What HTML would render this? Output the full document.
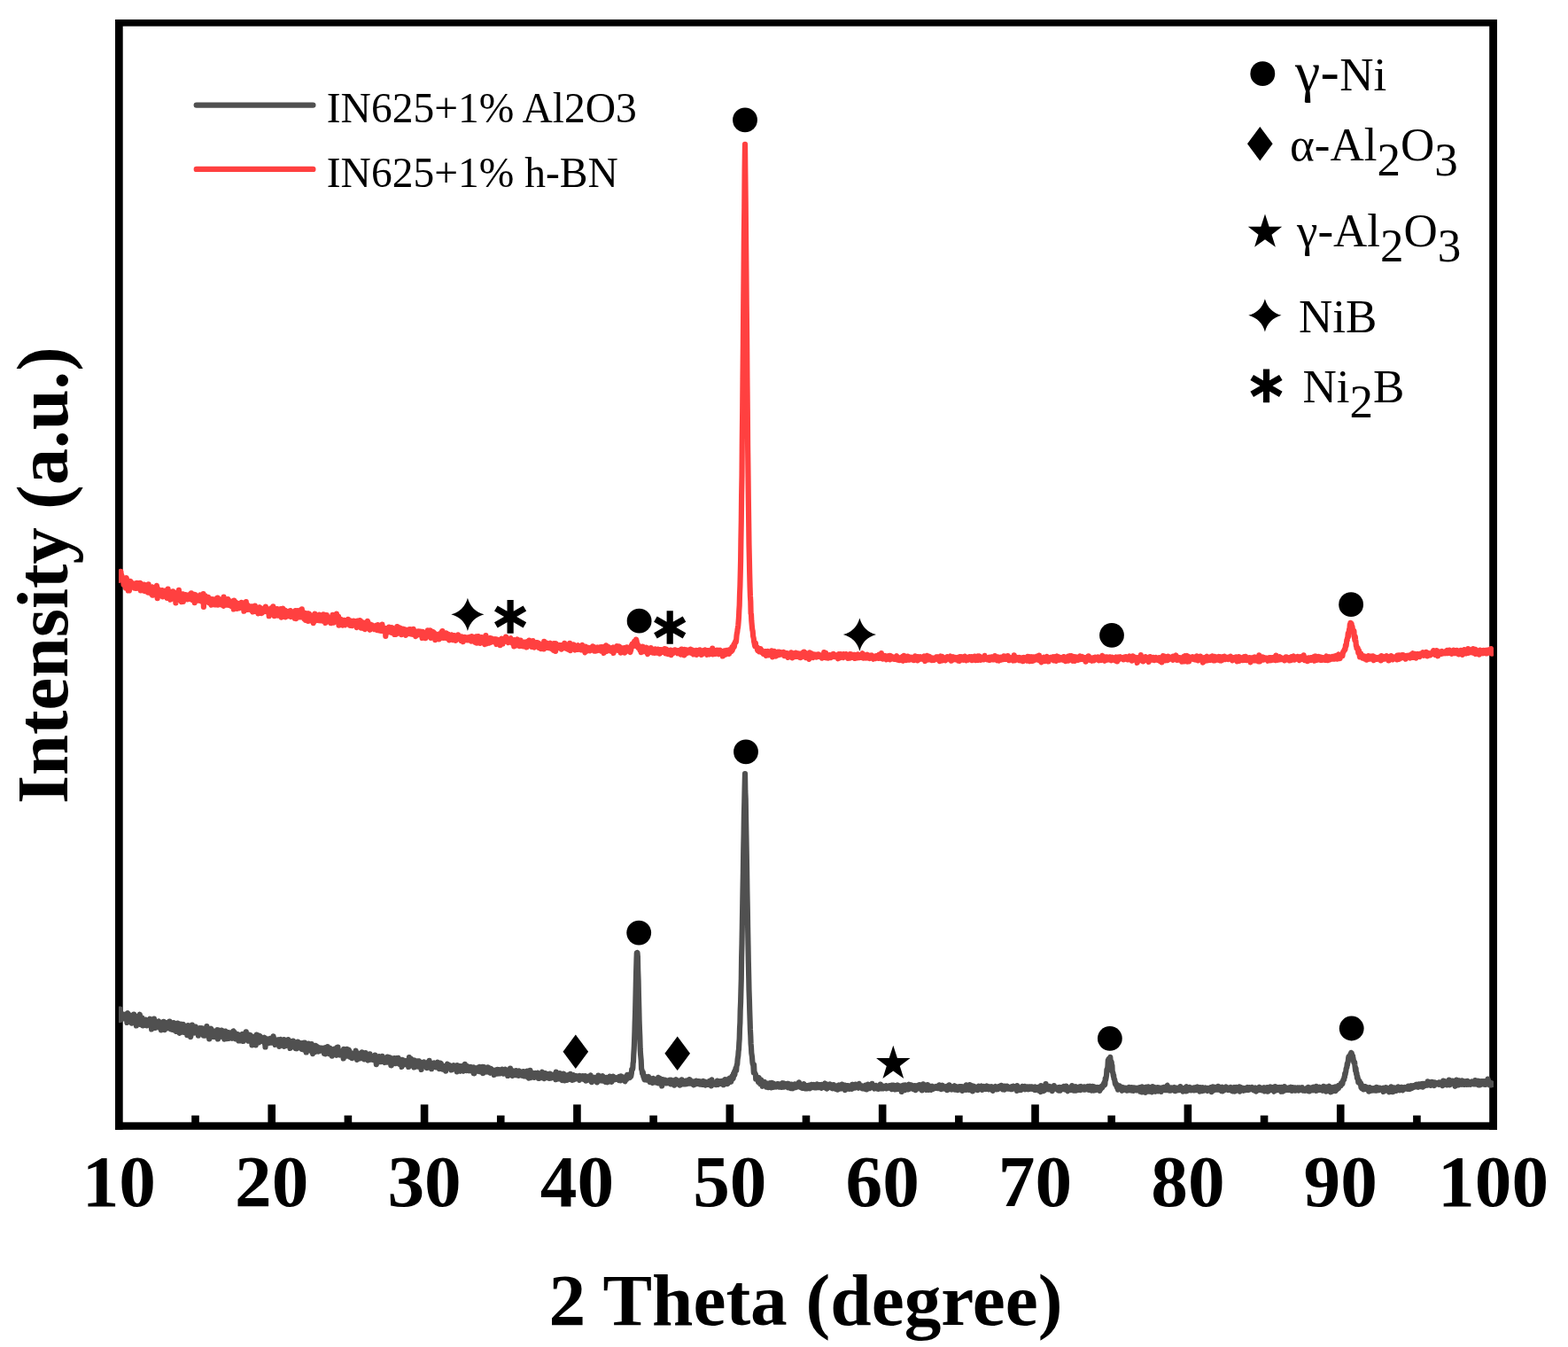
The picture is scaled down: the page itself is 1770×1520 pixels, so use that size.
<!DOCTYPE html>
<html lang="en"><head><meta charset="utf-8"><title>XRD patterns</title>
<style>html,body{margin:0;padding:0;background:#fff;}body{width:1770px;height:1520px;overflow:hidden;}svg{display:block;}</style>
</head><body>
<svg width="1770" height="1520" viewBox="0 0 1770 1520">
<rect width="1770" height="1520" fill="#fff"/>
<g fill="#000">
<rect x="130.0" y="22.0" width="8.70" height="1252.80"/>
<rect x="1681.2" y="22.0" width="8.80" height="1252.80"/>
<rect x="130.0" y="22.0" width="1560.00" height="7.65"/>
<rect x="130.0" y="1266.35" width="1560.00" height="8.45"/>
<rect x="216.23" y="1258.7" width="8.6" height="8.65"/>
<rect x="302.41" y="1246.4" width="8.6" height="20.95"/>
<rect x="388.59" y="1258.7" width="8.6" height="8.65"/>
<rect x="474.77" y="1246.4" width="8.6" height="20.95"/>
<rect x="560.95" y="1258.7" width="8.6" height="8.65"/>
<rect x="647.13" y="1246.4" width="8.6" height="20.95"/>
<rect x="733.31" y="1258.7" width="8.6" height="8.65"/>
<rect x="819.49" y="1246.4" width="8.6" height="20.95"/>
<rect x="905.68" y="1258.7" width="8.6" height="8.65"/>
<rect x="991.86" y="1246.4" width="8.6" height="20.95"/>
<rect x="1078.04" y="1258.7" width="8.6" height="8.65"/>
<rect x="1164.22" y="1246.4" width="8.6" height="20.95"/>
<rect x="1250.40" y="1258.7" width="8.6" height="8.65"/>
<rect x="1336.58" y="1246.4" width="8.6" height="20.95"/>
<rect x="1422.76" y="1258.7" width="8.6" height="8.65"/>
<rect x="1508.94" y="1246.4" width="8.6" height="20.95"/>
<rect x="1595.12" y="1258.7" width="8.6" height="8.65"/>
</g>
<defs><clipPath id="plotclip"><rect x="134.0" y="30" width="1552.0" height="1240"/></clipPath></defs>
<g clip-path="url(#plotclip)">
<path d="M134.3,1146.1 134.7,1144.2 135.0,1144.6 135.4,1138.7 135.7,1151.2 136.1,1149.4 136.4,1145.2 136.8,1148.5 137.1,1147.2 137.5,1144.8 137.8,1149.4 138.2,1145.7 138.5,1145.8 138.9,1144.5 139.2,1148.2 139.6,1146.7 139.9,1148.7 140.3,1145.4 140.6,1147.7 141.0,1144.8 141.3,1149.9 141.7,1148.1 142.0,1148.6 142.4,1148.9 142.7,1144.9 143.1,1150.2 143.4,1154.0 143.8,1143.4 144.1,1143.2 144.5,1144.0 144.8,1150.8 145.2,1148.9 145.5,1151.7 145.9,1150.8 146.2,1149.4 146.6,1149.7 146.9,1148.5 147.3,1151.5 147.6,1145.9 148.0,1148.0 148.3,1150.0 148.7,1154.6 149.0,1147.3 149.4,1146.5 149.7,1148.0 150.1,1152.5 150.4,1149.2 150.8,1153.7 151.1,1144.6 151.5,1153.3 151.8,1153.1 152.2,1146.2 152.5,1150.8 152.9,1153.9 153.2,1150.8 153.6,1153.5 153.9,1157.5 154.3,1151.6 154.6,1150.1 155.0,1148.7 155.3,1152.9 155.7,1150.5 156.0,1150.7 156.4,1151.0 156.7,1153.2 157.1,1148.4 157.4,1147.2 157.8,1144.7 158.1,1155.1 158.5,1152.0 158.8,1156.1 159.2,1151.9 159.5,1149.9 159.9,1153.4 160.2,1152.0 160.6,1148.7 160.9,1149.8 161.3,1157.4 161.6,1153.5 162.0,1153.7 162.3,1151.9 162.7,1150.8 163.0,1155.3 163.4,1152.6 163.7,1150.8 164.1,1152.6 164.4,1150.5 164.8,1153.7 165.1,1156.4 165.5,1151.0 165.8,1157.4 166.2,1151.6 166.5,1154.0 166.9,1151.3 167.2,1153.1 167.6,1153.9 167.9,1152.6 168.3,1151.9 168.6,1152.1 169.0,1151.8 169.3,1149.7 169.7,1153.5 170.0,1155.4 170.4,1156.9 170.7,1156.2 171.1,1161.4 171.4,1155.5 171.8,1153.4 172.1,1160.0 172.5,1151.9 172.8,1157.6 173.2,1152.3 173.5,1156.0 173.9,1149.6 174.2,1157.7 174.6,1154.8 174.9,1152.6 175.3,1160.0 175.6,1157.6 176.0,1155.6 176.3,1153.5 176.7,1155.5 177.0,1155.3 177.4,1157.8 177.7,1158.1 178.1,1154.1 178.4,1154.5 178.8,1154.6 179.1,1152.4 179.5,1154.6 179.8,1156.0 180.2,1158.3 180.5,1160.1 180.9,1154.3 181.2,1158.1 181.6,1155.4 181.9,1162.4 182.3,1156.6 182.6,1158.2 183.0,1154.3 183.3,1154.7 183.7,1157.6 184.0,1156.0 184.4,1158.1 184.7,1152.9 185.1,1159.1 185.4,1154.9 185.8,1162.2 186.1,1156.7 186.5,1160.6 186.8,1153.8 187.2,1158.9 187.5,1155.3 187.9,1156.5 188.2,1158.0 188.6,1157.1 188.9,1158.8 189.3,1160.2 189.6,1160.0 190.0,1158.0 190.3,1154.6 190.7,1156.2 191.0,1157.9 191.4,1152.7 191.7,1160.6 192.1,1158.0 192.4,1158.0 192.8,1161.3 193.1,1160.6 193.5,1159.5 193.8,1156.2 194.2,1159.8 194.5,1160.0 194.9,1156.7 195.2,1162.0 195.6,1160.6 195.9,1154.0 196.3,1159.7 196.6,1156.0 197.0,1162.6 197.3,1161.8 197.7,1156.6 198.0,1157.3 198.4,1160.0 198.7,1159.2 199.1,1164.0 199.4,1161.9 199.8,1159.2 200.1,1161.6 200.5,1154.6 200.8,1161.0 201.2,1162.6 201.5,1159.8 201.9,1158.4 202.2,1162.0 202.6,1165.8 202.9,1161.1 203.3,1157.6 203.6,1164.6 204.0,1155.6 204.3,1162.1 204.7,1159.3 205.0,1163.4 205.4,1158.7 205.7,1164.6 206.1,1161.9 206.4,1156.5 206.8,1155.9 207.1,1160.4 207.5,1164.8 207.8,1161.7 208.2,1161.6 208.5,1160.8 208.9,1163.5 209.2,1162.6 209.6,1162.4 209.9,1159.1 210.3,1164.9 210.6,1165.5 211.0,1158.4 211.3,1168.1 211.7,1163.9 212.0,1160.7 212.4,1157.0 212.7,1163.9 213.1,1163.7 213.4,1160.7 213.8,1157.5 214.1,1165.4 214.5,1160.8 214.8,1161.2 215.2,1170.1 215.5,1168.3 215.9,1165.2 216.2,1161.5 216.6,1164.5 216.9,1156.7 217.3,1163.1 217.6,1160.9 218.0,1159.5 218.3,1158.8 218.7,1164.5 219.0,1163.3 219.4,1163.6 219.7,1165.5 220.1,1161.0 220.4,1160.0 220.8,1158.6 221.1,1162.5 221.5,1165.5 221.8,1163.1 222.2,1165.3 222.5,1160.5 222.9,1162.4 223.2,1161.7 223.6,1160.4 223.9,1168.7 224.3,1166.1 224.6,1161.9 225.0,1161.9 225.3,1163.9 225.7,1160.2 226.0,1165.3 226.4,1160.7 226.7,1163.2 227.1,1161.5 227.4,1163.0 227.8,1160.8 228.1,1160.2 228.5,1161.9 228.8,1162.7 229.2,1163.7 229.5,1164.8 229.9,1168.7 230.2,1166.8 230.6,1164.0 230.9,1166.7 231.3,1163.0 231.6,1168.7 232.0,1166.3 232.3,1161.4 232.7,1167.0 233.0,1167.2 233.4,1158.0 233.7,1163.2 234.1,1163.9 234.4,1160.1 234.8,1162.5 235.1,1162.8 235.5,1166.7 235.8,1166.2 236.2,1172.3 236.5,1164.4 236.9,1168.6 237.2,1165.8 237.6,1166.3 237.9,1162.6 238.3,1160.7 238.6,1163.7 239.0,1167.8 239.3,1170.0 239.7,1167.5 240.0,1167.2 240.4,1163.8 240.7,1170.0 241.1,1169.6 241.4,1164.7 241.8,1166.0 242.1,1163.6 242.5,1170.1 242.8,1167.3 243.2,1166.1 243.5,1167.4 243.9,1167.6 244.2,1165.4 244.6,1163.3 244.9,1163.2 245.3,1162.1 245.6,1167.8 246.0,1172.5 246.3,1162.3 246.7,1167.1 247.0,1167.9 247.4,1164.3 247.7,1167.4 248.1,1164.1 248.4,1170.1 248.8,1165.5 249.1,1167.4 249.5,1168.9 249.8,1166.1 250.2,1162.6 250.5,1165.9 250.9,1169.3 251.2,1167.1 251.6,1168.0 251.9,1164.7 252.3,1167.9 252.6,1169.4 253.0,1167.7 253.3,1172.6 253.7,1167.2 254.0,1165.0 254.4,1163.6 254.7,1170.8 255.1,1167.7 255.4,1170.5 255.8,1169.2 256.1,1172.2 256.5,1171.3 256.8,1167.1 257.2,1168.9 257.5,1171.0 257.9,1165.1 258.2,1172.0 258.6,1171.5 258.9,1170.9 259.3,1167.9 259.6,1169.3 260.0,1165.7 260.3,1168.7 260.7,1167.1 261.0,1168.9 261.4,1167.5 261.7,1169.5 262.1,1171.8 262.4,1165.5 262.8,1171.3 263.1,1163.8 263.5,1163.5 263.8,1168.7 264.2,1169.1 264.5,1170.3 264.9,1165.0 265.2,1169.1 265.6,1169.6 265.9,1172.5 266.3,1169.1 266.6,1170.8 267.0,1167.0 267.3,1169.0 267.7,1168.4 268.0,1171.4 268.4,1167.1 268.7,1167.6 269.1,1171.2 269.4,1174.4 269.8,1170.8 270.1,1170.7 270.5,1169.1 270.8,1172.8 271.2,1171.4 271.5,1174.5 271.9,1171.0 272.2,1167.7 272.6,1168.8 272.9,1167.7 273.3,1167.1 273.6,1173.6 274.0,1172.5 274.3,1167.3 274.7,1175.0 275.0,1171.2 275.4,1168.2 275.7,1171.6 276.1,1170.5 276.4,1168.8 276.8,1165.8 277.1,1170.9 277.5,1171.6 277.8,1164.4 278.2,1172.4 278.5,1172.6 278.9,1169.9 279.2,1171.4 279.6,1170.4 279.9,1169.1 280.3,1170.3 280.6,1174.7 281.0,1167.7 281.3,1172.0 281.7,1171.9 282.0,1169.7 282.4,1170.4 282.7,1168.0 283.1,1169.5 283.4,1171.7 283.8,1172.5 284.1,1169.5 284.5,1179.5 284.8,1170.4 285.2,1172.2 285.5,1171.4 285.9,1171.0 286.2,1175.3 286.6,1170.9 286.9,1175.5 287.3,1175.1 287.6,1169.6 288.0,1174.9 288.3,1170.7 288.7,1179.3 289.0,1171.5 289.4,1170.1 289.7,1167.7 290.1,1169.3 290.4,1171.2 290.8,1170.2 291.1,1169.6 291.5,1171.0 291.8,1172.3 292.2,1176.5 292.5,1168.7 292.9,1171.6 293.2,1170.6 293.6,1169.3 293.9,1170.0 294.3,1170.9 294.6,1175.0 295.0,1172.8 295.3,1172.0 295.7,1174.9 296.0,1174.1 296.4,1172.9 296.7,1174.5 297.1,1171.5 297.4,1175.2 297.8,1174.8 298.1,1172.7 298.5,1170.7 298.8,1177.6 299.2,1174.1 299.5,1181.5 299.9,1172.4 300.2,1176.2 300.6,1173.0 300.9,1174.8 301.3,1176.3 301.6,1172.3 302.0,1174.0 302.3,1174.7 302.7,1174.7 303.0,1175.9 303.4,1177.0 303.7,1176.6 304.1,1175.3 304.4,1173.8 304.8,1171.9 305.1,1172.9 305.5,1173.5 305.8,1176.6 306.2,1174.0 306.5,1171.9 306.9,1176.6 307.2,1173.1 307.6,1173.2 307.9,1174.6 308.3,1176.4 308.6,1169.4 309.0,1172.6 309.3,1175.8 309.7,1174.6 310.0,1173.4 310.4,1174.2 310.7,1179.0 311.1,1174.6 311.4,1177.5 311.8,1177.7 312.1,1174.7 312.5,1177.0 312.8,1174.8 313.2,1174.5 313.5,1173.3 313.9,1178.3 314.2,1175.2 314.6,1174.9 314.9,1173.5 315.3,1180.8 315.6,1178.2 316.0,1176.1 316.3,1174.8 316.7,1172.8 317.0,1177.3 317.4,1177.4 317.7,1173.3 318.1,1179.6 318.4,1178.7 318.8,1174.5 319.1,1175.6 319.5,1176.0 319.8,1177.4 320.2,1176.8 320.5,1173.2 320.9,1180.8 321.2,1178.0 321.6,1180.4 321.9,1180.4 322.3,1176.9 322.6,1178.3 323.0,1179.3 323.3,1179.5 323.7,1177.3 324.0,1176.2 324.4,1177.9 324.7,1175.9 325.1,1176.6 325.4,1173.0 325.8,1178.2 326.1,1175.6 326.5,1176.8 326.8,1178.1 327.2,1179.0 327.5,1182.9 327.9,1178.8 328.2,1175.0 328.6,1178.8 328.9,1177.1 329.3,1179.5 329.6,1177.0 330.0,1177.0 330.3,1177.5 330.7,1177.3 331.0,1174.5 331.4,1177.3 331.7,1178.9 332.1,1181.9 332.4,1178.4 332.8,1178.3 333.1,1180.6 333.5,1180.6 333.8,1183.2 334.2,1180.8 334.5,1179.4 334.9,1182.7 335.2,1183.2 335.6,1178.5 335.9,1180.1 336.3,1175.7 336.6,1178.9 337.0,1177.7 337.3,1179.4 337.7,1178.8 338.0,1179.6 338.4,1179.8 338.7,1181.3 339.1,1180.7 339.4,1178.9 339.8,1177.2 340.1,1183.3 340.5,1183.8 340.8,1179.4 341.2,1181.9 341.5,1177.0 341.9,1176.9 342.2,1180.1 342.6,1184.3 342.9,1178.3 343.3,1178.9 343.6,1184.8 344.0,1176.5 344.3,1182.6 344.7,1182.3 345.0,1180.7 345.4,1181.7 345.7,1187.5 346.1,1178.7 346.4,1180.7 346.8,1180.9 347.1,1179.9 347.5,1178.4 347.8,1185.4 348.2,1182.2 348.5,1177.6 348.9,1180.2 349.2,1182.8 349.6,1182.9 349.9,1178.6 350.3,1181.8 350.6,1182.7 351.0,1183.1 351.3,1183.1 351.7,1178.0 352.0,1186.7 352.4,1182.9 352.7,1186.7 353.1,1189.2 353.4,1182.2 353.8,1179.7 354.1,1184.7 354.5,1182.3 354.8,1181.7 355.2,1180.4 355.5,1186.9 355.9,1181.9 356.2,1179.8 356.6,1182.1 356.9,1180.5 357.3,1183.6 357.6,1182.3 358.0,1180.9 358.3,1184.8 358.7,1182.0 359.0,1185.2 359.4,1186.5 359.7,1182.8 360.1,1182.2 360.4,1184.2 360.8,1185.9 361.1,1183.9 361.5,1184.3 361.8,1183.9 362.2,1184.8 362.5,1185.6 362.9,1182.5 363.2,1183.1 363.6,1184.4 363.9,1182.8 364.3,1184.7 364.6,1185.7 365.0,1184.5 365.3,1183.2 365.7,1182.9 366.0,1188.8 366.4,1186.8 366.7,1182.3 367.1,1183.0 367.4,1189.3 367.8,1188.5 368.1,1185.4 368.5,1187.8 368.8,1181.8 369.2,1185.3 369.5,1187.0 369.9,1181.1 370.2,1183.6 370.6,1187.3 370.9,1188.2 371.3,1184.3 371.6,1186.3 372.0,1189.4 372.3,1184.9 372.7,1182.8 373.0,1185.8 373.4,1185.1 373.7,1189.0 374.1,1186.5 374.4,1184.3 374.8,1191.7 375.1,1185.1 375.5,1187.4 375.8,1187.9 376.2,1188.3 376.5,1186.9 376.9,1187.9 377.2,1186.5 377.6,1183.5 377.9,1186.3 378.3,1186.4 378.6,1186.5 379.0,1187.3 379.3,1185.6 379.7,1190.1 380.0,1190.7 380.4,1182.2 380.7,1187.3 381.1,1185.7 381.4,1181.5 381.8,1188.4 382.1,1186.1 382.5,1186.7 382.8,1186.1 383.2,1190.1 383.5,1190.5 383.9,1188.4 384.2,1189.4 384.6,1187.7 384.9,1188.3 385.3,1186.4 385.6,1188.2 386.0,1186.5 386.3,1189.0 386.7,1190.1 387.0,1189.0 387.4,1191.0 387.7,1194.5 388.1,1183.8 388.4,1188.6 388.8,1187.4 389.1,1187.7 389.5,1185.7 389.8,1188.9 390.2,1188.3 390.5,1187.5 390.9,1188.4 391.2,1187.7 391.6,1183.9 391.9,1191.6 392.3,1188.5 392.6,1187.2 393.0,1190.0 393.3,1187.9 393.7,1184.6 394.0,1191.5 394.4,1185.8 394.7,1189.2 395.1,1190.0 395.4,1192.8 395.8,1192.5 396.1,1190.2 396.5,1188.2 396.8,1189.1 397.2,1192.5 397.5,1194.1 397.9,1191.4 398.2,1188.8 398.6,1192.6 398.9,1189.5 399.3,1189.5 399.6,1189.9 400.0,1191.9 400.3,1191.2 400.7,1192.9 401.0,1193.6 401.4,1191.9 401.7,1185.7 402.1,1187.2 402.4,1191.3 402.8,1190.9 403.1,1195.9 403.5,1191.1 403.8,1190.9 404.2,1193.4 404.5,1193.7 404.9,1190.9 405.2,1192.5 405.6,1189.1 405.9,1189.5 406.3,1194.4 406.6,1188.6 407.0,1193.8 407.3,1193.3 407.7,1193.6 408.0,1194.0 408.4,1193.3 408.7,1187.4 409.1,1190.0 409.4,1190.9 409.8,1194.3 410.1,1189.9 410.5,1190.9 410.8,1191.7 411.2,1195.4 411.5,1189.4 411.9,1189.7 412.2,1194.1 412.6,1188.2 412.9,1193.5 413.3,1191.9 413.6,1189.5 414.0,1192.1 414.3,1190.9 414.7,1193.5 415.0,1194.0 415.4,1196.5 415.7,1193.3 416.1,1193.6 416.4,1192.2 416.8,1193.4 417.1,1195.8 417.5,1189.4 417.8,1195.1 418.2,1192.5 418.5,1193.9 418.9,1194.5 419.2,1195.7 419.6,1194.4 419.9,1193.1 420.3,1194.7 420.6,1194.1 421.0,1193.7 421.3,1194.6 421.7,1196.1 422.0,1194.6 422.4,1194.7 422.7,1191.7 423.1,1194.2 423.4,1190.6 423.8,1196.1 424.1,1192.6 424.5,1197.5 424.8,1201.1 425.2,1194.0 425.5,1197.7 425.9,1195.8 426.2,1193.8 426.6,1193.2 426.9,1196.3 427.3,1198.1 427.6,1195.9 428.0,1192.0 428.3,1193.1 428.7,1194.8 429.0,1198.2 429.4,1196.0 429.7,1196.2 430.1,1198.1 430.4,1195.1 430.8,1195.4 431.1,1195.3 431.5,1191.9 431.8,1196.7 432.2,1196.7 432.5,1197.9 432.9,1193.4 433.2,1194.2 433.6,1198.0 433.9,1196.7 434.3,1199.0 434.6,1194.3 435.0,1196.6 435.3,1194.8 435.7,1196.9 436.0,1195.3 436.4,1197.5 436.7,1198.7 437.1,1197.8 437.4,1192.7 437.8,1198.5 438.1,1197.5 438.5,1194.4 438.8,1194.8 439.2,1196.7 439.5,1197.9 439.9,1195.8 440.2,1193.4 440.6,1197.5 440.9,1197.3 441.3,1202.1 441.6,1194.3 442.0,1202.3 442.3,1200.7 442.7,1197.7 443.0,1200.6 443.4,1197.4 443.7,1199.3 444.1,1195.7 444.4,1197.5 444.8,1195.2 445.1,1194.1 445.5,1196.9 445.8,1196.1 446.2,1198.7 446.5,1200.2 446.9,1197.3 447.2,1197.8 447.6,1198.1 447.9,1194.2 448.3,1198.3 448.6,1197.8 449.0,1197.7 449.3,1195.6 449.7,1193.8 450.0,1197.4 450.4,1198.7 450.7,1200.8 451.1,1200.4 451.4,1201.1 451.8,1198.9 452.1,1200.6 452.5,1197.8 452.8,1199.6 453.2,1200.2 453.5,1203.9 453.9,1198.9 454.2,1195.8 454.6,1201.3 454.9,1196.9 455.3,1198.4 455.6,1198.0 456.0,1196.7 456.3,1201.4 456.7,1199.9 457.0,1197.5 457.4,1198.9 457.7,1197.9 458.1,1200.1 458.4,1198.1 458.8,1197.3 459.1,1197.6 459.5,1198.1 459.8,1199.6 460.2,1197.2 460.5,1198.9 460.9,1200.1 461.2,1204.0 461.6,1201.0 461.9,1193.1 462.3,1198.3 462.6,1198.5 463.0,1200.0 463.3,1202.6 463.7,1201.0 464.0,1194.8 464.4,1200.2 464.7,1199.8 465.1,1200.4 465.4,1202.4 465.8,1197.5 466.1,1202.0 466.5,1196.4 466.8,1199.9 467.2,1200.6 467.5,1204.5 467.9,1198.5 468.2,1196.5 468.6,1201.4 468.9,1198.7 469.3,1203.2 469.6,1198.7 470.0,1198.4 470.3,1202.7 470.7,1200.4 471.0,1202.3 471.4,1197.4 471.7,1203.7 472.1,1199.2 472.4,1202.1 472.8,1198.4 473.1,1197.3 473.5,1200.0 473.8,1200.9 474.2,1203.8 474.5,1201.3 474.9,1202.1 475.2,1202.0 475.6,1207.0 475.9,1199.1 476.3,1203.4 476.6,1200.6 477.0,1201.4 477.3,1199.9 477.7,1203.3 478.0,1198.5 478.4,1198.4 478.7,1200.7 479.1,1198.8 479.4,1202.6 479.8,1203.1 480.1,1199.8 480.5,1202.9 480.8,1200.0 481.2,1201.3 481.5,1201.5 481.9,1205.2 482.2,1201.5 482.6,1199.7 482.9,1199.8 483.3,1204.1 483.6,1198.3 484.0,1200.8 484.3,1201.0 484.7,1196.9 485.0,1200.9 485.4,1203.9 485.7,1202.4 486.1,1200.2 486.4,1203.4 486.8,1203.1 487.1,1206.2 487.5,1200.7 487.8,1201.4 488.2,1202.3 488.5,1202.0 488.9,1202.5 489.2,1202.2 489.6,1201.0 489.9,1199.3 490.3,1201.4 490.6,1199.8 491.0,1200.5 491.3,1201.6 491.7,1203.7 492.0,1204.4 492.4,1200.7 492.7,1203.4 493.1,1204.4 493.4,1202.8 493.8,1199.7 494.1,1198.7 494.5,1204.6 494.8,1204.9 495.2,1203.7 495.5,1201.1 495.9,1206.1 496.2,1205.6 496.6,1203.2 496.9,1202.9 497.3,1199.5 497.6,1204.9 498.0,1200.3 498.3,1204.8 498.7,1205.0 499.0,1203.8 499.4,1206.7 499.7,1203.0 500.1,1204.9 500.4,1205.3 500.8,1204.3 501.1,1203.0 501.5,1206.3 501.8,1204.8 502.2,1203.6 502.5,1203.7 502.9,1204.3 503.2,1208.6 503.6,1204.4 503.9,1203.7 504.3,1202.2 504.6,1201.9 505.0,1200.6 505.3,1204.8 505.7,1204.5 506.0,1202.4 506.4,1201.6 506.7,1203.9 507.1,1203.5 507.4,1202.0 507.8,1205.2 508.1,1205.0 508.5,1204.6 508.8,1206.3 509.2,1203.5 509.5,1207.5 509.9,1202.9 510.2,1205.9 510.6,1206.2 510.9,1204.5 511.3,1205.7 511.6,1202.6 512.0,1202.2 512.3,1204.8 512.7,1203.8 513.0,1206.4 513.4,1205.3 513.7,1206.5 514.1,1206.0 514.4,1205.8 514.8,1205.6 515.1,1204.7 515.5,1204.6 515.8,1209.4 516.2,1202.2 516.5,1205.2 516.9,1207.6 517.2,1206.5 517.6,1208.4 517.9,1206.8 518.3,1203.3 518.6,1205.2 519.0,1203.1 519.3,1207.7 519.7,1208.7 520.0,1205.1 520.4,1207.0 520.7,1205.2 521.1,1203.3 521.4,1205.2 521.8,1203.0 522.1,1205.0 522.5,1206.5 522.8,1207.6 523.2,1208.7 523.5,1205.6 523.9,1206.7 524.2,1207.1 524.6,1207.4 524.9,1200.9 525.3,1204.9 525.6,1207.9 526.0,1204.3 526.3,1207.0 526.7,1208.1 527.0,1202.9 527.4,1206.2 527.7,1207.1 528.1,1206.7 528.4,1203.7 528.8,1207.3 529.1,1205.7 529.5,1208.3 529.8,1207.6 530.2,1205.8 530.5,1207.2 530.9,1205.5 531.2,1205.6 531.6,1203.9 531.9,1206.5 532.3,1208.5 532.6,1207.2 533.0,1207.0 533.3,1205.8 533.7,1206.1 534.0,1208.5 534.4,1204.3 534.7,1211.0 535.1,1207.0 535.4,1211.3 535.8,1209.4 536.1,1206.5 536.5,1208.7 536.8,1207.8 537.2,1208.2 537.5,1208.8 537.9,1206.3 538.2,1206.2 538.6,1206.6 538.9,1204.9 539.3,1207.0 539.6,1207.9 540.0,1208.0 540.3,1207.9 540.7,1206.8 541.0,1209.1 541.4,1203.8 541.7,1206.9 542.1,1207.1 542.4,1209.4 542.8,1209.0 543.1,1209.3 543.5,1207.8 543.8,1209.6 544.2,1205.9 544.5,1208.0 544.9,1203.9 545.2,1211.1 545.6,1210.9 545.9,1206.8 546.3,1206.4 546.6,1204.1 547.0,1205.2 547.3,1208.3 547.7,1207.8 548.0,1205.3 548.4,1207.2 548.7,1206.9 549.1,1209.1 549.4,1209.5 549.8,1207.8 550.1,1208.5 550.5,1208.3 550.8,1204.4 551.2,1208.7 551.5,1208.3 551.9,1209.8 552.2,1205.0 552.6,1209.9 552.9,1207.3 553.3,1209.0 553.6,1210.8 554.0,1205.8 554.3,1206.2 554.7,1210.5 555.0,1206.6 555.4,1206.9 555.7,1209.9 556.1,1208.4 556.4,1210.2 556.8,1209.4 557.1,1208.8 557.5,1210.7 557.8,1213.0 558.2,1208.7 558.5,1211.7 558.9,1211.1 559.2,1209.2 559.6,1209.9 559.9,1207.3 560.3,1208.0 560.6,1209.6 561.0,1209.1 561.3,1211.6 561.7,1206.8 562.0,1208.7 562.4,1208.1 562.7,1209.0 563.1,1211.5 563.4,1207.1 563.8,1211.0 564.1,1208.3 564.5,1208.9 564.8,1211.3 565.2,1209.0 565.5,1210.8 565.9,1209.8 566.2,1209.3 566.6,1209.0 566.9,1206.5 567.3,1208.3 567.6,1210.0 568.0,1210.1 568.3,1207.0 568.7,1211.7 569.0,1210.9 569.4,1207.5 569.7,1208.0 570.1,1210.9 570.4,1206.7 570.8,1208.6 571.1,1209.9 571.5,1209.8 571.8,1210.0 572.2,1210.8 572.5,1208.7 572.9,1209.3 573.2,1214.0 573.6,1207.7 573.9,1209.5 574.3,1210.5 574.6,1209.2 575.0,1212.6 575.3,1210.5 575.7,1211.8 576.0,1205.7 576.4,1212.7 576.7,1212.6 577.1,1209.2 577.4,1213.0 577.8,1211.1 578.1,1212.3 578.5,1214.0 578.8,1210.9 579.2,1208.9 579.5,1210.8 579.9,1208.5 580.2,1209.4 580.6,1209.5 580.9,1209.6 581.3,1213.1 581.6,1212.5 582.0,1209.4 582.3,1213.1 582.7,1208.0 583.0,1209.9 583.4,1210.9 583.7,1213.3 584.1,1212.5 584.4,1212.1 584.8,1213.6 585.1,1212.6 585.5,1213.8 585.8,1210.0 586.2,1208.4 586.5,1210.7 586.9,1213.0 587.2,1212.0 587.6,1213.1 587.9,1212.8 588.3,1212.5 588.6,1213.1 589.0,1210.4 589.3,1213.7 589.7,1209.9 590.0,1211.5 590.4,1209.2 590.7,1212.7 591.1,1209.1 591.4,1214.4 591.8,1209.5 592.1,1212.4 592.5,1211.7 592.8,1210.4 593.2,1214.3 593.5,1211.3 593.9,1214.7 594.2,1210.3 594.6,1210.7 594.9,1208.6 595.3,1213.2 595.6,1213.9 596.0,1212.7 596.3,1212.0 596.7,1210.7 597.0,1216.6 597.4,1213.7 597.7,1209.1 598.1,1211.9 598.4,1207.8 598.8,1215.3 599.1,1216.1 599.5,1215.2 599.8,1212.5 600.2,1211.6 600.5,1210.2 600.9,1213.6 601.2,1211.4 601.6,1212.1 601.9,1211.7 602.3,1212.3 602.6,1214.4 603.0,1215.9 603.3,1213.2 603.7,1213.0 604.0,1211.0 604.4,1210.8 604.7,1211.1 605.1,1214.6 605.4,1213.5 605.8,1214.8 606.1,1213.9 606.5,1212.5 606.8,1211.0 607.2,1212.6 607.5,1210.7 607.9,1216.8 608.2,1213.8 608.6,1212.7 608.9,1216.9 609.3,1212.7 609.6,1214.4 610.0,1213.2 610.3,1214.1 610.7,1212.9 611.0,1214.4 611.4,1216.1 611.7,1211.4 612.1,1209.7 612.4,1216.1 612.8,1214.0 613.1,1215.3 613.5,1213.3 613.8,1216.5 614.2,1217.0 614.5,1211.8 614.9,1215.1 615.2,1212.8 615.6,1211.1 615.9,1213.4 616.3,1215.0 616.6,1211.6 617.0,1211.8 617.3,1216.2 617.7,1214.1 618.0,1214.8 618.4,1212.1 618.7,1213.0 619.1,1214.4 619.4,1214.5 619.8,1214.5 620.1,1217.0 620.5,1214.5 620.8,1211.6 621.2,1212.7 621.5,1214.2 621.9,1216.6 622.2,1213.1 622.6,1213.7 622.9,1214.3 623.3,1213.2 623.6,1213.0 624.0,1214.0 624.3,1216.2 624.7,1215.3 625.0,1214.0 625.4,1215.2 625.7,1212.3 626.1,1216.3 626.4,1215.9 626.8,1215.2 627.1,1211.8 627.5,1218.2 627.8,1209.6 628.2,1213.0 628.5,1213.1 628.9,1216.0 629.2,1212.2 629.6,1215.2 629.9,1214.6 630.3,1214.4 630.6,1216.4 631.0,1217.4 631.3,1215.6 631.7,1214.5 632.0,1211.0 632.4,1217.6 632.7,1214.5 633.1,1211.8 633.4,1215.4 633.8,1217.6 634.1,1214.9 634.5,1213.1 634.8,1219.1 635.2,1216.3 635.5,1215.8 635.9,1217.0 636.2,1211.5 636.6,1215.2 636.9,1215.0 637.3,1219.3 637.6,1214.4 638.0,1214.4 638.3,1213.0 638.7,1214.0 639.0,1215.1 639.4,1215.9 639.7,1215.2 640.1,1219.0 640.4,1216.4 640.8,1216.7 641.1,1218.0 641.5,1216.7 641.8,1214.7 642.2,1213.0 642.5,1216.3 642.9,1214.3 643.2,1218.0 643.6,1214.4 643.9,1211.9 644.3,1215.9 644.6,1217.7 645.0,1215.5 645.3,1216.2 645.7,1216.1 646.0,1218.9 646.4,1216.4 646.7,1215.9 647.1,1214.9 647.4,1213.1 647.8,1218.4 648.1,1218.0 648.5,1214.4 648.8,1217.1 649.2,1216.6 649.5,1215.4 649.9,1215.6 650.2,1217.4 650.6,1214.1 650.9,1215.3 651.3,1216.0 651.6,1216.2 652.0,1215.9 652.3,1216.6 652.7,1217.2 653.0,1214.7 653.4,1216.4 653.7,1215.4 654.1,1218.9 654.4,1213.9 654.8,1216.0 655.1,1217.6 655.5,1215.9 655.8,1215.9 656.2,1215.5 656.5,1217.0 656.9,1214.5 657.2,1216.4 657.6,1216.4 657.9,1214.0 658.3,1217.0 658.6,1215.8 659.0,1217.1 659.3,1218.1 659.7,1217.2 660.0,1214.6 660.4,1217.2 660.7,1214.0 661.1,1215.4 661.4,1219.6 661.8,1216.8 662.1,1219.5 662.5,1216.5 662.8,1216.8 663.2,1214.9 663.5,1218.5 663.9,1216.5 664.2,1218.0 664.6,1217.7 664.9,1217.9 665.3,1217.5 665.6,1216.9 666.0,1217.0 666.3,1215.8 666.7,1213.4 667.0,1217.9 667.4,1220.6 667.7,1218.9 668.1,1221.1 668.4,1218.0 668.8,1215.5 669.1,1215.5 669.5,1218.5 669.8,1217.8 670.2,1217.0 670.5,1218.5 670.9,1215.8 671.2,1218.2 671.6,1216.8 671.9,1217.6 672.3,1219.4 672.6,1217.1 673.0,1219.7 673.3,1219.6 673.7,1216.1 674.0,1221.4 674.4,1215.3 674.7,1217.3 675.1,1218.7 675.4,1213.6 675.8,1219.2 676.1,1219.4 676.5,1217.3 676.8,1218.0 677.2,1217.9 677.5,1217.2 677.9,1219.4 678.2,1217.0 678.6,1217.5 678.9,1218.2 679.3,1219.1 679.6,1219.5 680.0,1215.1 680.3,1214.2 680.7,1217.4 681.0,1217.6 681.4,1215.9 681.7,1218.2 682.1,1218.8 682.4,1218.3 682.8,1220.5 683.1,1216.0 683.5,1217.8 683.8,1221.0 684.2,1218.9 684.5,1215.9 684.9,1218.1 685.2,1219.7 685.6,1221.3 685.9,1218.9 686.3,1219.7 686.6,1215.9 687.0,1217.4 687.3,1219.8 687.7,1216.2 688.0,1217.7 688.4,1214.6 688.7,1220.3 689.1,1217.6 689.4,1218.7 689.8,1215.3 690.1,1215.6 690.5,1220.8 690.8,1217.2 691.2,1216.9 691.5,1218.6 691.9,1218.7 692.2,1214.5 692.6,1216.1 692.9,1217.9 693.3,1217.8 693.6,1218.3 694.0,1217.0 694.3,1217.3 694.7,1218.1 695.0,1216.6 695.4,1216.3 695.7,1216.8 696.1,1217.7 696.4,1217.4 696.8,1216.9 697.1,1217.3 697.5,1217.6 697.8,1218.2 698.2,1218.2 698.5,1215.5 698.9,1219.2 699.2,1214.9 699.6,1218.5 699.9,1216.4 700.3,1218.5 700.6,1219.3 701.0,1214.3 701.3,1218.4 701.7,1217.9 702.0,1216.6 702.4,1218.0 702.7,1216.5 703.1,1217.5 703.4,1215.5 703.8,1218.5 704.1,1218.1 704.5,1218.3 704.8,1215.9 705.2,1220.0 705.5,1220.2 705.9,1216.6 706.2,1216.0 706.6,1215.9 706.9,1217.7 707.3,1218.1 707.6,1215.0 708.0,1212.8 708.3,1216.8 708.7,1215.8 709.0,1216.0 709.4,1216.3 709.7,1213.4 710.1,1215.1 710.4,1214.2 710.8,1215.0 711.1,1216.1 711.5,1213.6 711.8,1211.7 712.2,1214.7 712.5,1213.1 712.9,1210.7 713.2,1206.8 713.6,1207.0 713.9,1207.0 714.3,1205.3 714.6,1200.1 715.0,1197.7 715.3,1190.2 715.7,1183.7 716.0,1177.2 716.4,1165.4 716.7,1154.4 717.1,1142.7 717.4,1128.9 717.8,1110.8 718.1,1097.6 718.5,1083.5 718.8,1075.2 719.2,1075.0 719.5,1075.3 719.9,1079.7 720.2,1095.6 720.6,1106.4 720.9,1122.0 721.3,1137.9 721.6,1151.5 722.0,1162.9 722.3,1169.7 722.7,1183.8 723.0,1188.9 723.4,1193.3 723.7,1196.5 724.1,1206.3 724.4,1206.9 724.8,1208.9 725.1,1211.3 725.5,1211.3 725.8,1209.9 726.2,1214.3 726.5,1215.5 726.9,1215.2 727.2,1217.4 727.6,1218.4 727.9,1214.3 728.3,1215.2 728.6,1217.7 729.0,1216.8 729.3,1217.1 729.7,1218.5 730.0,1218.4 730.4,1216.6 730.7,1217.8 731.1,1216.5 731.4,1217.5 731.8,1216.2 732.1,1214.9 732.5,1217.4 732.8,1217.4 733.2,1219.9 733.5,1221.1 733.9,1218.7 734.2,1219.5 734.6,1217.8 734.9,1217.4 735.3,1218.6 735.6,1218.6 736.0,1219.6 736.3,1219.4 736.7,1222.0 737.0,1219.0 737.4,1216.8 737.7,1219.7 738.1,1218.5 738.4,1219.9 738.8,1221.4 739.1,1218.7 739.5,1219.6 739.8,1220.6 740.2,1218.3 740.5,1220.2 740.9,1220.8 741.2,1221.3 741.6,1221.7 741.9,1220.9 742.3,1220.7 742.6,1217.9 743.0,1215.9 743.3,1218.6 743.7,1222.5 744.0,1220.4 744.4,1216.7 744.7,1219.6 745.1,1220.9 745.4,1217.4 745.8,1221.3 746.1,1218.6 746.5,1222.1 746.8,1220.5 747.2,1225.4 747.5,1218.4 747.9,1221.0 748.2,1218.2 748.6,1222.4 748.9,1220.8 749.3,1222.1 749.6,1220.8 750.0,1218.8 750.3,1219.6 750.7,1218.7 751.0,1219.0 751.4,1221.0 751.7,1222.4 752.1,1222.1 752.4,1221.6 752.8,1219.9 753.1,1221.6 753.5,1219.5 753.8,1221.2 754.2,1222.2 754.5,1220.6 754.9,1220.1 755.2,1220.2 755.6,1221.9 755.9,1220.4 756.3,1218.7 756.6,1220.3 757.0,1219.3 757.3,1223.3 757.7,1221.0 758.0,1218.7 758.4,1221.4 758.7,1222.1 759.1,1221.6 759.4,1220.5 759.8,1221.3 760.1,1221.5 760.5,1222.6 760.8,1221.6 761.2,1224.7 761.5,1220.8 761.9,1223.5 762.2,1221.1 762.6,1218.4 762.9,1219.3 763.3,1218.3 763.6,1218.5 764.0,1223.1 764.3,1220.1 764.7,1222.1 765.0,1219.8 765.4,1221.2 765.7,1219.6 766.1,1222.6 766.4,1220.8 766.8,1220.5 767.1,1221.0 767.5,1224.7 767.8,1222.0 768.2,1222.6 768.5,1219.3 768.9,1220.3 769.2,1221.8 769.6,1218.4 769.9,1223.4 770.3,1221.7 770.6,1221.3 771.0,1221.0 771.3,1221.0 771.7,1220.6 772.0,1223.5 772.4,1222.4 772.7,1223.3 773.1,1220.9 773.4,1220.0 773.8,1223.5 774.1,1219.5 774.5,1220.5 774.8,1222.5 775.2,1223.1 775.5,1219.4 775.9,1221.0 776.2,1221.5 776.6,1221.3 776.9,1220.1 777.3,1222.6 777.6,1220.7 778.0,1221.1 778.3,1218.0 778.7,1221.4 779.0,1218.5 779.4,1222.7 779.7,1222.3 780.1,1220.8 780.4,1221.8 780.8,1221.8 781.1,1221.4 781.5,1222.2 781.8,1221.4 782.2,1220.9 782.5,1220.4 782.9,1224.3 783.2,1222.0 783.6,1221.6 783.9,1222.8 784.3,1221.1 784.6,1221.1 785.0,1222.8 785.3,1223.3 785.7,1222.8 786.0,1219.5 786.4,1221.9 786.7,1221.7 787.1,1222.5 787.4,1220.4 787.8,1220.2 788.1,1221.6 788.5,1220.5 788.8,1220.2 789.2,1221.8 789.5,1223.3 789.9,1222.1 790.2,1223.6 790.6,1220.4 790.9,1223.0 791.3,1221.9 791.6,1220.6 792.0,1221.3 792.3,1220.7 792.7,1221.7 793.0,1220.8 793.4,1224.0 793.7,1221.5 794.1,1219.9 794.4,1221.8 794.8,1222.7 795.1,1221.6 795.5,1223.4 795.8,1220.7 796.2,1220.8 796.5,1224.6 796.9,1222.2 797.2,1223.0 797.6,1222.9 797.9,1223.1 798.3,1222.3 798.6,1221.9 799.0,1223.9 799.3,1221.5 799.7,1222.4 800.0,1223.3 800.4,1221.7 800.7,1219.9 801.1,1223.0 801.4,1224.0 801.8,1222.7 802.1,1219.8 802.5,1223.3 802.8,1225.4 803.2,1220.0 803.5,1218.3 803.9,1222.0 804.2,1222.5 804.6,1223.6 804.9,1223.7 805.3,1222.6 805.6,1223.3 806.0,1223.0 806.3,1222.7 806.7,1222.4 807.0,1222.3 807.4,1223.6 807.7,1223.1 808.1,1221.9 808.4,1224.2 808.8,1221.4 809.1,1222.2 809.5,1222.8 809.8,1219.7 810.2,1222.0 810.5,1223.9 810.9,1223.8 811.2,1220.8 811.6,1221.3 811.9,1220.9 812.3,1222.2 812.6,1222.5 813.0,1220.2 813.3,1223.0 813.7,1222.6 814.0,1222.4 814.4,1221.5 814.7,1222.2 815.1,1219.8 815.4,1222.8 815.8,1222.7 816.1,1222.2 816.5,1220.6 816.8,1224.2 817.2,1224.0 817.5,1219.4 817.9,1222.8 818.2,1222.3 818.6,1218.2 818.9,1222.8 819.3,1222.9 819.6,1222.9 820.0,1222.0 820.3,1220.6 820.7,1220.7 821.0,1222.2 821.4,1223.0 821.7,1220.4 822.1,1220.5 822.4,1221.8 822.8,1217.3 823.1,1221.1 823.5,1219.8 823.8,1216.6 824.2,1220.8 824.5,1218.0 824.9,1220.2 825.2,1220.8 825.6,1216.4 825.9,1216.1 826.3,1217.4 826.6,1214.3 827.0,1217.6 827.3,1216.2 827.7,1216.8 828.0,1211.7 828.4,1214.2 828.7,1213.8 829.1,1209.3 829.4,1212.7 829.8,1208.0 830.1,1209.4 830.5,1205.7 830.8,1207.7 831.2,1207.7 831.5,1203.3 831.9,1201.3 832.2,1201.2 832.6,1195.6 832.9,1193.5 833.3,1191.4 833.6,1186.6 834.0,1183.9 834.3,1177.6 834.7,1172.3 835.0,1160.8 835.4,1153.8 835.7,1139.6 836.1,1130.7 836.4,1118.6 836.8,1104.4 837.1,1080.9 837.5,1064.7 837.8,1046.9 838.2,1023.5 838.5,1005.2 838.9,984.0 839.2,961.1 839.6,940.7 839.9,920.5 840.3,904.7 840.6,889.9 841.0,873.1 841.3,892.7 841.7,901.4 842.0,921.3 842.4,943.0 842.7,960.0 843.1,983.8 843.4,1005.9 843.8,1025.7 844.1,1045.4 844.5,1067.0 844.8,1084.3 845.2,1101.7 845.5,1116.7 845.9,1128.2 846.2,1139.5 846.6,1151.4 846.9,1161.7 847.3,1168.8 847.6,1177.7 848.0,1182.1 848.3,1188.2 848.7,1190.8 849.0,1192.8 849.4,1198.5 849.7,1200.5 850.1,1200.5 850.4,1203.2 850.8,1210.3 851.1,1201.7 851.5,1210.5 851.8,1210.0 852.2,1211.0 852.5,1211.7 852.9,1212.3 853.2,1217.7 853.6,1214.1 853.9,1215.1 854.3,1217.5 854.6,1217.5 855.0,1217.2 855.3,1217.6 855.7,1216.5 856.0,1220.7 856.4,1217.8 856.7,1216.1 857.1,1221.8 857.4,1221.7 857.8,1221.4 858.1,1220.4 858.5,1223.2 858.8,1220.0 859.2,1218.6 859.5,1222.3 859.9,1223.5 860.2,1223.4 860.6,1225.8 860.9,1224.0 861.3,1222.6 861.6,1222.8 862.0,1224.5 862.3,1223.2 862.7,1223.2 863.0,1220.9 863.4,1223.2 863.7,1221.8 864.1,1224.1 864.4,1224.1 864.8,1225.0 865.1,1226.7 865.5,1223.8 865.8,1226.3 866.2,1222.5 866.5,1224.5 866.9,1225.7 867.2,1227.2 867.6,1222.7 867.9,1224.0 868.3,1224.7 868.6,1224.3 869.0,1223.1 869.3,1222.1 869.7,1222.8 870.0,1224.5 870.4,1222.6 870.7,1227.3 871.1,1226.5 871.4,1221.9 871.8,1224.0 872.1,1226.7 872.5,1226.9 872.8,1226.4 873.2,1222.7 873.5,1224.3 873.9,1226.7 874.2,1225.0 874.6,1224.2 874.9,1225.6 875.3,1226.3 875.6,1225.1 876.0,1225.3 876.3,1226.5 876.7,1224.1 877.0,1223.6 877.4,1226.1 877.7,1223.2 878.1,1225.7 878.4,1223.9 878.8,1226.2 879.1,1223.3 879.5,1226.7 879.8,1225.5 880.2,1224.6 880.5,1223.8 880.9,1224.8 881.2,1223.7 881.6,1223.3 881.9,1226.7 882.3,1226.0 882.6,1226.9 883.0,1223.1 883.3,1222.3 883.7,1222.8 884.0,1226.1 884.4,1226.3 884.7,1222.4 885.1,1226.7 885.4,1224.5 885.8,1223.4 886.1,1225.1 886.5,1226.0 886.8,1224.9 887.2,1224.9 887.5,1224.0 887.9,1223.1 888.2,1224.7 888.6,1222.8 888.9,1226.1 889.3,1224.0 889.6,1227.2 890.0,1222.9 890.3,1227.3 890.7,1224.0 891.0,1224.0 891.4,1225.7 891.7,1226.6 892.1,1225.2 892.4,1224.8 892.8,1228.2 893.1,1226.1 893.5,1223.6 893.8,1224.9 894.2,1227.8 894.5,1225.8 894.9,1226.6 895.2,1228.3 895.6,1224.5 895.9,1225.9 896.3,1224.4 896.6,1225.4 897.0,1226.2 897.3,1223.4 897.7,1225.6 898.0,1225.6 898.4,1227.0 898.7,1224.6 899.1,1223.6 899.4,1226.0 899.8,1223.8 900.1,1225.7 900.5,1226.3 900.8,1224.2 901.2,1225.3 901.5,1224.0 901.9,1221.3 902.2,1223.4 902.6,1222.4 902.9,1225.5 903.3,1223.9 903.6,1225.3 904.0,1225.4 904.3,1227.1 904.7,1225.0 905.0,1224.9 905.4,1226.3 905.7,1227.9 906.1,1225.4 906.4,1226.1 906.8,1225.3 907.1,1224.5 907.5,1223.3 907.8,1225.5 908.2,1225.2 908.5,1225.2 908.9,1228.5 909.2,1225.1 909.6,1226.1 909.9,1225.1 910.3,1227.4 910.6,1225.2 911.0,1228.4 911.3,1225.3 911.7,1226.8 912.0,1227.1 912.4,1225.3 912.7,1226.9 913.1,1225.8 913.4,1224.6 913.8,1224.7 914.1,1226.2 914.5,1228.3 914.8,1225.0 915.2,1226.5 915.5,1224.5 915.9,1226.1 916.2,1223.8 916.6,1224.6 916.9,1225.7 917.3,1224.7 917.6,1225.4 918.0,1227.2 918.3,1225.6 918.7,1224.7 919.0,1224.0 919.4,1225.0 919.7,1227.5 920.1,1225.7 920.4,1225.6 920.8,1226.9 921.1,1227.0 921.5,1227.3 921.8,1225.3 922.2,1224.5 922.5,1223.4 922.9,1224.8 923.2,1225.3 923.6,1226.9 923.9,1226.3 924.3,1225.0 924.6,1227.1 925.0,1224.0 925.3,1224.3 925.7,1224.2 926.0,1224.3 926.4,1225.5 926.7,1224.7 927.1,1224.8 927.4,1227.8 927.8,1223.8 928.1,1224.4 928.5,1225.6 928.8,1226.6 929.2,1226.6 929.5,1225.5 929.9,1225.4 930.2,1225.6 930.6,1227.0 930.9,1224.6 931.3,1222.5 931.6,1226.2 932.0,1224.3 932.3,1225.9 932.7,1228.0 933.0,1226.1 933.4,1228.6 933.7,1223.7 934.1,1226.3 934.4,1226.6 934.8,1227.2 935.1,1224.9 935.5,1226.2 935.8,1226.2 936.2,1226.1 936.5,1224.0 936.9,1223.5 937.2,1226.8 937.6,1226.5 937.9,1226.1 938.3,1227.0 938.6,1227.6 939.0,1224.4 939.3,1227.2 939.7,1228.2 940.0,1227.6 940.4,1226.9 940.7,1227.1 941.1,1224.0 941.4,1225.4 941.8,1227.6 942.1,1228.3 942.5,1226.8 942.8,1225.5 943.2,1226.0 943.5,1227.4 943.9,1229.1 944.2,1227.3 944.6,1225.4 944.9,1227.1 945.3,1226.8 945.6,1229.7 946.0,1227.1 946.3,1226.3 946.7,1226.1 947.0,1224.5 947.4,1224.7 947.7,1225.6 948.1,1225.1 948.4,1226.5 948.8,1226.4 949.1,1227.6 949.5,1228.4 949.8,1226.5 950.2,1226.0 950.5,1223.6 950.9,1226.8 951.2,1227.2 951.6,1225.2 951.9,1225.7 952.3,1225.3 952.6,1227.8 953.0,1227.2 953.3,1228.1 953.7,1224.6 954.0,1230.1 954.4,1225.1 954.7,1224.9 955.1,1226.6 955.4,1225.5 955.8,1228.9 956.1,1225.7 956.5,1225.4 956.8,1227.7 957.2,1228.1 957.5,1225.1 957.9,1225.7 958.2,1225.8 958.6,1226.1 958.9,1228.8 959.3,1228.2 959.6,1227.9 960.0,1228.2 960.3,1226.4 960.7,1227.6 961.0,1226.3 961.4,1225.3 961.7,1228.8 962.1,1223.9 962.4,1226.4 962.8,1225.6 963.1,1224.0 963.5,1225.8 963.8,1226.5 964.2,1227.0 964.5,1225.2 964.9,1227.5 965.2,1226.8 965.6,1227.6 965.9,1223.6 966.3,1225.7 966.6,1225.5 967.0,1227.2 967.3,1225.3 967.7,1225.7 968.0,1224.8 968.4,1224.7 968.7,1225.1 969.1,1227.8 969.4,1224.9 969.8,1222.9 970.1,1226.8 970.5,1225.8 970.8,1227.2 971.2,1227.2 971.5,1226.0 971.9,1225.8 972.2,1225.6 972.6,1226.4 972.9,1225.3 973.3,1226.7 973.6,1228.4 974.0,1225.5 974.3,1225.6 974.7,1225.5 975.0,1227.3 975.4,1227.4 975.7,1228.5 976.1,1227.5 976.4,1226.7 976.8,1227.1 977.1,1224.6 977.5,1227.3 977.8,1226.7 978.2,1229.5 978.5,1228.5 978.9,1225.3 979.2,1225.7 979.6,1227.8 979.9,1223.6 980.3,1225.2 980.6,1227.1 981.0,1227.4 981.3,1226.8 981.7,1228.2 982.0,1226.2 982.4,1226.7 982.7,1226.3 983.1,1225.0 983.4,1226.6 983.8,1225.8 984.1,1226.7 984.5,1222.9 984.8,1226.7 985.2,1225.8 985.5,1225.7 985.9,1226.6 986.2,1225.9 986.6,1227.9 986.9,1228.4 987.3,1227.9 987.6,1228.0 988.0,1227.1 988.3,1226.7 988.7,1224.8 989.0,1226.1 989.4,1228.3 989.7,1227.7 990.1,1225.9 990.4,1226.8 990.8,1228.1 991.1,1226.4 991.5,1228.9 991.8,1225.6 992.2,1227.8 992.5,1227.6 992.9,1226.9 993.2,1227.1 993.6,1227.4 993.9,1223.5 994.3,1227.3 994.6,1228.3 995.0,1227.2 995.3,1228.3 995.7,1225.0 996.0,1226.6 996.4,1227.2 996.7,1226.3 997.1,1228.4 997.4,1227.4 997.8,1226.0 998.1,1227.9 998.5,1227.9 998.8,1226.1 999.2,1227.6 999.5,1227.3 999.9,1227.2 1000.2,1225.0 1000.6,1228.5 1000.9,1227.7 1001.3,1226.7 1001.6,1227.2 1002.0,1227.2 1002.3,1226.3 1002.7,1225.9 1003.0,1226.9 1003.4,1225.9 1003.7,1226.1 1004.1,1225.1 1004.4,1226.4 1004.8,1228.2 1005.1,1227.1 1005.5,1226.8 1005.8,1226.3 1006.2,1226.2 1006.5,1224.7 1006.9,1229.1 1007.2,1225.8 1007.6,1224.7 1007.9,1227.4 1008.3,1227.2 1008.6,1226.1 1009.0,1224.7 1009.3,1224.9 1009.7,1229.0 1010.0,1226.6 1010.4,1225.9 1010.7,1229.4 1011.1,1226.1 1011.4,1225.5 1011.8,1227.6 1012.1,1227.3 1012.5,1229.0 1012.8,1224.6 1013.2,1227.2 1013.5,1224.5 1013.9,1227.5 1014.2,1225.9 1014.6,1226.2 1014.9,1225.8 1015.3,1228.0 1015.6,1229.2 1016.0,1226.7 1016.3,1226.5 1016.7,1226.2 1017.0,1227.6 1017.4,1225.4 1017.7,1231.9 1018.1,1226.6 1018.4,1229.3 1018.8,1227.1 1019.1,1225.0 1019.5,1224.7 1019.8,1226.3 1020.2,1225.9 1020.5,1226.6 1020.9,1225.3 1021.2,1230.2 1021.6,1229.9 1021.9,1224.4 1022.3,1227.6 1022.6,1228.6 1023.0,1226.4 1023.3,1226.6 1023.7,1228.5 1024.0,1227.7 1024.4,1225.2 1024.7,1228.6 1025.1,1226.2 1025.4,1229.5 1025.8,1225.6 1026.1,1223.7 1026.5,1227.1 1026.8,1228.6 1027.2,1227.7 1027.5,1227.2 1027.9,1225.6 1028.2,1228.2 1028.6,1224.3 1028.9,1228.1 1029.3,1225.2 1029.6,1226.1 1030.0,1225.1 1030.3,1225.6 1030.7,1229.0 1031.0,1225.3 1031.4,1227.2 1031.7,1225.8 1032.1,1228.4 1032.4,1225.0 1032.8,1226.9 1033.1,1228.2 1033.5,1230.1 1033.8,1225.3 1034.2,1225.7 1034.5,1226.9 1034.9,1229.0 1035.2,1225.5 1035.6,1228.1 1035.9,1226.1 1036.3,1225.5 1036.6,1224.7 1037.0,1227.1 1037.3,1228.4 1037.7,1226.8 1038.0,1224.0 1038.4,1226.2 1038.7,1228.3 1039.1,1228.2 1039.4,1227.4 1039.8,1229.1 1040.1,1225.2 1040.5,1225.2 1040.8,1230.4 1041.2,1227.9 1041.5,1226.7 1041.9,1226.3 1042.2,1223.3 1042.6,1228.2 1042.9,1224.1 1043.3,1224.2 1043.6,1226.9 1044.0,1229.1 1044.3,1226.4 1044.7,1227.5 1045.0,1226.4 1045.4,1227.6 1045.7,1224.7 1046.1,1230.0 1046.4,1225.7 1046.8,1227.8 1047.1,1224.1 1047.5,1229.6 1047.8,1227.7 1048.2,1229.9 1048.5,1226.1 1048.9,1228.5 1049.2,1226.8 1049.6,1227.0 1049.9,1228.9 1050.3,1225.8 1050.6,1228.1 1051.0,1229.9 1051.3,1229.6 1051.7,1228.6 1052.0,1227.6 1052.4,1225.7 1052.7,1229.2 1053.1,1226.2 1053.4,1228.8 1053.8,1226.7 1054.1,1227.2 1054.5,1227.1 1054.8,1228.0 1055.2,1226.5 1055.5,1227.4 1055.9,1226.4 1056.2,1227.9 1056.6,1227.6 1056.9,1227.8 1057.3,1226.0 1057.6,1227.6 1058.0,1227.2 1058.3,1228.0 1058.7,1227.3 1059.0,1225.8 1059.4,1228.2 1059.7,1226.2 1060.1,1227.6 1060.4,1224.3 1060.8,1227.9 1061.1,1228.1 1061.5,1225.9 1061.8,1228.0 1062.2,1226.7 1062.5,1229.2 1062.9,1228.2 1063.2,1225.5 1063.6,1226.9 1063.9,1224.7 1064.3,1226.8 1064.6,1228.0 1065.0,1228.4 1065.3,1227.1 1065.7,1226.9 1066.0,1227.5 1066.4,1226.4 1066.7,1227.7 1067.1,1228.8 1067.4,1227.5 1067.8,1228.5 1068.1,1226.2 1068.5,1226.6 1068.8,1227.8 1069.2,1230.1 1069.5,1228.7 1069.9,1229.7 1070.2,1227.4 1070.6,1229.1 1070.9,1224.9 1071.3,1228.1 1071.6,1224.4 1072.0,1229.1 1072.3,1228.0 1072.7,1229.0 1073.0,1227.9 1073.4,1226.7 1073.7,1226.3 1074.1,1227.6 1074.4,1229.5 1074.8,1228.3 1075.1,1226.6 1075.5,1226.6 1075.8,1226.4 1076.2,1227.1 1076.5,1227.3 1076.9,1226.7 1077.2,1227.4 1077.6,1225.2 1077.9,1229.6 1078.3,1227.8 1078.6,1229.6 1079.0,1227.8 1079.3,1227.2 1079.7,1227.6 1080.0,1227.8 1080.4,1226.5 1080.7,1226.9 1081.1,1230.1 1081.4,1228.8 1081.8,1226.7 1082.1,1228.2 1082.5,1226.3 1082.8,1229.4 1083.2,1226.1 1083.5,1228.7 1083.9,1227.5 1084.2,1227.5 1084.6,1226.4 1084.9,1227.1 1085.3,1226.4 1085.6,1226.3 1086.0,1228.2 1086.3,1231.0 1086.7,1227.0 1087.0,1228.9 1087.4,1227.5 1087.7,1226.5 1088.1,1229.4 1088.4,1228.4 1088.8,1229.1 1089.1,1227.7 1089.5,1227.7 1089.8,1226.4 1090.2,1227.2 1090.5,1229.9 1090.9,1224.4 1091.2,1228.1 1091.6,1229.6 1091.9,1228.7 1092.3,1228.8 1092.6,1227.2 1093.0,1229.2 1093.3,1229.2 1093.7,1227.5 1094.0,1229.9 1094.4,1226.9 1094.7,1224.2 1095.1,1227.6 1095.4,1227.4 1095.8,1226.4 1096.1,1227.0 1096.5,1226.9 1096.8,1225.1 1097.2,1229.3 1097.5,1227.6 1097.9,1231.4 1098.2,1227.6 1098.6,1228.2 1098.9,1225.5 1099.3,1229.0 1099.6,1226.1 1100.0,1228.4 1100.3,1228.9 1100.7,1228.7 1101.0,1226.5 1101.4,1226.5 1101.7,1228.7 1102.1,1229.3 1102.4,1229.7 1102.8,1227.6 1103.1,1227.5 1103.5,1230.1 1103.8,1226.8 1104.2,1228.7 1104.5,1227.2 1104.9,1225.7 1105.2,1226.1 1105.6,1228.3 1105.9,1228.0 1106.3,1228.4 1106.6,1227.2 1107.0,1227.0 1107.3,1228.1 1107.7,1227.4 1108.0,1225.5 1108.4,1227.1 1108.7,1230.0 1109.1,1226.6 1109.4,1228.5 1109.8,1227.6 1110.1,1228.7 1110.5,1226.5 1110.8,1225.9 1111.2,1228.3 1111.5,1226.7 1111.9,1227.7 1112.2,1227.3 1112.6,1229.0 1112.9,1228.1 1113.3,1227.9 1113.6,1226.4 1114.0,1225.6 1114.3,1226.6 1114.7,1228.9 1115.0,1228.7 1115.4,1228.5 1115.7,1227.2 1116.1,1226.3 1116.4,1229.3 1116.8,1228.0 1117.1,1228.5 1117.5,1226.4 1117.8,1226.8 1118.2,1228.6 1118.5,1228.8 1118.9,1226.4 1119.2,1228.2 1119.6,1226.2 1119.9,1229.4 1120.3,1228.7 1120.6,1230.9 1121.0,1229.8 1121.3,1226.9 1121.7,1228.0 1122.0,1227.1 1122.4,1228.0 1122.7,1228.9 1123.1,1227.8 1123.4,1227.9 1123.8,1226.0 1124.1,1228.6 1124.5,1227.8 1124.8,1228.6 1125.2,1229.2 1125.5,1227.8 1125.9,1228.8 1126.2,1227.0 1126.6,1229.1 1126.9,1227.8 1127.3,1227.0 1127.6,1227.5 1128.0,1225.9 1128.3,1226.9 1128.7,1227.2 1129.0,1227.9 1129.4,1227.7 1129.7,1227.0 1130.1,1227.6 1130.4,1224.9 1130.8,1228.0 1131.1,1228.6 1131.5,1228.9 1131.8,1229.3 1132.2,1227.6 1132.5,1227.7 1132.9,1227.2 1133.2,1227.2 1133.6,1228.0 1133.9,1229.7 1134.3,1225.6 1134.6,1227.2 1135.0,1228.2 1135.3,1226.5 1135.7,1228.4 1136.0,1226.0 1136.4,1227.4 1136.7,1225.6 1137.1,1228.2 1137.4,1226.8 1137.8,1228.7 1138.1,1227.5 1138.5,1226.6 1138.8,1227.3 1139.2,1228.0 1139.5,1227.9 1139.9,1227.5 1140.2,1227.4 1140.6,1227.9 1140.9,1229.0 1141.3,1227.1 1141.6,1228.5 1142.0,1226.1 1142.3,1229.1 1142.7,1228.4 1143.0,1227.4 1143.4,1227.4 1143.7,1225.6 1144.1,1228.0 1144.4,1227.6 1144.8,1226.0 1145.1,1227.3 1145.5,1228.7 1145.8,1228.1 1146.2,1228.3 1146.5,1227.2 1146.9,1229.1 1147.2,1227.9 1147.6,1229.1 1147.9,1230.9 1148.3,1225.2 1148.6,1227.3 1149.0,1228.0 1149.3,1227.0 1149.7,1229.3 1150.0,1227.5 1150.4,1230.2 1150.7,1229.0 1151.1,1228.5 1151.4,1227.9 1151.8,1229.1 1152.1,1228.6 1152.5,1230.0 1152.8,1228.6 1153.2,1229.4 1153.5,1228.6 1153.9,1228.5 1154.2,1225.9 1154.6,1228.0 1154.9,1228.5 1155.3,1226.5 1155.6,1226.2 1156.0,1227.6 1156.3,1228.4 1156.7,1225.8 1157.0,1228.5 1157.4,1229.3 1157.7,1227.7 1158.1,1228.4 1158.4,1228.7 1158.8,1227.2 1159.1,1228.9 1159.5,1228.7 1159.8,1226.4 1160.2,1228.8 1160.5,1229.2 1160.9,1226.6 1161.2,1229.2 1161.6,1227.7 1161.9,1226.3 1162.3,1226.7 1162.6,1226.9 1163.0,1228.8 1163.3,1227.4 1163.7,1227.6 1164.0,1226.4 1164.4,1228.1 1164.7,1226.4 1165.1,1227.2 1165.4,1228.9 1165.8,1229.0 1166.1,1227.4 1166.5,1228.0 1166.8,1228.8 1167.2,1228.1 1167.5,1229.7 1167.9,1229.9 1168.2,1228.0 1168.6,1226.5 1168.9,1227.9 1169.3,1229.9 1169.6,1229.6 1170.0,1229.7 1170.3,1229.6 1170.7,1227.4 1171.0,1228.5 1171.4,1229.6 1171.7,1228.5 1172.1,1229.3 1172.4,1226.8 1172.8,1226.5 1173.1,1230.9 1173.5,1229.2 1173.8,1229.0 1174.2,1230.1 1174.5,1231.2 1174.9,1232.0 1175.2,1225.0 1175.6,1228.7 1175.9,1229.6 1176.3,1225.6 1176.6,1225.8 1177.0,1228.0 1177.3,1230.7 1177.7,1229.5 1178.0,1231.1 1178.4,1228.6 1178.7,1229.7 1179.1,1230.3 1179.4,1228.8 1179.8,1228.2 1180.1,1228.4 1180.5,1223.2 1180.8,1228.7 1181.2,1225.7 1181.5,1227.1 1181.9,1229.2 1182.2,1228.8 1182.6,1225.5 1182.9,1228.9 1183.3,1229.2 1183.6,1228.5 1184.0,1229.2 1184.3,1229.0 1184.7,1225.9 1185.0,1227.9 1185.4,1227.8 1185.7,1226.6 1186.1,1228.2 1186.4,1227.1 1186.8,1228.1 1187.1,1227.1 1187.5,1229.6 1187.8,1231.2 1188.2,1227.5 1188.5,1228.3 1188.9,1228.3 1189.2,1228.8 1189.6,1228.0 1189.9,1225.2 1190.3,1228.7 1190.6,1228.1 1191.0,1226.8 1191.3,1228.0 1191.7,1227.6 1192.0,1228.6 1192.4,1227.8 1192.7,1227.9 1193.1,1228.4 1193.4,1228.6 1193.8,1228.3 1194.1,1229.8 1194.5,1228.6 1194.8,1227.2 1195.2,1230.6 1195.5,1228.4 1195.9,1230.4 1196.2,1226.8 1196.6,1229.0 1196.9,1230.6 1197.3,1230.0 1197.6,1228.4 1198.0,1227.5 1198.3,1227.5 1198.7,1228.0 1199.0,1227.0 1199.4,1227.3 1199.7,1226.9 1200.1,1226.9 1200.4,1228.6 1200.8,1225.9 1201.1,1228.5 1201.5,1229.2 1201.8,1227.0 1202.2,1227.1 1202.5,1228.3 1202.9,1228.2 1203.2,1229.6 1203.6,1225.6 1203.9,1228.2 1204.3,1230.2 1204.6,1228.4 1205.0,1230.7 1205.3,1231.2 1205.7,1227.6 1206.0,1230.3 1206.4,1229.0 1206.7,1228.3 1207.1,1227.9 1207.4,1228.0 1207.8,1227.1 1208.1,1228.1 1208.5,1229.6 1208.8,1230.0 1209.2,1227.8 1209.5,1229.0 1209.9,1229.0 1210.2,1225.2 1210.6,1229.3 1210.9,1226.7 1211.3,1226.8 1211.6,1229.5 1212.0,1230.6 1212.3,1226.9 1212.7,1227.2 1213.0,1227.1 1213.4,1227.6 1213.7,1227.8 1214.1,1227.2 1214.4,1226.2 1214.8,1230.7 1215.1,1227.7 1215.5,1227.3 1215.8,1229.5 1216.2,1227.8 1216.5,1229.8 1216.9,1229.4 1217.2,1229.7 1217.6,1227.8 1217.9,1229.2 1218.3,1226.3 1218.6,1226.5 1219.0,1228.4 1219.3,1227.9 1219.7,1230.1 1220.0,1228.0 1220.4,1226.0 1220.7,1228.4 1221.1,1228.0 1221.4,1228.6 1221.8,1226.8 1222.1,1227.3 1222.5,1228.4 1222.8,1229.3 1223.2,1228.9 1223.5,1229.4 1223.9,1226.4 1224.2,1228.1 1224.6,1228.6 1224.9,1229.6 1225.3,1228.7 1225.6,1228.0 1226.0,1228.2 1226.3,1228.2 1226.7,1226.4 1227.0,1228.4 1227.4,1229.4 1227.7,1229.3 1228.1,1225.8 1228.4,1228.3 1228.8,1226.3 1229.1,1229.8 1229.5,1229.0 1229.8,1229.3 1230.2,1227.4 1230.5,1225.7 1230.9,1226.9 1231.2,1227.8 1231.6,1226.3 1231.9,1226.9 1232.3,1230.6 1232.6,1226.5 1233.0,1229.0 1233.3,1225.8 1233.7,1228.6 1234.0,1229.3 1234.4,1228.8 1234.7,1229.8 1235.1,1230.6 1235.4,1226.3 1235.8,1228.5 1236.1,1228.8 1236.5,1228.7 1236.8,1230.2 1237.2,1228.5 1237.5,1229.7 1237.9,1229.6 1238.2,1228.2 1238.6,1228.8 1238.9,1227.0 1239.3,1228.4 1239.6,1228.2 1240.0,1227.7 1240.3,1227.3 1240.7,1229.1 1241.0,1227.6 1241.4,1230.8 1241.7,1229.4 1242.1,1228.6 1242.4,1226.7 1242.8,1228.6 1243.1,1227.5 1243.5,1227.2 1243.8,1225.5 1244.2,1227.5 1244.5,1226.7 1244.9,1225.4 1245.2,1224.7 1245.6,1224.7 1245.9,1222.6 1246.3,1222.9 1246.6,1224.7 1247.0,1220.8 1247.3,1223.7 1247.7,1217.2 1248.0,1219.0 1248.4,1217.3 1248.7,1215.5 1249.1,1212.5 1249.4,1207.1 1249.8,1208.9 1250.1,1206.5 1250.5,1202.6 1250.8,1196.6 1251.2,1200.0 1251.5,1195.0 1251.9,1194.6 1252.2,1196.0 1252.6,1195.6 1252.9,1194.0 1253.3,1193.0 1253.6,1197.6 1254.0,1198.1 1254.3,1197.8 1254.7,1198.5 1255.0,1202.7 1255.4,1202.4 1255.7,1209.6 1256.1,1209.9 1256.4,1210.9 1256.8,1214.1 1257.1,1213.1 1257.5,1217.2 1257.8,1218.0 1258.2,1218.1 1258.5,1220.7 1258.9,1223.2 1259.2,1221.7 1259.6,1224.2 1259.9,1223.1 1260.3,1225.9 1260.6,1223.7 1261.0,1227.4 1261.3,1227.6 1261.7,1228.1 1262.0,1229.6 1262.4,1227.6 1262.7,1227.7 1263.1,1228.4 1263.4,1227.1 1263.8,1225.3 1264.1,1226.2 1264.5,1226.3 1264.8,1228.2 1265.2,1227.2 1265.5,1227.5 1265.9,1228.9 1266.2,1228.4 1266.6,1230.8 1266.9,1228.2 1267.3,1227.0 1267.6,1230.0 1268.0,1227.8 1268.3,1228.2 1268.7,1229.7 1269.0,1228.6 1269.4,1229.3 1269.7,1227.6 1270.1,1228.1 1270.4,1229.3 1270.8,1227.8 1271.1,1228.0 1271.5,1228.5 1271.8,1230.7 1272.2,1230.5 1272.5,1228.9 1272.9,1228.7 1273.2,1227.7 1273.6,1230.4 1273.9,1229.2 1274.3,1229.9 1274.6,1226.9 1275.0,1229.8 1275.3,1228.9 1275.7,1229.7 1276.0,1230.1 1276.4,1228.8 1276.7,1228.3 1277.1,1229.7 1277.4,1227.2 1277.8,1230.7 1278.1,1229.3 1278.5,1227.4 1278.8,1230.6 1279.2,1230.1 1279.5,1230.9 1279.9,1230.2 1280.2,1229.5 1280.6,1228.9 1280.9,1227.5 1281.3,1229.9 1281.6,1229.7 1282.0,1228.4 1282.3,1229.7 1282.7,1227.8 1283.0,1230.4 1283.4,1229.2 1283.7,1229.3 1284.1,1228.0 1284.4,1230.2 1284.8,1229.2 1285.1,1228.2 1285.5,1229.5 1285.8,1228.7 1286.2,1230.4 1286.5,1227.0 1286.9,1227.5 1287.2,1231.7 1287.6,1228.3 1287.9,1229.6 1288.3,1228.5 1288.6,1229.3 1289.0,1232.4 1289.3,1226.4 1289.7,1229.7 1290.0,1229.1 1290.4,1229.1 1290.7,1228.0 1291.1,1227.8 1291.4,1230.8 1291.8,1229.7 1292.1,1227.4 1292.5,1229.0 1292.8,1227.3 1293.2,1232.8 1293.5,1229.5 1293.9,1226.7 1294.2,1230.2 1294.6,1229.8 1294.9,1229.4 1295.3,1229.3 1295.6,1228.3 1296.0,1228.8 1296.3,1226.4 1296.7,1230.7 1297.0,1231.7 1297.4,1229.7 1297.7,1229.8 1298.1,1227.2 1298.4,1228.5 1298.8,1227.2 1299.1,1227.3 1299.5,1229.7 1299.8,1230.9 1300.2,1228.9 1300.5,1232.3 1300.9,1230.1 1301.2,1226.1 1301.6,1228.5 1301.9,1230.7 1302.3,1229.2 1302.6,1230.4 1303.0,1226.8 1303.3,1230.7 1303.7,1227.5 1304.0,1229.5 1304.4,1231.8 1304.7,1229.1 1305.1,1228.7 1305.4,1230.0 1305.8,1227.9 1306.1,1227.8 1306.5,1230.3 1306.8,1227.1 1307.2,1227.4 1307.5,1231.3 1307.9,1227.4 1308.2,1229.6 1308.6,1230.5 1308.9,1228.9 1309.3,1227.6 1309.6,1230.1 1310.0,1227.8 1310.3,1231.8 1310.7,1231.9 1311.0,1227.7 1311.4,1229.8 1311.7,1228.1 1312.1,1229.5 1312.4,1228.7 1312.8,1227.7 1313.1,1229.7 1313.5,1226.8 1313.8,1229.4 1314.2,1228.8 1314.5,1228.0 1314.9,1230.2 1315.2,1229.0 1315.6,1228.5 1315.9,1228.8 1316.3,1228.7 1316.6,1230.2 1317.0,1228.6 1317.3,1225.2 1317.7,1224.9 1318.0,1227.6 1318.4,1227.3 1318.7,1228.6 1319.1,1227.2 1319.4,1227.9 1319.8,1230.7 1320.1,1227.2 1320.5,1230.1 1320.8,1228.8 1321.2,1230.7 1321.5,1230.1 1321.9,1229.0 1322.2,1230.4 1322.6,1229.3 1322.9,1227.5 1323.3,1229.6 1323.6,1229.6 1324.0,1228.8 1324.3,1229.3 1324.7,1228.4 1325.0,1229.4 1325.4,1228.6 1325.7,1227.0 1326.1,1228.6 1326.4,1231.1 1326.8,1230.1 1327.1,1231.0 1327.5,1229.0 1327.8,1228.5 1328.2,1227.6 1328.5,1229.2 1328.9,1230.3 1329.2,1230.1 1329.6,1230.0 1329.9,1228.3 1330.3,1229.1 1330.6,1228.0 1331.0,1230.1 1331.3,1229.8 1331.7,1228.1 1332.0,1229.1 1332.4,1226.0 1332.7,1229.9 1333.1,1227.9 1333.4,1228.5 1333.8,1229.8 1334.1,1229.8 1334.5,1228.1 1334.8,1231.0 1335.2,1231.6 1335.5,1230.9 1335.9,1230.7 1336.2,1229.0 1336.6,1230.8 1336.9,1227.8 1337.3,1227.5 1337.6,1229.2 1338.0,1229.3 1338.3,1227.8 1338.7,1231.3 1339.0,1227.0 1339.4,1226.2 1339.7,1228.4 1340.1,1231.1 1340.4,1229.9 1340.8,1229.4 1341.1,1229.1 1341.5,1229.7 1341.8,1229.3 1342.2,1229.1 1342.5,1228.8 1342.9,1226.8 1343.2,1230.2 1343.6,1228.3 1343.9,1229.4 1344.3,1229.5 1344.6,1230.3 1345.0,1227.9 1345.3,1230.0 1345.7,1230.0 1346.0,1228.8 1346.4,1228.8 1346.7,1229.1 1347.1,1227.6 1347.4,1228.3 1347.8,1227.4 1348.1,1230.4 1348.5,1227.9 1348.8,1227.5 1349.2,1229.1 1349.5,1229.6 1349.9,1228.4 1350.2,1227.6 1350.6,1229.4 1350.9,1230.0 1351.3,1226.7 1351.6,1230.0 1352.0,1226.5 1352.3,1229.7 1352.7,1228.3 1353.0,1228.5 1353.4,1229.8 1353.7,1230.7 1354.1,1231.6 1354.4,1230.6 1354.8,1229.7 1355.1,1227.1 1355.5,1228.3 1355.8,1229.0 1356.2,1228.1 1356.5,1229.6 1356.9,1228.5 1357.2,1231.2 1357.6,1228.6 1357.9,1227.2 1358.3,1228.2 1358.6,1227.9 1359.0,1229.7 1359.3,1230.6 1359.7,1230.1 1360.0,1230.1 1360.4,1227.9 1360.7,1227.4 1361.1,1227.8 1361.4,1228.9 1361.8,1228.4 1362.1,1229.2 1362.5,1230.1 1362.8,1228.9 1363.2,1231.0 1363.5,1227.8 1363.9,1229.6 1364.2,1228.7 1364.6,1230.1 1364.9,1228.8 1365.3,1228.1 1365.6,1228.6 1366.0,1227.7 1366.3,1227.4 1366.7,1229.8 1367.0,1228.0 1367.4,1230.4 1367.7,1232.1 1368.1,1228.3 1368.4,1229.9 1368.8,1228.7 1369.1,1226.3 1369.5,1228.7 1369.8,1230.7 1370.2,1227.2 1370.5,1228.6 1370.9,1228.5 1371.2,1226.9 1371.6,1229.2 1371.9,1228.6 1372.3,1229.5 1372.6,1228.8 1373.0,1226.9 1373.3,1228.9 1373.7,1229.6 1374.0,1228.4 1374.4,1229.5 1374.7,1229.4 1375.1,1225.9 1375.4,1229.5 1375.8,1226.1 1376.1,1227.0 1376.5,1228.5 1376.8,1227.4 1377.2,1227.6 1377.5,1230.1 1377.9,1227.3 1378.2,1230.2 1378.6,1231.1 1378.9,1230.5 1379.3,1227.2 1379.6,1226.7 1380.0,1228.7 1380.3,1231.4 1380.7,1228.4 1381.0,1227.9 1381.4,1228.5 1381.7,1229.6 1382.1,1230.2 1382.4,1228.6 1382.8,1228.5 1383.1,1229.3 1383.5,1228.7 1383.8,1228.1 1384.2,1226.4 1384.5,1228.8 1384.9,1227.9 1385.2,1228.3 1385.6,1228.3 1385.9,1227.5 1386.3,1229.4 1386.6,1230.0 1387.0,1229.3 1387.3,1227.8 1387.7,1228.9 1388.0,1229.5 1388.4,1228.5 1388.7,1229.5 1389.1,1226.8 1389.4,1228.4 1389.8,1230.5 1390.1,1229.9 1390.5,1228.5 1390.8,1228.8 1391.2,1231.4 1391.5,1230.1 1391.9,1227.7 1392.2,1229.0 1392.6,1228.1 1392.9,1227.9 1393.3,1227.1 1393.6,1229.6 1394.0,1231.5 1394.3,1229.8 1394.7,1227.0 1395.0,1229.3 1395.4,1226.8 1395.7,1229.0 1396.1,1230.0 1396.4,1230.6 1396.8,1228.8 1397.1,1229.1 1397.5,1228.7 1397.8,1228.4 1398.2,1230.7 1398.5,1227.4 1398.9,1226.6 1399.2,1230.9 1399.6,1231.6 1399.9,1226.6 1400.3,1229.9 1400.6,1229.7 1401.0,1228.1 1401.3,1227.4 1401.7,1228.9 1402.0,1228.2 1402.4,1229.7 1402.7,1227.9 1403.1,1230.2 1403.4,1227.9 1403.8,1230.8 1404.1,1229.8 1404.5,1230.1 1404.8,1228.2 1405.2,1228.4 1405.5,1228.6 1405.9,1230.2 1406.2,1227.8 1406.6,1227.7 1406.9,1228.4 1407.3,1229.1 1407.6,1228.6 1408.0,1228.6 1408.3,1227.0 1408.7,1227.9 1409.0,1227.3 1409.4,1230.0 1409.7,1228.6 1410.1,1229.6 1410.4,1227.0 1410.8,1228.6 1411.1,1229.2 1411.5,1227.3 1411.8,1227.8 1412.2,1228.0 1412.5,1228.9 1412.9,1229.0 1413.2,1226.9 1413.6,1229.1 1413.9,1229.0 1414.3,1229.1 1414.6,1227.6 1415.0,1228.6 1415.3,1230.3 1415.7,1230.2 1416.0,1227.9 1416.4,1230.8 1416.7,1228.1 1417.1,1227.5 1417.4,1230.1 1417.8,1229.1 1418.1,1231.6 1418.5,1228.4 1418.8,1228.9 1419.2,1229.6 1419.5,1229.0 1419.9,1228.2 1420.2,1228.7 1420.6,1228.7 1420.9,1228.7 1421.3,1228.7 1421.6,1226.7 1422.0,1229.9 1422.3,1227.9 1422.7,1228.4 1423.0,1227.7 1423.4,1228.4 1423.7,1230.0 1424.1,1230.3 1424.4,1229.1 1424.8,1228.9 1425.1,1228.1 1425.5,1228.4 1425.8,1229.0 1426.2,1228.5 1426.5,1227.5 1426.9,1228.8 1427.2,1227.4 1427.6,1231.4 1427.9,1229.1 1428.3,1228.0 1428.6,1229.3 1429.0,1227.8 1429.3,1228.4 1429.7,1230.7 1430.0,1230.4 1430.4,1227.2 1430.7,1227.3 1431.1,1228.1 1431.4,1231.7 1431.8,1228.8 1432.1,1229.1 1432.5,1228.1 1432.8,1230.5 1433.2,1230.0 1433.5,1226.5 1433.9,1227.7 1434.2,1226.4 1434.6,1227.3 1434.9,1227.7 1435.3,1227.1 1435.6,1228.0 1436.0,1229.7 1436.3,1230.2 1436.7,1228.9 1437.0,1229.7 1437.4,1227.0 1437.7,1230.7 1438.1,1231.7 1438.4,1228.6 1438.8,1229.5 1439.1,1229.3 1439.5,1226.0 1439.8,1230.1 1440.2,1229.4 1440.5,1226.7 1440.9,1228.3 1441.2,1230.3 1441.6,1229.5 1441.9,1227.0 1442.3,1228.1 1442.6,1227.9 1443.0,1229.0 1443.3,1227.9 1443.7,1228.9 1444.0,1228.6 1444.4,1226.9 1444.7,1229.3 1445.1,1229.2 1445.4,1228.0 1445.8,1229.8 1446.1,1231.8 1446.5,1226.8 1446.8,1229.1 1447.2,1229.9 1447.5,1228.9 1447.9,1228.1 1448.2,1231.7 1448.6,1228.2 1448.9,1228.7 1449.3,1228.0 1449.6,1230.4 1450.0,1226.1 1450.3,1227.7 1450.7,1228.3 1451.0,1229.3 1451.4,1229.3 1451.7,1230.1 1452.1,1228.7 1452.4,1227.9 1452.8,1228.8 1453.1,1227.8 1453.5,1228.2 1453.8,1228.3 1454.2,1229.3 1454.5,1229.9 1454.9,1227.5 1455.2,1228.1 1455.6,1228.9 1455.9,1228.9 1456.3,1228.6 1456.6,1229.6 1457.0,1228.6 1457.3,1226.7 1457.7,1230.6 1458.0,1227.3 1458.4,1231.0 1458.7,1229.2 1459.1,1229.3 1459.4,1227.0 1459.8,1229.3 1460.1,1228.7 1460.5,1227.8 1460.8,1229.6 1461.2,1229.9 1461.5,1230.4 1461.9,1227.4 1462.2,1227.9 1462.6,1230.7 1462.9,1229.6 1463.3,1230.0 1463.6,1228.3 1464.0,1229.4 1464.3,1230.0 1464.7,1227.4 1465.0,1228.1 1465.4,1229.3 1465.7,1230.7 1466.1,1228.4 1466.4,1229.8 1466.8,1227.9 1467.1,1227.5 1467.5,1229.8 1467.8,1227.7 1468.2,1229.0 1468.5,1228.3 1468.9,1229.6 1469.2,1227.4 1469.6,1227.2 1469.9,1227.2 1470.3,1228.7 1470.6,1230.6 1471.0,1230.0 1471.3,1229.2 1471.7,1228.8 1472.0,1230.5 1472.4,1228.9 1472.7,1230.3 1473.1,1230.7 1473.4,1229.8 1473.8,1229.5 1474.1,1229.5 1474.5,1228.9 1474.8,1229.3 1475.2,1227.9 1475.5,1227.9 1475.9,1230.9 1476.2,1228.8 1476.6,1226.9 1476.9,1230.7 1477.3,1230.7 1477.6,1229.5 1478.0,1227.4 1478.3,1231.4 1478.7,1230.3 1479.0,1230.5 1479.4,1228.7 1479.7,1229.5 1480.1,1228.6 1480.4,1228.7 1480.8,1227.5 1481.1,1228.0 1481.5,1228.3 1481.8,1229.0 1482.2,1230.2 1482.5,1229.7 1482.9,1226.7 1483.2,1230.2 1483.6,1227.1 1483.9,1229.6 1484.3,1228.7 1484.6,1229.0 1485.0,1228.3 1485.3,1227.6 1485.7,1231.0 1486.0,1225.9 1486.4,1227.8 1486.7,1230.6 1487.1,1228.9 1487.4,1228.9 1487.8,1227.8 1488.1,1227.5 1488.5,1229.6 1488.8,1228.7 1489.2,1229.3 1489.5,1229.8 1489.9,1226.7 1490.2,1227.6 1490.6,1228.0 1490.9,1229.2 1491.3,1229.7 1491.6,1227.6 1492.0,1228.6 1492.3,1228.7 1492.7,1228.7 1493.0,1230.8 1493.4,1227.9 1493.7,1229.0 1494.1,1225.9 1494.4,1228.7 1494.8,1228.9 1495.1,1229.7 1495.5,1228.1 1495.8,1228.1 1496.2,1227.2 1496.5,1228.1 1496.9,1231.7 1497.2,1226.6 1497.6,1226.6 1497.9,1228.8 1498.3,1227.5 1498.6,1230.3 1499.0,1226.8 1499.3,1230.7 1499.7,1228.1 1500.0,1226.6 1500.4,1225.8 1500.7,1227.5 1501.1,1227.8 1501.4,1229.0 1501.8,1226.9 1502.1,1232.4 1502.5,1229.6 1502.8,1228.3 1503.2,1227.8 1503.5,1231.9 1503.9,1227.5 1504.2,1229.4 1504.6,1230.2 1504.9,1227.2 1505.3,1229.1 1505.6,1227.7 1506.0,1230.0 1506.3,1230.1 1506.7,1228.9 1507.0,1228.3 1507.4,1226.5 1507.7,1231.1 1508.1,1229.9 1508.4,1228.8 1508.8,1229.7 1509.1,1227.8 1509.5,1226.2 1509.8,1228.7 1510.2,1226.2 1510.5,1226.6 1510.9,1228.1 1511.2,1224.9 1511.6,1226.8 1511.9,1226.1 1512.3,1224.8 1512.6,1224.4 1513.0,1225.3 1513.3,1224.9 1513.7,1225.0 1514.0,1222.4 1514.4,1223.9 1514.7,1221.6 1515.1,1221.5 1515.4,1223.1 1515.8,1220.1 1516.1,1219.5 1516.5,1218.1 1516.8,1218.2 1517.2,1218.2 1517.5,1215.4 1517.9,1215.6 1518.2,1211.5 1518.6,1212.6 1518.9,1210.3 1519.3,1209.0 1519.6,1206.0 1520.0,1204.9 1520.3,1204.6 1520.7,1200.7 1521.0,1202.0 1521.4,1198.6 1521.7,1198.4 1522.1,1194.5 1522.4,1192.3 1522.8,1194.5 1523.1,1193.5 1523.5,1191.3 1523.8,1191.6 1524.2,1190.0 1524.5,1190.6 1524.9,1189.6 1525.2,1187.9 1525.6,1191.5 1525.9,1188.7 1526.3,1194.5 1526.6,1191.6 1527.0,1191.4 1527.3,1193.8 1527.7,1195.5 1528.0,1197.1 1528.4,1199.3 1528.7,1199.1 1529.1,1198.5 1529.4,1202.0 1529.8,1205.5 1530.1,1208.1 1530.5,1205.2 1530.8,1209.8 1531.2,1212.7 1531.5,1210.6 1531.9,1216.4 1532.2,1214.2 1532.6,1216.3 1532.9,1217.0 1533.3,1221.2 1533.6,1220.9 1534.0,1220.8 1534.3,1221.0 1534.7,1220.0 1535.0,1222.6 1535.4,1222.8 1535.7,1224.0 1536.1,1222.2 1536.4,1226.8 1536.8,1226.7 1537.1,1228.0 1537.5,1225.5 1537.8,1226.5 1538.2,1225.2 1538.5,1228.1 1538.9,1226.9 1539.2,1229.5 1539.6,1228.4 1539.9,1228.6 1540.3,1228.4 1540.6,1226.0 1541.0,1228.9 1541.3,1226.0 1541.7,1228.5 1542.0,1228.9 1542.4,1226.8 1542.7,1227.5 1543.1,1228.1 1543.4,1228.7 1543.8,1228.8 1544.1,1228.5 1544.5,1227.4 1544.8,1228.9 1545.2,1231.7 1545.5,1227.9 1545.9,1230.6 1546.2,1227.1 1546.6,1227.9 1546.9,1230.4 1547.3,1229.8 1547.6,1230.8 1548.0,1229.5 1548.3,1228.0 1548.7,1228.9 1549.0,1228.3 1549.4,1230.2 1549.7,1229.6 1550.1,1230.4 1550.4,1228.0 1550.8,1228.6 1551.1,1228.4 1551.5,1228.5 1551.8,1228.8 1552.2,1230.6 1552.5,1229.2 1552.9,1230.5 1553.2,1229.3 1553.6,1226.8 1553.9,1227.3 1554.3,1228.8 1554.6,1230.5 1555.0,1229.1 1555.3,1227.2 1555.7,1229.2 1556.0,1228.8 1556.4,1229.8 1556.7,1230.1 1557.1,1229.5 1557.4,1228.3 1557.8,1227.8 1558.1,1228.7 1558.5,1229.1 1558.8,1229.6 1559.2,1228.6 1559.5,1228.4 1559.9,1229.8 1560.2,1230.2 1560.6,1229.5 1560.9,1227.9 1561.3,1228.8 1561.6,1231.9 1562.0,1227.9 1562.3,1228.8 1562.7,1230.4 1563.0,1228.0 1563.4,1228.8 1563.7,1230.8 1564.1,1230.5 1564.4,1227.0 1564.8,1230.0 1565.1,1228.9 1565.5,1227.5 1565.8,1230.6 1566.2,1228.6 1566.5,1229.2 1566.9,1228.2 1567.2,1230.3 1567.6,1230.4 1567.9,1230.3 1568.3,1232.3 1568.6,1230.1 1569.0,1228.9 1569.3,1230.0 1569.7,1229.8 1570.0,1230.3 1570.4,1226.4 1570.7,1230.5 1571.1,1231.9 1571.4,1230.5 1571.8,1228.6 1572.1,1232.1 1572.5,1230.4 1572.8,1232.0 1573.2,1230.6 1573.5,1229.0 1573.9,1227.4 1574.2,1229.5 1574.6,1230.1 1574.9,1228.9 1575.3,1227.7 1575.6,1230.4 1576.0,1228.4 1576.3,1231.0 1576.7,1228.5 1577.0,1229.7 1577.4,1228.8 1577.7,1229.6 1578.1,1229.8 1578.4,1226.4 1578.8,1228.2 1579.1,1228.3 1579.5,1228.2 1579.8,1228.8 1580.2,1230.3 1580.5,1227.5 1580.9,1229.5 1581.2,1228.2 1581.6,1227.8 1581.9,1226.8 1582.3,1227.6 1582.6,1227.2 1583.0,1229.1 1583.3,1230.4 1583.7,1229.1 1584.0,1229.3 1584.4,1227.3 1584.7,1229.1 1585.1,1227.1 1585.4,1227.0 1585.8,1228.4 1586.1,1227.2 1586.5,1228.7 1586.8,1228.1 1587.2,1227.5 1587.5,1227.0 1587.9,1227.9 1588.2,1227.9 1588.6,1227.6 1588.9,1228.9 1589.3,1226.6 1589.6,1225.5 1590.0,1225.5 1590.3,1225.9 1590.7,1225.9 1591.0,1226.8 1591.4,1229.0 1591.7,1225.5 1592.1,1225.7 1592.4,1226.0 1592.8,1225.3 1593.1,1225.5 1593.5,1227.4 1593.8,1228.0 1594.2,1225.4 1594.5,1226.1 1594.9,1227.3 1595.2,1226.5 1595.6,1225.7 1595.9,1226.4 1596.3,1225.7 1596.6,1224.9 1597.0,1226.4 1597.3,1224.8 1597.7,1224.9 1598.0,1225.9 1598.4,1223.9 1598.7,1226.3 1599.1,1224.4 1599.4,1224.0 1599.8,1225.9 1600.1,1226.0 1600.5,1226.3 1600.8,1226.7 1601.2,1223.7 1601.5,1224.6 1601.9,1223.4 1602.2,1223.8 1602.6,1225.8 1602.9,1225.1 1603.3,1224.9 1603.6,1225.1 1604.0,1223.9 1604.3,1226.1 1604.7,1223.0 1605.0,1225.2 1605.4,1223.5 1605.7,1223.0 1606.1,1226.7 1606.4,1223.6 1606.8,1224.9 1607.1,1222.9 1607.5,1222.9 1607.8,1225.4 1608.2,1224.3 1608.5,1223.8 1608.9,1224.3 1609.2,1224.4 1609.6,1224.7 1609.9,1224.1 1610.3,1224.3 1610.6,1223.8 1611.0,1223.5 1611.3,1224.7 1611.7,1220.3 1612.0,1224.3 1612.4,1223.2 1612.7,1223.3 1613.1,1222.7 1613.4,1222.1 1613.8,1223.7 1614.1,1221.3 1614.5,1221.5 1614.8,1221.5 1615.2,1224.9 1615.5,1222.7 1615.9,1222.6 1616.2,1220.8 1616.6,1222.7 1616.9,1223.7 1617.3,1221.1 1617.6,1222.6 1618.0,1222.8 1618.3,1223.3 1618.7,1223.7 1619.0,1225.0 1619.4,1222.4 1619.7,1222.4 1620.1,1221.5 1620.4,1223.6 1620.8,1222.3 1621.1,1223.0 1621.5,1223.2 1621.8,1222.1 1622.2,1222.1 1622.5,1222.5 1622.9,1222.5 1623.2,1222.4 1623.6,1222.1 1623.9,1222.2 1624.3,1223.9 1624.6,1221.4 1625.0,1222.4 1625.3,1222.2 1625.7,1223.6 1626.0,1221.5 1626.4,1221.9 1626.7,1221.5 1627.1,1223.3 1627.4,1223.0 1627.8,1222.8 1628.1,1222.4 1628.5,1225.1 1628.8,1222.6 1629.2,1219.6 1629.5,1220.2 1629.9,1220.3 1630.2,1221.6 1630.6,1220.1 1630.9,1222.1 1631.3,1220.2 1631.6,1222.0 1632.0,1221.2 1632.3,1222.7 1632.7,1222.2 1633.0,1220.8 1633.4,1224.4 1633.7,1220.5 1634.1,1221.3 1634.4,1220.2 1634.8,1223.3 1635.1,1223.3 1635.5,1221.9 1635.8,1218.7 1636.2,1223.0 1636.5,1224.3 1636.9,1220.8 1637.2,1222.6 1637.6,1223.2 1637.9,1222.0 1638.3,1220.4 1638.6,1221.7 1639.0,1221.1 1639.3,1222.7 1639.7,1219.6 1640.0,1222.6 1640.4,1222.0 1640.7,1219.8 1641.1,1220.6 1641.4,1222.6 1641.8,1223.6 1642.1,1223.0 1642.5,1225.8 1642.8,1222.1 1643.2,1220.3 1643.5,1221.9 1643.9,1220.9 1644.2,1218.6 1644.6,1223.3 1644.9,1220.5 1645.3,1220.6 1645.6,1224.3 1646.0,1221.0 1646.3,1220.7 1646.7,1223.0 1647.0,1224.3 1647.4,1219.3 1647.7,1220.3 1648.1,1221.0 1648.4,1222.9 1648.8,1222.1 1649.1,1223.3 1649.5,1219.8 1649.8,1221.6 1650.2,1223.8 1650.5,1219.3 1650.9,1223.2 1651.2,1220.7 1651.6,1222.2 1651.9,1220.4 1652.3,1222.6 1652.6,1222.8 1653.0,1221.6 1653.3,1224.0 1653.7,1220.4 1654.0,1223.1 1654.4,1220.2 1654.7,1223.1 1655.1,1222.9 1655.4,1220.8 1655.8,1223.9 1656.1,1221.7 1656.5,1219.9 1656.8,1221.3 1657.2,1223.0 1657.5,1221.8 1657.9,1223.0 1658.2,1223.7 1658.6,1222.9 1658.9,1222.5 1659.3,1222.1 1659.6,1222.4 1660.0,1223.7 1660.3,1221.0 1660.7,1221.5 1661.0,1222.9 1661.4,1220.5 1661.7,1223.1 1662.1,1221.8 1662.4,1222.5 1662.8,1221.0 1663.1,1221.5 1663.5,1223.4 1663.8,1220.3 1664.2,1223.2 1664.5,1223.3 1664.9,1221.9 1665.2,1219.2 1665.6,1220.3 1665.9,1222.4 1666.3,1223.3 1666.6,1220.0 1667.0,1222.3 1667.3,1222.2 1667.7,1219.8 1668.0,1222.1 1668.4,1220.8 1668.7,1219.8 1669.1,1224.3 1669.4,1220.9 1669.8,1220.0 1670.1,1220.0 1670.5,1224.5 1670.8,1223.2 1671.2,1222.7 1671.5,1220.8 1671.9,1222.5 1672.2,1222.1 1672.6,1223.0 1672.9,1220.0 1673.3,1223.0 1673.6,1223.3 1674.0,1220.8 1674.3,1220.8 1674.7,1221.9 1675.0,1220.2 1675.4,1221.7 1675.7,1221.7 1676.1,1223.9 1676.4,1220.7 1676.8,1221.7 1677.1,1223.9 1677.5,1219.8 1677.8,1223.5 1678.2,1221.5 1678.5,1222.9 1678.9,1222.2 1679.2,1223.0 1679.6,1217.7 1679.9,1221.3 1680.3,1219.3 1680.6,1221.8 1681.0,1221.4 1681.3,1222.4 1681.7,1224.5 1682.0,1223.0 1682.4,1222.9 1682.7,1223.2 1683.1,1222.0 1683.4,1224.4 1683.8,1223.3 1684.1,1222.5 1684.5,1224.1 1684.8,1222.0 1685.2,1221.8 1685.5,1221.3" fill="none" stroke="#505050" stroke-width="6.2" stroke-linejoin="round" stroke-linecap="butt"/>
<path d="M134.3,654.4 134.7,654.7 135.0,651.9 135.4,645.5 135.7,650.7 136.1,648.3 136.4,644.9 136.8,648.5 137.1,648.7 137.5,650.0 137.8,651.0 138.2,654.4 138.5,652.4 138.9,655.5 139.2,655.7 139.6,659.7 139.9,658.7 140.3,658.1 140.6,656.9 141.0,658.7 141.3,659.6 141.7,658.9 142.0,663.6 142.4,662.8 142.7,652.0 143.1,654.5 143.4,659.6 143.8,658.9 144.1,660.8 144.5,660.9 144.8,666.5 145.2,657.1 145.5,659.3 145.9,666.4 146.2,662.3 146.6,662.4 146.9,659.0 147.3,655.8 147.6,661.1 148.0,660.9 148.3,657.1 148.7,658.7 149.0,660.5 149.4,658.0 149.7,660.5 150.1,661.1 150.4,661.0 150.8,659.4 151.1,662.7 151.5,663.6 151.8,662.0 152.2,658.7 152.5,663.2 152.9,659.7 153.2,663.8 153.6,658.2 153.9,664.0 154.3,661.4 154.6,657.9 155.0,660.7 155.3,661.9 155.7,662.6 156.0,659.1 156.4,658.8 156.7,662.7 157.1,660.9 157.4,663.1 157.8,664.7 158.1,657.9 158.5,663.5 158.8,666.4 159.2,662.1 159.5,660.8 159.9,665.4 160.2,664.1 160.6,666.1 160.9,662.6 161.3,659.5 161.6,663.6 162.0,662.7 162.3,666.4 162.7,664.8 163.0,659.7 163.4,661.1 163.7,667.1 164.1,666.7 164.4,663.0 164.8,665.0 165.1,666.3 165.5,666.5 165.8,667.7 166.2,666.1 166.5,665.2 166.9,664.8 167.2,668.6 167.6,659.3 167.9,665.4 168.3,666.0 168.6,661.9 169.0,667.0 169.3,664.3 169.7,668.7 170.0,665.9 170.4,668.3 170.7,669.9 171.1,667.6 171.4,664.2 171.8,662.4 172.1,671.7 172.5,666.5 172.8,665.0 173.2,667.4 173.5,666.5 173.9,669.6 174.2,667.3 174.6,667.4 174.9,665.4 175.3,668.8 175.6,664.6 176.0,669.5 176.3,672.0 176.7,663.5 177.0,660.9 177.4,669.6 177.7,675.1 178.1,665.2 178.4,664.6 178.8,669.8 179.1,665.9 179.5,666.9 179.8,667.4 180.2,670.0 180.5,667.4 180.9,669.4 181.2,668.2 181.6,666.4 181.9,668.0 182.3,666.3 182.6,669.0 183.0,666.0 183.3,666.1 183.7,673.3 184.0,669.2 184.4,669.2 184.7,670.9 185.1,668.4 185.4,669.0 185.8,670.9 186.1,670.6 186.5,666.7 186.8,672.3 187.2,668.4 187.5,667.2 187.9,667.7 188.2,669.2 188.6,674.9 188.9,667.2 189.3,671.0 189.6,664.7 190.0,670.7 190.3,673.3 190.7,670.2 191.0,669.2 191.4,671.7 191.7,673.0 192.1,673.0 192.4,676.7 192.8,671.9 193.1,669.8 193.5,671.2 193.8,671.4 194.2,672.0 194.5,671.7 194.9,672.3 195.2,667.3 195.6,674.3 195.9,670.5 196.3,668.9 196.6,674.0 197.0,675.9 197.3,673.7 197.7,672.9 198.0,670.0 198.4,680.4 198.7,675.0 199.1,669.6 199.4,670.6 199.8,673.1 200.1,668.7 200.5,673.4 200.8,671.8 201.2,676.4 201.5,675.7 201.9,665.8 202.2,673.4 202.6,668.9 202.9,676.4 203.3,673.8 203.6,674.9 204.0,670.6 204.3,678.5 204.7,679.1 205.0,670.7 205.4,674.7 205.7,671.9 206.1,673.7 206.4,670.4 206.8,678.9 207.1,671.3 207.5,673.1 207.8,675.3 208.2,672.2 208.5,673.4 208.9,672.5 209.2,673.8 209.6,671.0 209.9,673.0 210.3,673.7 210.6,673.4 211.0,674.5 211.3,673.5 211.7,676.4 212.0,673.5 212.4,674.1 212.7,672.7 213.1,673.1 213.4,671.1 213.8,676.0 214.1,671.5 214.5,672.7 214.8,675.7 215.2,675.8 215.5,673.7 215.9,669.4 216.2,676.0 216.6,675.6 216.9,671.1 217.3,677.0 217.6,673.1 218.0,672.0 218.3,675.4 218.7,674.7 219.0,675.7 219.4,670.9 219.7,680.1 220.1,673.7 220.4,671.2 220.8,677.1 221.1,674.5 221.5,676.4 221.8,674.6 222.2,675.4 222.5,676.3 222.9,673.7 223.2,677.6 223.6,674.5 223.9,673.5 224.3,676.1 224.6,677.1 225.0,675.4 225.3,673.7 225.7,677.8 226.0,671.4 226.4,673.4 226.7,676.4 227.1,672.7 227.4,676.4 227.8,676.3 228.1,678.9 228.5,674.1 228.8,674.9 229.2,677.5 229.5,670.1 229.9,685.0 230.2,674.9 230.6,674.9 230.9,679.2 231.3,676.8 231.6,672.3 232.0,678.7 232.3,679.4 232.7,676.0 233.0,676.5 233.4,678.6 233.7,674.9 234.1,678.5 234.4,678.0 234.8,675.7 235.1,673.8 235.5,677.0 235.8,675.3 236.2,680.3 236.5,678.1 236.9,679.8 237.2,678.2 237.6,678.6 237.9,675.9 238.3,679.7 238.6,682.7 239.0,677.2 239.3,676.5 239.7,677.7 240.0,676.9 240.4,676.4 240.7,678.7 241.1,677.6 241.4,682.2 241.8,678.4 242.1,679.3 242.5,681.0 242.8,677.8 243.2,682.4 243.5,677.0 243.9,676.5 244.2,677.7 244.6,678.4 244.9,675.1 245.3,678.7 245.6,674.5 246.0,682.6 246.3,678.7 246.7,677.3 247.0,676.6 247.4,678.1 247.7,678.5 248.1,676.4 248.4,676.8 248.8,678.7 249.1,677.9 249.5,681.8 249.8,682.3 250.2,679.4 250.5,680.7 250.9,676.0 251.2,681.2 251.6,679.5 251.9,680.9 252.3,683.9 252.6,673.7 253.0,680.4 253.3,676.9 253.7,681.4 254.0,676.5 254.4,678.7 254.7,680.5 255.1,681.7 255.4,680.3 255.8,678.1 256.1,678.8 256.5,682.6 256.8,680.3 257.2,676.0 257.5,682.7 257.9,681.6 258.2,682.9 258.6,679.8 258.9,682.9 259.3,678.1 259.6,682.4 260.0,679.7 260.3,682.8 260.7,683.7 261.0,679.3 261.4,681.2 261.7,681.5 262.1,684.5 262.4,683.4 262.8,678.5 263.1,682.9 263.5,683.7 263.8,687.4 264.2,677.7 264.5,680.7 264.9,685.6 265.2,678.8 265.6,679.3 265.9,683.8 266.3,685.2 266.6,680.9 267.0,684.1 267.3,683.1 267.7,686.8 268.0,683.0 268.4,685.6 268.7,680.9 269.1,682.8 269.4,683.1 269.8,686.4 270.1,685.0 270.5,681.7 270.8,685.4 271.2,685.7 271.5,683.6 271.9,683.3 272.2,683.5 272.6,679.8 272.9,684.6 273.3,684.8 273.6,682.1 274.0,686.3 274.3,680.9 274.7,683.1 275.0,683.4 275.4,689.7 275.7,680.6 276.1,686.2 276.4,687.2 276.8,685.8 277.1,687.9 277.5,682.4 277.8,679.2 278.2,687.0 278.5,682.1 278.9,684.3 279.2,682.2 279.6,687.9 279.9,687.5 280.3,683.5 280.6,687.7 281.0,685.8 281.3,685.2 281.7,685.7 282.0,685.1 282.4,687.2 282.7,686.5 283.1,684.9 283.4,688.3 283.8,684.3 284.1,686.6 284.5,687.0 284.8,689.7 285.2,684.7 285.5,690.5 285.9,686.6 286.2,685.7 286.6,684.5 286.9,687.7 287.3,686.4 287.6,683.6 288.0,683.6 288.3,685.1 288.7,684.8 289.0,689.3 289.4,690.1 289.7,688.8 290.1,687.6 290.4,685.7 290.8,687.0 291.1,689.1 291.5,692.3 291.8,689.3 292.2,686.3 292.5,687.2 292.9,686.0 293.2,685.3 293.6,686.8 293.9,687.8 294.3,692.0 294.6,687.6 295.0,690.9 295.3,692.0 295.7,687.8 296.0,691.7 296.4,689.5 296.7,686.8 297.1,688.5 297.4,688.0 297.8,687.4 298.1,687.5 298.5,688.4 298.8,689.2 299.2,686.0 299.5,688.2 299.9,684.5 300.2,689.0 300.6,690.0 300.9,688.9 301.3,689.3 301.6,690.1 302.0,687.0 302.3,688.1 302.7,690.0 303.0,691.3 303.4,689.9 303.7,695.2 304.1,688.8 304.4,691.5 304.8,692.2 305.1,688.8 305.5,687.2 305.8,686.4 306.2,689.7 306.5,692.1 306.9,690.1 307.2,689.9 307.6,688.6 307.9,691.0 308.3,684.4 308.6,690.3 309.0,689.8 309.3,686.5 309.7,695.2 310.0,686.5 310.4,687.3 310.7,687.1 311.1,692.8 311.4,688.0 311.8,691.8 312.1,691.7 312.5,691.0 312.8,687.2 313.2,688.9 313.5,694.6 313.9,687.4 314.2,688.6 314.6,690.3 314.9,692.7 315.3,691.4 315.6,692.6 316.0,688.3 316.3,693.2 316.7,692.4 317.0,687.1 317.4,694.8 317.7,696.7 318.1,689.3 318.4,691.4 318.8,694.7 319.1,687.8 319.5,686.6 319.8,688.3 320.2,690.1 320.5,690.2 320.9,693.1 321.2,692.3 321.6,688.7 321.9,693.2 322.3,696.4 322.6,694.8 323.0,694.3 323.3,692.1 323.7,694.4 324.0,689.8 324.4,694.0 324.7,692.0 325.1,695.0 325.4,693.5 325.8,689.8 326.1,692.7 326.5,695.4 326.8,689.8 327.2,691.3 327.5,690.8 327.9,689.1 328.2,695.1 328.6,696.0 328.9,694.8 329.3,693.5 329.6,692.8 330.0,693.6 330.3,691.3 330.7,695.3 331.0,695.7 331.4,695.5 331.7,692.0 332.1,693.5 332.4,693.0 332.8,697.7 333.1,693.9 333.5,689.1 333.8,694.6 334.2,698.2 334.5,695.4 334.9,695.9 335.2,693.9 335.6,689.2 335.9,689.6 336.3,691.0 336.6,693.8 337.0,694.8 337.3,695.8 337.7,693.4 338.0,696.5 338.4,693.7 338.7,692.7 339.1,696.5 339.4,692.3 339.8,688.1 340.1,692.1 340.5,694.9 340.8,687.4 341.2,693.9 341.5,694.0 341.9,691.5 342.2,691.4 342.6,693.9 342.9,693.7 343.3,698.1 343.6,696.0 344.0,691.5 344.3,693.2 344.7,697.0 345.0,699.8 345.4,696.3 345.7,696.2 346.1,699.9 346.4,695.5 346.8,694.9 347.1,692.3 347.5,694.5 347.8,700.9 348.2,692.5 348.5,695.9 348.9,692.6 349.2,696.3 349.6,698.1 349.9,695.5 350.3,697.9 350.6,697.9 351.0,697.3 351.3,700.4 351.7,698.2 352.0,695.7 352.4,694.9 352.7,694.6 353.1,697.7 353.4,695.9 353.8,703.1 354.1,701.1 354.5,696.3 354.8,696.1 355.2,700.9 355.5,692.6 355.9,696.0 356.2,699.3 356.6,695.0 356.9,696.1 357.3,696.4 357.6,698.8 358.0,697.7 358.3,698.3 358.7,698.8 359.0,697.6 359.4,700.2 359.7,695.9 360.1,694.3 360.4,693.6 360.8,694.0 361.1,696.6 361.5,700.3 361.8,698.3 362.2,696.6 362.5,695.6 362.9,696.9 363.2,697.2 363.6,696.9 363.9,695.0 364.3,697.2 364.6,700.7 365.0,693.4 365.3,697.9 365.7,693.6 366.0,699.0 366.4,696.9 366.7,693.9 367.1,699.0 367.4,703.0 367.8,699.1 368.1,701.6 368.5,698.8 368.8,694.1 369.2,700.2 369.5,698.2 369.9,695.8 370.2,701.0 370.6,700.0 370.9,698.1 371.3,701.4 371.6,697.5 372.0,701.0 372.3,697.4 372.7,700.8 373.0,697.2 373.4,703.1 373.7,700.4 374.1,703.1 374.4,698.0 374.8,698.9 375.1,701.9 375.5,693.8 375.8,697.7 376.2,702.5 376.5,701.3 376.9,702.5 377.2,699.6 377.6,701.7 377.9,698.8 378.3,697.4 378.6,696.7 379.0,699.3 379.3,699.4 379.7,699.3 380.0,692.7 380.4,696.3 380.7,699.7 381.1,701.6 381.4,699.7 381.8,699.1 382.1,695.9 382.5,705.7 382.8,698.7 383.2,705.1 383.5,704.8 383.9,702.0 384.2,700.1 384.6,701.8 384.9,698.9 385.3,702.2 385.6,701.7 386.0,702.9 386.3,703.9 386.7,705.7 387.0,701.0 387.4,704.3 387.7,700.2 388.1,700.0 388.4,700.7 388.8,699.9 389.1,704.4 389.5,704.3 389.8,705.2 390.2,702.3 390.5,703.0 390.9,701.2 391.2,700.0 391.6,703.6 391.9,703.3 392.3,700.2 392.6,704.1 393.0,698.9 393.3,702.5 393.7,701.5 394.0,701.8 394.4,700.6 394.7,705.2 395.1,704.4 395.4,705.9 395.8,703.6 396.1,700.5 396.5,702.6 396.8,700.8 397.2,704.5 397.5,706.2 397.9,704.3 398.2,702.3 398.6,702.9 398.9,704.2 399.3,700.6 399.6,704.2 400.0,704.4 400.3,702.8 400.7,703.2 401.0,704.5 401.4,702.4 401.7,702.4 402.1,706.0 402.4,704.9 402.8,708.1 403.1,702.3 403.5,700.6 403.8,706.7 404.2,706.8 404.5,703.1 404.9,701.6 405.2,704.7 405.6,701.1 405.9,704.2 406.3,700.2 406.6,704.6 407.0,700.5 407.3,704.7 407.7,708.6 408.0,704.7 408.4,707.1 408.7,704.0 409.1,703.5 409.4,702.3 409.8,707.9 410.1,705.5 410.5,709.3 410.8,703.2 411.2,705.4 411.5,706.1 411.9,709.0 412.2,710.0 412.6,704.7 412.9,703.7 413.3,702.4 413.6,709.2 414.0,706.1 414.3,705.0 414.7,706.3 415.0,700.9 415.4,702.8 415.7,708.6 416.1,707.5 416.4,707.1 416.8,704.6 417.1,708.1 417.5,710.8 417.8,704.3 418.2,707.1 418.5,706.1 418.9,707.9 419.2,707.2 419.6,706.9 419.9,705.4 420.3,707.3 420.6,706.1 421.0,707.2 421.3,707.4 421.7,709.0 422.0,706.4 422.4,707.0 422.7,710.1 423.1,707.4 423.4,707.3 423.8,709.8 424.1,708.6 424.5,708.3 424.8,708.6 425.2,705.5 425.5,709.2 425.9,711.2 426.2,709.6 426.6,705.1 426.9,709.1 427.3,706.6 427.6,708.1 428.0,708.9 428.3,706.2 428.7,711.6 429.0,708.7 429.4,710.6 429.7,710.3 430.1,711.9 430.4,711.6 430.8,706.0 431.1,709.3 431.5,704.7 431.8,708.3 432.2,710.9 432.5,711.3 432.9,712.2 433.2,708.7 433.6,710.2 433.9,709.8 434.3,712.4 434.6,713.1 435.0,709.0 435.3,717.8 435.7,709.9 436.0,709.2 436.4,711.3 436.7,711.6 437.1,711.2 437.4,708.8 437.8,713.3 438.1,710.4 438.5,713.5 438.8,713.3 439.2,707.7 439.5,708.4 439.9,708.4 440.2,711.1 440.6,710.7 440.9,711.2 441.3,709.0 441.6,711.7 442.0,713.8 442.3,708.1 442.7,710.5 443.0,711.5 443.4,710.8 443.7,710.7 444.1,714.8 444.4,713.9 444.8,713.0 445.1,709.7 445.5,716.0 445.8,712.1 446.2,710.2 446.5,710.8 446.9,710.5 447.2,716.0 447.6,712.0 447.9,711.8 448.3,707.2 448.6,713.3 449.0,709.6 449.3,709.5 449.7,713.2 450.0,710.2 450.4,713.7 450.7,714.4 451.1,708.4 451.4,711.9 451.8,708.9 452.1,712.1 452.5,714.2 452.8,709.5 453.2,716.1 453.5,711.8 453.9,710.0 454.2,712.3 454.6,714.2 454.9,709.8 455.3,712.7 455.6,709.9 456.0,715.2 456.3,713.1 456.7,712.0 457.0,715.0 457.4,710.3 457.7,712.2 458.1,716.8 458.4,712.8 458.8,715.9 459.1,713.6 459.5,711.8 459.8,712.7 460.2,713.4 460.5,712.5 460.9,711.7 461.2,711.8 461.6,710.4 461.9,713.7 462.3,714.4 462.6,715.1 463.0,710.0 463.3,715.3 463.7,713.7 464.0,710.9 464.4,714.0 464.7,715.5 465.1,715.0 465.4,715.4 465.8,715.9 466.1,715.9 466.5,714.0 466.8,709.9 467.2,712.6 467.5,714.9 467.9,713.3 468.2,715.7 468.6,716.0 468.9,714.5 469.3,718.2 469.6,712.5 470.0,716.4 470.3,713.6 470.7,713.0 471.0,715.8 471.4,713.5 471.7,716.5 472.1,712.4 472.4,714.9 472.8,713.2 473.1,714.4 473.5,714.2 473.8,712.7 474.2,716.4 474.5,712.6 474.9,713.1 475.2,717.0 475.6,717.2 475.9,716.6 476.3,716.0 476.6,719.9 477.0,712.9 477.3,713.9 477.7,713.5 478.0,717.3 478.4,716.1 478.7,717.8 479.1,717.6 479.4,715.2 479.8,714.1 480.1,713.8 480.5,720.2 480.8,717.8 481.2,717.1 481.5,715.2 481.9,715.6 482.2,715.3 482.6,715.4 482.9,711.3 483.3,716.0 483.6,715.4 484.0,716.8 484.3,716.7 484.7,718.0 485.0,716.3 485.4,717.9 485.7,711.3 486.1,714.3 486.4,719.9 486.8,714.1 487.1,716.0 487.5,718.0 487.8,714.9 488.2,718.1 488.5,713.9 488.9,713.0 489.2,714.2 489.6,713.6 489.9,716.8 490.3,716.3 490.6,717.6 491.0,714.9 491.3,722.1 491.7,716.9 492.0,717.0 492.4,718.0 492.7,716.7 493.1,716.0 493.4,717.4 493.8,719.1 494.1,718.6 494.5,719.2 494.8,716.3 495.2,715.9 495.5,721.4 495.9,717.1 496.2,718.5 496.6,719.1 496.9,720.4 497.3,715.0 497.6,716.8 498.0,716.9 498.3,717.2 498.7,713.1 499.0,717.7 499.4,712.2 499.7,718.5 500.1,719.0 500.4,719.2 500.8,715.7 501.1,720.0 501.5,716.4 501.8,715.8 502.2,716.3 502.5,716.6 502.9,718.6 503.2,719.9 503.6,714.3 503.9,717.3 504.3,720.2 504.6,718.9 505.0,719.5 505.3,715.6 505.7,720.4 506.0,715.6 506.4,719.0 506.7,721.3 507.1,722.4 507.4,719.8 507.8,720.5 508.1,717.7 508.5,717.9 508.8,721.2 509.2,718.9 509.5,718.7 509.9,716.3 510.2,719.3 510.6,720.3 510.9,717.6 511.3,718.2 511.6,722.2 512.0,719.6 512.3,718.7 512.7,717.1 513.0,718.1 513.4,718.9 513.7,722.0 514.1,718.2 514.4,722.9 514.8,717.7 515.1,718.8 515.5,721.2 515.8,719.1 516.2,718.0 516.5,719.4 516.9,720.6 517.2,716.4 517.6,719.3 517.9,719.6 518.3,719.1 518.6,721.3 519.0,718.8 519.3,719.2 519.7,720.0 520.0,721.4 520.4,719.6 520.7,723.0 521.1,718.4 521.4,722.6 521.8,718.5 522.1,719.9 522.5,720.9 522.8,724.2 523.2,722.0 523.5,719.6 523.9,722.8 524.2,720.0 524.6,718.9 524.9,721.3 525.3,720.7 525.6,722.3 526.0,719.5 526.3,721.3 526.7,721.8 527.0,721.2 527.4,720.6 527.7,719.4 528.1,722.5 528.4,721.0 528.8,721.8 529.1,720.2 529.5,720.9 529.8,718.9 530.2,721.1 530.5,722.4 530.9,721.2 531.2,722.7 531.6,721.7 531.9,723.7 532.3,720.8 532.6,718.0 533.0,722.0 533.3,720.9 533.7,719.4 534.0,722.5 534.4,721.8 534.7,722.2 535.1,720.7 535.4,721.8 535.8,721.9 536.1,724.8 536.5,720.2 536.8,721.5 537.2,722.2 537.5,718.3 537.9,718.6 538.2,725.7 538.6,718.3 538.9,722.8 539.3,720.1 539.6,720.3 540.0,718.1 540.3,720.1 540.7,723.3 541.0,719.3 541.4,723.0 541.7,722.5 542.1,725.8 542.4,721.1 542.8,724.4 543.1,723.7 543.5,721.5 543.8,719.0 544.2,725.0 544.5,719.6 544.9,721.3 545.2,723.9 545.6,724.3 545.9,720.7 546.3,722.3 546.6,721.9 547.0,724.6 547.3,727.1 547.7,719.0 548.0,724.2 548.4,717.2 548.7,722.5 549.1,720.5 549.4,726.3 549.8,722.9 550.1,721.3 550.5,721.7 550.8,721.6 551.2,723.1 551.5,722.5 551.9,724.0 552.2,725.7 552.6,724.1 552.9,720.6 553.3,719.9 553.6,721.5 554.0,724.9 554.3,722.4 554.7,721.8 555.0,723.3 555.4,720.5 555.7,721.0 556.1,724.1 556.4,722.6 556.8,722.4 557.1,723.8 557.5,722.2 557.8,722.0 558.2,722.5 558.5,724.5 558.9,723.5 559.2,721.2 559.6,722.9 559.9,724.7 560.3,727.0 560.6,721.4 561.0,724.2 561.3,723.1 561.7,725.1 562.0,724.5 562.4,726.4 562.7,724.7 563.1,722.7 563.4,722.8 563.8,724.5 564.1,724.5 564.5,728.2 564.8,726.9 565.2,721.7 565.5,724.5 565.9,721.4 566.2,720.7 566.6,725.1 566.9,724.7 567.3,721.7 567.6,726.6 568.0,721.7 568.3,721.2 568.7,724.4 569.0,723.5 569.4,722.6 569.7,722.6 570.1,723.0 570.4,722.1 570.8,721.9 571.1,718.5 571.5,719.4 571.8,722.8 572.2,720.3 572.5,722.4 572.9,723.6 573.2,720.6 573.6,721.8 573.9,725.1 574.3,722.6 574.6,724.8 575.0,724.4 575.3,723.1 575.7,721.6 576.0,720.5 576.4,720.2 576.7,723.4 577.1,723.6 577.4,722.7 577.8,724.8 578.1,722.4 578.5,725.8 578.8,724.1 579.2,724.1 579.5,724.4 579.9,724.4 580.2,729.3 580.6,722.0 580.9,725.4 581.3,727.4 581.6,726.6 582.0,724.8 582.3,728.6 582.7,723.6 583.0,723.2 583.4,726.7 583.7,723.1 584.1,721.5 584.4,727.4 584.8,727.2 585.1,727.2 585.5,725.0 585.8,726.3 586.2,724.3 586.5,729.1 586.9,727.5 587.2,727.4 587.6,722.6 587.9,727.6 588.3,728.9 588.6,728.4 589.0,727.7 589.3,726.3 589.7,725.7 590.0,727.5 590.4,727.1 590.7,726.9 591.1,725.9 591.4,729.5 591.8,724.5 592.1,726.5 592.5,725.6 592.8,728.5 593.2,729.2 593.5,728.9 593.9,728.1 594.2,724.3 594.6,730.5 594.9,727.8 595.3,726.7 595.6,726.9 596.0,726.3 596.3,727.7 596.7,727.5 597.0,726.4 597.4,722.5 597.7,727.0 598.1,728.0 598.4,728.1 598.8,726.9 599.1,728.0 599.5,729.1 599.8,726.4 600.2,729.9 600.5,723.9 600.9,725.1 601.2,725.8 601.6,723.1 601.9,725.7 602.3,729.7 602.6,729.7 603.0,727.7 603.3,730.6 603.7,728.0 604.0,726.7 604.4,728.1 604.7,727.4 605.1,729.0 605.4,725.1 605.8,729.5 606.1,727.0 606.5,729.3 606.8,725.2 607.2,727.2 607.5,728.1 607.9,729.5 608.2,725.8 608.6,730.9 608.9,728.9 609.3,727.1 609.6,730.2 610.0,728.3 610.3,730.2 610.7,732.2 611.0,729.5 611.4,727.3 611.7,727.5 612.1,729.3 612.4,728.8 612.8,726.9 613.1,727.2 613.5,729.6 613.8,732.5 614.2,723.9 614.5,729.7 614.9,728.1 615.2,729.9 615.6,730.1 615.9,728.7 616.3,726.8 616.6,726.2 617.0,725.4 617.3,730.8 617.7,728.4 618.0,727.8 618.4,728.3 618.7,726.5 619.1,729.4 619.4,731.1 619.8,730.9 620.1,726.2 620.5,731.3 620.8,727.6 621.2,725.7 621.5,726.9 621.9,727.4 622.2,729.1 622.6,727.3 622.9,726.5 623.3,728.7 623.6,732.5 624.0,728.0 624.3,730.0 624.7,729.4 625.0,733.9 625.4,726.0 625.7,731.2 626.1,727.1 626.4,728.3 626.8,729.2 627.1,734.9 627.5,728.1 627.8,726.2 628.2,731.7 628.5,728.1 628.9,729.1 629.2,729.5 629.6,729.8 629.9,729.3 630.3,730.1 630.6,730.3 631.0,731.1 631.3,729.0 631.7,728.4 632.0,727.9 632.4,730.8 632.7,729.7 633.1,730.8 633.4,730.8 633.8,732.7 634.1,730.2 634.5,731.2 634.8,727.9 635.2,728.1 635.5,729.4 635.9,727.9 636.2,731.2 636.6,727.8 636.9,730.2 637.3,725.9 637.6,728.2 638.0,729.5 638.3,729.7 638.7,727.1 639.0,730.4 639.4,731.9 639.7,731.3 640.1,729.1 640.4,729.3 640.8,728.3 641.1,731.4 641.5,732.8 641.8,729.5 642.2,727.5 642.5,730.7 642.9,731.6 643.2,725.8 643.6,730.7 643.9,734.1 644.3,731.9 644.6,731.4 645.0,731.2 645.3,732.3 645.7,729.0 646.0,729.2 646.4,731.3 646.7,729.5 647.1,731.1 647.4,727.4 647.8,732.0 648.1,732.1 648.5,730.8 648.8,731.0 649.2,733.5 649.5,729.0 649.9,729.3 650.2,729.0 650.6,730.1 650.9,729.2 651.3,730.9 651.6,729.8 652.0,728.5 652.3,728.3 652.7,733.0 653.0,730.9 653.4,730.6 653.7,731.1 654.1,730.9 654.4,732.3 654.8,732.0 655.1,730.1 655.5,729.7 655.8,729.3 656.2,729.1 656.5,733.5 656.9,729.7 657.2,727.8 657.6,729.8 657.9,729.9 658.3,731.8 658.6,729.8 659.0,732.2 659.3,732.0 659.7,733.5 660.0,735.0 660.4,736.2 660.7,733.7 661.1,729.5 661.4,730.8 661.8,731.9 662.1,734.9 662.5,732.6 662.8,733.5 663.2,731.2 663.5,732.5 663.9,732.8 664.2,730.8 664.6,732.9 664.9,733.4 665.3,731.4 665.6,733.3 666.0,734.4 666.3,731.8 666.7,731.7 667.0,731.2 667.4,730.7 667.7,732.0 668.1,731.1 668.4,731.3 668.8,730.5 669.1,729.3 669.5,730.3 669.8,732.4 670.2,729.9 670.5,730.8 670.9,734.6 671.2,733.8 671.6,730.8 671.9,733.0 672.3,730.9 672.6,734.7 673.0,731.0 673.3,732.2 673.7,734.3 674.0,730.7 674.4,734.2 674.7,730.7 675.1,732.5 675.4,731.6 675.8,732.0 676.1,732.4 676.5,732.0 676.8,730.5 677.2,733.6 677.5,733.4 677.9,734.4 678.2,734.5 678.6,730.0 678.9,734.4 679.3,734.4 679.6,731.4 680.0,734.0 680.3,734.8 680.7,731.5 681.0,730.1 681.4,731.8 681.7,737.0 682.1,732.8 682.4,730.4 682.8,732.0 683.1,730.8 683.5,731.8 683.8,732.7 684.2,728.3 684.5,733.1 684.9,734.9 685.2,732.2 685.6,731.9 685.9,734.4 686.3,730.5 686.6,730.6 687.0,730.3 687.3,732.4 687.7,733.3 688.0,732.5 688.4,733.6 688.7,734.1 689.1,733.5 689.4,731.4 689.8,732.3 690.1,734.8 690.5,731.0 690.8,732.4 691.2,732.1 691.5,732.5 691.9,731.1 692.2,730.6 692.6,737.0 692.9,734.4 693.3,731.7 693.6,732.8 694.0,734.0 694.3,732.3 694.7,733.9 695.0,731.9 695.4,732.4 695.7,732.8 696.1,732.2 696.4,729.0 696.8,733.0 697.1,733.4 697.5,733.8 697.8,731.4 698.2,733.6 698.5,733.4 698.9,730.2 699.2,729.5 699.6,733.8 699.9,731.5 700.3,734.7 700.6,736.6 701.0,732.2 701.3,732.0 701.7,733.1 702.0,734.2 702.4,731.3 702.7,735.2 703.1,734.8 703.4,734.2 703.8,732.3 704.1,734.7 704.5,734.6 704.8,731.2 705.2,736.6 705.5,732.7 705.9,733.8 706.2,732.3 706.6,733.8 706.9,735.0 707.3,731.8 707.6,730.4 708.0,732.4 708.3,731.0 708.7,731.8 709.0,732.8 709.4,732.8 709.7,734.9 710.1,731.1 710.4,733.2 710.8,731.6 711.1,734.5 711.5,736.1 711.8,732.2 712.2,734.1 712.5,730.1 712.9,727.9 713.2,727.9 713.6,726.8 713.9,727.3 714.3,727.8 714.6,729.5 715.0,728.1 715.3,727.1 715.7,725.0 716.0,724.0 716.4,724.8 716.7,724.7 717.1,724.8 717.4,725.0 717.8,724.3 718.1,721.5 718.5,723.3 718.8,724.3 719.2,729.2 719.5,726.3 719.9,728.8 720.2,730.8 720.6,729.5 720.9,729.0 721.3,729.7 721.6,729.1 722.0,731.7 722.3,733.5 722.7,733.0 723.0,733.6 723.4,733.8 723.7,736.1 724.1,732.0 724.4,733.5 724.8,734.5 725.1,735.5 725.5,729.6 725.8,732.8 726.2,733.3 726.5,732.1 726.9,735.1 727.2,734.2 727.6,733.2 727.9,731.3 728.3,731.8 728.6,732.4 729.0,734.7 729.3,732.0 729.7,730.7 730.0,731.7 730.4,733.1 730.7,736.8 731.1,738.1 731.4,733.3 731.8,735.7 732.1,736.4 732.5,736.2 732.8,734.0 733.2,732.1 733.5,733.4 733.9,731.3 734.2,734.6 734.6,735.5 734.9,731.2 735.3,734.2 735.6,734.8 736.0,736.3 736.3,736.5 736.7,735.6 737.0,733.3 737.4,733.8 737.7,736.3 738.1,733.4 738.4,734.3 738.8,736.9 739.1,734.6 739.5,732.3 739.8,734.0 740.2,735.5 740.5,734.2 740.9,736.4 741.2,736.6 741.6,733.5 741.9,733.7 742.3,734.4 742.6,732.6 743.0,735.2 743.3,734.3 743.7,735.8 744.0,733.6 744.4,733.2 744.7,737.6 745.1,733.2 745.4,733.7 745.8,733.5 746.1,734.2 746.5,733.2 746.8,734.6 747.2,733.6 747.5,734.0 747.9,735.3 748.2,735.8 748.6,735.5 748.9,733.6 749.3,735.4 749.6,734.6 750.0,734.6 750.3,732.1 750.7,735.9 751.0,734.6 751.4,737.5 751.7,735.8 752.1,733.1 752.4,732.7 752.8,736.7 753.1,733.5 753.5,736.0 753.8,734.4 754.2,738.2 754.5,735.0 754.9,737.3 755.2,737.0 755.6,734.2 755.9,734.4 756.3,737.3 756.6,735.0 757.0,733.6 757.3,736.9 757.7,739.1 758.0,735.0 758.4,737.2 758.7,734.8 759.1,737.2 759.4,734.7 759.8,737.2 760.1,736.0 760.5,734.8 760.8,735.5 761.2,734.3 761.5,733.4 761.9,733.5 762.2,735.1 762.6,733.5 762.9,735.9 763.3,736.0 763.6,736.0 764.0,734.4 764.3,735.3 764.7,735.2 765.0,737.3 765.4,734.0 765.7,734.7 766.1,734.9 766.4,735.1 766.8,734.1 767.1,734.3 767.5,736.9 767.8,734.3 768.2,736.8 768.5,738.6 768.9,737.4 769.2,732.5 769.6,736.6 769.9,736.1 770.3,736.2 770.6,732.8 771.0,736.6 771.3,733.7 771.7,737.4 772.0,737.1 772.4,739.4 772.7,734.8 773.1,733.0 773.4,737.1 773.8,736.8 774.1,734.8 774.5,737.6 774.8,736.5 775.2,733.4 775.5,734.9 775.9,734.8 776.2,735.3 776.6,735.8 776.9,734.4 777.3,735.2 777.6,736.4 778.0,735.4 778.3,735.1 778.7,735.0 779.0,735.4 779.4,732.5 779.7,735.8 780.1,733.9 780.4,735.7 780.8,733.3 781.1,737.0 781.5,735.9 781.8,733.5 782.2,736.0 782.5,734.4 782.9,738.4 783.2,736.4 783.6,734.4 783.9,736.0 784.3,735.6 784.6,737.5 785.0,736.2 785.3,736.4 785.7,733.9 786.0,736.9 786.4,738.9 786.7,736.7 787.1,735.6 787.4,735.9 787.8,734.2 788.1,736.0 788.5,734.0 788.8,735.8 789.2,735.1 789.5,734.4 789.9,736.6 790.2,733.4 790.6,735.7 790.9,733.7 791.3,738.6 791.6,738.8 792.0,737.1 792.3,738.7 792.7,736.7 793.0,736.6 793.4,735.1 793.7,734.4 794.1,736.0 794.4,734.9 794.8,735.1 795.1,736.9 795.5,735.6 795.8,733.4 796.2,735.5 796.5,734.6 796.9,735.3 797.2,734.1 797.6,737.7 797.9,738.8 798.3,734.1 798.6,736.8 799.0,736.8 799.3,734.2 799.7,736.0 800.0,738.0 800.4,737.2 800.7,738.4 801.1,734.0 801.4,734.7 801.8,736.3 802.1,736.4 802.5,735.9 802.8,735.3 803.2,735.2 803.5,734.9 803.9,736.6 804.2,731.6 804.6,738.4 804.9,735.1 805.3,733.7 805.6,736.7 806.0,733.7 806.3,736.5 806.7,735.3 807.0,736.8 807.4,737.1 807.7,737.9 808.1,735.1 808.4,735.5 808.8,735.9 809.1,733.7 809.5,736.8 809.8,736.1 810.2,733.8 810.5,737.8 810.9,738.1 811.2,733.9 811.6,736.8 811.9,737.9 812.3,737.2 812.6,734.4 813.0,733.8 813.3,735.7 813.7,735.1 814.0,735.9 814.4,735.7 814.7,736.7 815.1,735.0 815.4,735.6 815.8,740.5 816.1,735.7 816.5,737.0 816.8,736.3 817.2,736.1 817.5,734.4 817.9,736.6 818.2,735.6 818.6,737.0 818.9,738.8 819.3,735.9 819.6,736.8 820.0,733.9 820.3,735.6 820.7,737.8 821.0,735.2 821.4,734.2 821.7,735.5 822.1,734.8 822.4,734.6 822.8,734.2 823.1,737.8 823.5,733.2 823.8,733.7 824.2,733.3 824.5,735.9 824.9,733.3 825.2,735.5 825.6,733.4 825.9,732.8 826.3,730.1 826.6,734.0 827.0,732.4 827.3,731.7 827.7,730.4 828.0,729.3 828.4,727.2 828.7,730.0 829.1,728.1 829.4,726.1 829.8,724.7 830.1,724.7 830.5,723.1 830.8,724.6 831.2,721.6 831.5,717.4 831.9,714.5 832.2,713.7 832.6,709.9 832.9,708.6 833.3,705.6 833.6,701.8 834.0,696.3 834.3,689.0 834.7,683.0 835.0,671.0 835.4,661.4 835.7,649.5 836.1,632.2 836.4,609.8 836.8,587.2 837.1,559.9 837.5,536.6 837.8,496.8 838.2,463.3 838.5,428.4 838.9,386.7 839.2,346.4 839.6,302.4 839.9,265.7 840.3,233.2 840.6,193.1 841.0,162.8 841.3,192.5 841.7,227.3 842.0,265.0 842.4,306.1 842.7,342.2 843.1,382.0 843.4,425.0 843.8,464.0 844.1,502.7 844.5,534.6 844.8,562.0 845.2,590.7 845.5,614.6 845.9,632.4 846.2,647.5 846.6,663.1 846.9,672.2 847.3,678.5 847.6,692.2 848.0,693.3 848.3,700.3 848.7,704.6 849.0,708.2 849.4,711.3 849.7,712.0 850.1,717.7 850.4,718.9 850.8,720.7 851.1,724.0 851.5,725.5 851.8,727.2 852.2,729.1 852.5,727.9 852.9,725.6 853.2,729.3 853.6,729.8 853.9,730.5 854.3,730.1 854.6,730.2 855.0,733.4 855.3,734.1 855.7,731.3 856.0,734.2 856.4,733.5 856.7,733.4 857.1,735.4 857.4,734.5 857.8,733.9 858.1,735.1 858.5,732.1 858.8,734.5 859.2,734.8 859.5,733.5 859.9,736.1 860.2,736.3 860.6,735.1 860.9,735.8 861.3,737.2 861.6,737.9 862.0,735.2 862.3,736.9 862.7,738.1 863.0,736.5 863.4,735.4 863.7,735.5 864.1,736.2 864.4,735.1 864.8,739.8 865.1,735.9 865.5,737.4 865.8,737.1 866.2,737.8 866.5,736.3 866.9,735.0 867.2,739.5 867.6,736.9 867.9,737.2 868.3,737.4 868.6,739.0 869.0,738.3 869.3,738.9 869.7,738.4 870.0,737.4 870.4,737.6 870.7,736.1 871.1,734.3 871.4,736.9 871.8,735.7 872.1,741.3 872.5,739.7 872.8,739.2 873.2,736.6 873.5,740.6 873.9,734.9 874.2,735.7 874.6,736.4 874.9,736.1 875.3,737.8 875.6,737.9 876.0,740.5 876.3,739.2 876.7,739.6 877.0,738.4 877.4,737.6 877.7,736.8 878.1,735.6 878.4,736.6 878.8,737.4 879.1,739.1 879.5,735.5 879.8,736.0 880.2,738.4 880.5,736.5 880.9,738.6 881.2,737.5 881.6,737.1 881.9,736.2 882.3,738.1 882.6,737.2 883.0,737.4 883.3,737.4 883.7,738.6 884.0,738.6 884.4,735.9 884.7,738.2 885.1,739.1 885.4,740.1 885.8,739.7 886.1,738.9 886.5,736.9 886.8,737.5 887.2,740.0 887.5,737.7 887.9,740.3 888.2,740.7 888.6,737.2 888.9,739.5 889.3,738.7 889.6,741.9 890.0,740.1 890.3,738.2 890.7,739.6 891.0,737.6 891.4,738.8 891.7,739.4 892.1,739.3 892.4,739.6 892.8,737.8 893.1,736.4 893.5,738.6 893.8,737.9 894.2,738.2 894.5,742.4 894.9,741.0 895.2,739.0 895.6,737.2 895.9,737.4 896.3,739.9 896.6,740.9 897.0,739.0 897.3,739.6 897.7,739.8 898.0,741.0 898.4,736.7 898.7,739.7 899.1,740.1 899.4,740.9 899.8,740.1 900.1,737.9 900.5,738.7 900.8,737.3 901.2,739.8 901.5,739.8 901.9,740.3 902.2,738.1 902.6,737.9 902.9,741.8 903.3,739.9 903.6,742.2 904.0,740.3 904.3,737.5 904.7,740.8 905.0,741.4 905.4,739.0 905.7,736.9 906.1,740.6 906.4,739.5 906.8,740.1 907.1,735.8 907.5,740.4 907.8,735.7 908.2,738.5 908.5,741.0 908.9,737.1 909.2,737.0 909.6,739.1 909.9,742.2 910.3,742.1 910.6,738.9 911.0,741.2 911.3,740.6 911.7,740.2 912.0,740.3 912.4,738.8 912.7,741.0 913.1,741.4 913.4,743.8 913.8,741.2 914.1,736.3 914.5,738.1 914.8,740.3 915.2,740.0 915.5,737.2 915.9,739.7 916.2,739.4 916.6,739.8 916.9,739.7 917.3,741.2 917.6,742.0 918.0,740.9 918.3,738.3 918.7,738.7 919.0,739.0 919.4,739.9 919.7,739.3 920.1,739.4 920.4,738.6 920.8,741.3 921.1,741.2 921.5,741.4 921.8,739.9 922.2,740.6 922.5,738.7 922.9,738.5 923.2,739.2 923.6,740.9 923.9,739.8 924.3,738.4 924.6,740.2 925.0,740.6 925.3,740.3 925.7,739.1 926.0,740.1 926.4,739.4 926.7,739.6 927.1,739.9 927.4,741.2 927.8,742.7 928.1,742.3 928.5,741.0 928.8,739.5 929.2,739.7 929.5,739.7 929.9,741.8 930.2,736.1 930.6,740.5 930.9,737.3 931.3,740.1 931.6,742.0 932.0,738.8 932.3,736.9 932.7,742.0 933.0,742.3 933.4,740.9 933.7,742.0 934.1,739.0 934.4,741.9 934.8,742.6 935.1,741.1 935.5,740.6 935.8,742.0 936.2,741.8 936.5,739.1 936.9,742.2 937.2,741.3 937.6,740.4 937.9,742.1 938.3,741.6 938.6,741.3 939.0,739.5 939.3,741.4 939.7,738.6 940.0,740.1 940.4,737.8 940.7,737.8 941.1,740.9 941.4,740.1 941.8,740.4 942.1,741.1 942.5,740.8 942.8,739.0 943.2,740.4 943.5,740.2 943.9,739.6 944.2,740.1 944.6,739.8 944.9,739.4 945.3,739.8 945.6,740.7 946.0,743.3 946.3,739.2 946.7,741.1 947.0,738.2 947.4,742.6 947.7,739.9 948.1,740.6 948.4,742.2 948.8,741.8 949.1,738.2 949.5,741.2 949.8,740.1 950.2,741.3 950.5,740.6 950.9,741.5 951.2,740.8 951.6,740.2 951.9,742.1 952.3,738.2 952.6,739.8 953.0,739.1 953.3,740.2 953.7,739.8 954.0,740.2 954.4,739.8 954.7,739.8 955.1,738.1 955.4,740.4 955.8,740.9 956.1,739.6 956.5,739.5 956.8,739.6 957.2,742.9 957.5,740.8 957.9,741.1 958.2,740.1 958.6,739.8 958.9,739.3 959.3,742.7 959.6,738.1 960.0,741.0 960.3,740.5 960.7,740.2 961.0,738.3 961.4,738.8 961.7,742.0 962.1,739.6 962.4,741.9 962.8,741.6 963.1,741.4 963.5,741.7 963.8,738.9 964.2,740.0 964.5,741.6 964.9,738.9 965.2,743.0 965.6,739.9 965.9,740.6 966.3,739.2 966.6,741.2 967.0,739.7 967.3,740.4 967.7,739.1 968.0,742.4 968.4,738.4 968.7,741.4 969.1,741.1 969.4,741.4 969.8,739.3 970.1,742.2 970.5,742.2 970.8,741.0 971.2,741.3 971.5,740.6 971.9,741.7 972.2,739.7 972.6,741.6 972.9,741.4 973.3,738.9 973.6,737.2 974.0,740.7 974.3,740.7 974.7,742.6 975.0,741.0 975.4,740.2 975.7,739.0 976.1,740.8 976.4,740.1 976.8,739.4 977.1,740.8 977.5,742.5 977.8,741.1 978.2,739.5 978.5,741.5 978.9,739.5 979.2,738.8 979.6,741.8 979.9,740.3 980.3,742.7 980.6,741.6 981.0,740.0 981.3,741.4 981.7,743.0 982.0,740.9 982.4,739.7 982.7,740.3 983.1,740.1 983.4,739.6 983.8,739.4 984.1,741.8 984.5,742.8 984.8,740.8 985.2,742.4 985.5,742.6 985.9,743.7 986.2,741.1 986.6,740.8 986.9,741.9 987.3,741.5 987.6,741.8 988.0,743.2 988.3,740.8 988.7,741.7 989.0,740.1 989.4,741.2 989.7,740.5 990.1,740.4 990.4,741.2 990.8,740.9 991.1,742.0 991.5,742.7 991.8,739.5 992.2,743.0 992.5,738.5 992.9,741.9 993.2,742.6 993.6,740.7 993.9,741.3 994.3,740.6 994.6,742.9 995.0,737.2 995.3,740.3 995.7,739.0 996.0,742.0 996.4,743.5 996.7,743.4 997.1,742.7 997.4,742.1 997.8,740.7 998.1,743.5 998.5,742.7 998.8,740.7 999.2,740.1 999.5,741.0 999.9,743.4 1000.2,743.6 1000.6,744.2 1000.9,740.8 1001.3,741.4 1001.6,743.9 1002.0,742.3 1002.3,743.0 1002.7,740.2 1003.0,741.5 1003.4,742.0 1003.7,741.5 1004.1,741.5 1004.4,739.8 1004.8,744.3 1005.1,742.3 1005.5,740.1 1005.8,743.6 1006.2,742.2 1006.5,743.1 1006.9,741.9 1007.2,741.1 1007.6,741.1 1007.9,742.7 1008.3,743.3 1008.6,742.9 1009.0,743.1 1009.3,743.9 1009.7,742.7 1010.0,743.7 1010.4,743.8 1010.7,742.7 1011.1,742.2 1011.4,741.8 1011.8,740.7 1012.1,740.2 1012.5,744.2 1012.8,742.4 1013.2,741.7 1013.5,744.6 1013.9,743.8 1014.2,742.6 1014.6,743.9 1014.9,742.2 1015.3,743.0 1015.6,745.0 1016.0,744.0 1016.3,742.2 1016.7,743.5 1017.0,744.2 1017.4,742.4 1017.7,742.0 1018.1,745.2 1018.4,742.2 1018.8,740.8 1019.1,742.9 1019.5,745.8 1019.8,743.6 1020.2,744.0 1020.5,739.8 1020.9,742.0 1021.2,744.4 1021.6,742.2 1021.9,744.6 1022.3,743.5 1022.6,743.4 1023.0,745.1 1023.3,742.2 1023.7,742.2 1024.0,743.0 1024.4,743.2 1024.7,740.6 1025.1,744.6 1025.4,743.2 1025.8,742.7 1026.1,743.8 1026.5,742.4 1026.8,744.6 1027.2,743.0 1027.5,743.9 1027.9,741.7 1028.2,742.6 1028.6,743.5 1028.9,741.7 1029.3,742.1 1029.6,742.9 1030.0,744.5 1030.3,744.0 1030.7,744.2 1031.0,743.4 1031.4,744.2 1031.7,745.1 1032.1,743.2 1032.4,743.6 1032.8,743.8 1033.1,740.3 1033.5,742.9 1033.8,743.6 1034.2,744.1 1034.5,742.6 1034.9,744.4 1035.2,742.2 1035.6,742.8 1035.9,745.3 1036.3,741.2 1036.6,742.9 1037.0,742.8 1037.3,742.9 1037.7,742.3 1038.0,743.9 1038.4,741.6 1038.7,741.3 1039.1,743.7 1039.4,741.4 1039.8,743.6 1040.1,743.1 1040.5,742.1 1040.8,742.6 1041.2,742.9 1041.5,743.7 1041.9,742.2 1042.2,742.8 1042.6,741.1 1042.9,742.7 1043.3,740.5 1043.6,743.0 1044.0,742.5 1044.3,745.9 1044.7,744.8 1045.0,742.9 1045.4,744.4 1045.7,743.5 1046.1,741.5 1046.4,739.8 1046.8,744.6 1047.1,743.6 1047.5,740.4 1047.8,744.0 1048.2,744.3 1048.5,742.2 1048.9,744.2 1049.2,740.8 1049.6,742.8 1049.9,743.1 1050.3,744.2 1050.6,743.6 1051.0,743.4 1051.3,743.9 1051.7,742.2 1052.0,745.1 1052.4,742.6 1052.7,744.2 1053.1,743.1 1053.4,742.8 1053.8,743.9 1054.1,743.7 1054.5,744.9 1054.8,744.6 1055.2,742.4 1055.5,743.8 1055.9,743.3 1056.2,742.0 1056.6,741.6 1056.9,743.5 1057.3,742.4 1057.6,741.3 1058.0,743.0 1058.3,743.4 1058.7,743.3 1059.0,741.5 1059.4,742.3 1059.7,745.0 1060.1,742.1 1060.4,742.7 1060.8,746.2 1061.1,743.6 1061.5,742.4 1061.8,740.5 1062.2,743.5 1062.5,741.2 1062.9,743.1 1063.2,741.9 1063.6,740.9 1063.9,745.4 1064.3,743.0 1064.6,744.4 1065.0,744.1 1065.3,742.1 1065.7,743.2 1066.0,742.6 1066.4,744.4 1066.7,743.7 1067.1,742.6 1067.4,745.3 1067.8,743.8 1068.1,743.7 1068.5,742.0 1068.8,743.7 1069.2,741.1 1069.5,743.7 1069.9,741.8 1070.2,743.4 1070.6,742.7 1070.9,743.4 1071.3,743.6 1071.6,743.0 1072.0,743.0 1072.3,741.1 1072.7,740.5 1073.0,744.8 1073.4,743.9 1073.7,741.1 1074.1,745.7 1074.4,742.1 1074.8,743.8 1075.1,743.7 1075.5,743.2 1075.8,743.9 1076.2,741.2 1076.5,743.0 1076.9,742.8 1077.2,743.2 1077.6,742.7 1077.9,742.2 1078.3,742.1 1078.6,744.3 1079.0,742.0 1079.3,743.6 1079.7,743.6 1080.0,743.0 1080.4,743.7 1080.7,743.8 1081.1,742.4 1081.4,743.6 1081.8,745.7 1082.1,741.7 1082.5,742.7 1082.8,742.1 1083.2,745.8 1083.5,741.2 1083.9,743.1 1084.2,744.4 1084.6,741.9 1084.9,742.9 1085.3,742.1 1085.6,741.3 1086.0,743.0 1086.3,743.8 1086.7,742.6 1087.0,743.3 1087.4,744.0 1087.7,744.7 1088.1,741.4 1088.4,743.9 1088.8,742.3 1089.1,740.6 1089.5,742.1 1089.8,744.0 1090.2,743.5 1090.5,741.6 1090.9,745.3 1091.2,743.6 1091.6,743.0 1091.9,742.4 1092.3,743.7 1092.6,742.6 1093.0,744.6 1093.3,743.5 1093.7,743.9 1094.0,742.7 1094.4,741.1 1094.7,743.8 1095.1,741.7 1095.4,743.0 1095.8,743.1 1096.1,742.0 1096.5,744.3 1096.8,741.2 1097.2,745.1 1097.5,742.3 1097.9,744.4 1098.2,744.8 1098.6,741.9 1098.9,742.1 1099.3,744.4 1099.6,743.3 1100.0,743.2 1100.3,740.6 1100.7,740.9 1101.0,743.8 1101.4,745.0 1101.7,742.1 1102.1,741.9 1102.4,743.4 1102.8,743.7 1103.1,743.9 1103.5,742.5 1103.8,740.5 1104.2,745.0 1104.5,742.4 1104.9,744.8 1105.2,740.4 1105.6,743.6 1105.9,742.4 1106.3,741.6 1106.6,744.4 1107.0,744.8 1107.3,742.3 1107.7,744.0 1108.0,741.7 1108.4,742.3 1108.7,742.8 1109.1,742.6 1109.4,743.9 1109.8,741.5 1110.1,744.4 1110.5,744.4 1110.8,742.8 1111.2,741.5 1111.5,739.9 1111.9,743.0 1112.2,742.1 1112.6,743.2 1112.9,741.7 1113.3,743.1 1113.6,743.0 1114.0,743.1 1114.3,743.5 1114.7,743.5 1115.0,744.4 1115.4,742.1 1115.7,744.1 1116.1,743.3 1116.4,742.5 1116.8,741.8 1117.1,745.0 1117.5,743.4 1117.8,742.4 1118.2,743.2 1118.5,743.1 1118.9,742.4 1119.2,741.3 1119.6,743.3 1119.9,742.9 1120.3,742.7 1120.6,744.4 1121.0,741.4 1121.3,741.8 1121.7,743.3 1122.0,744.2 1122.4,743.9 1122.7,744.1 1123.1,740.2 1123.4,743.8 1123.8,743.7 1124.1,744.0 1124.5,742.2 1124.8,743.8 1125.2,744.4 1125.5,745.2 1125.9,743.4 1126.2,741.3 1126.6,743.2 1126.9,744.0 1127.3,743.8 1127.6,745.6 1128.0,742.8 1128.3,741.8 1128.7,742.3 1129.0,744.0 1129.4,742.0 1129.7,741.7 1130.1,742.0 1130.4,744.7 1130.8,743.4 1131.1,742.7 1131.5,744.2 1131.8,744.0 1132.2,741.8 1132.5,744.2 1132.9,743.4 1133.2,740.4 1133.6,741.5 1133.9,743.5 1134.3,743.8 1134.6,742.7 1135.0,741.8 1135.3,743.4 1135.7,740.7 1136.0,743.9 1136.4,742.9 1136.7,743.1 1137.1,742.3 1137.4,744.2 1137.8,740.0 1138.1,742.0 1138.5,743.9 1138.8,742.2 1139.2,745.1 1139.5,743.7 1139.9,742.1 1140.2,744.6 1140.6,743.0 1140.9,743.9 1141.3,742.3 1141.6,742.3 1142.0,744.1 1142.3,743.3 1142.7,742.1 1143.0,742.0 1143.4,744.0 1143.7,745.5 1144.1,742.0 1144.4,744.0 1144.8,739.3 1145.1,741.3 1145.5,744.0 1145.8,745.3 1146.2,743.2 1146.5,743.9 1146.9,743.5 1147.2,744.5 1147.6,741.7 1147.9,744.0 1148.3,742.6 1148.6,742.7 1149.0,743.2 1149.3,742.9 1149.7,742.2 1150.0,742.8 1150.4,741.9 1150.7,745.1 1151.1,744.1 1151.4,742.6 1151.8,745.3 1152.1,744.9 1152.5,743.8 1152.8,742.5 1153.2,743.5 1153.5,743.9 1153.9,745.0 1154.2,742.9 1154.6,742.4 1154.9,746.2 1155.3,745.0 1155.6,743.6 1156.0,742.0 1156.3,743.8 1156.7,744.6 1157.0,744.2 1157.4,744.3 1157.7,743.2 1158.1,744.7 1158.4,742.4 1158.8,742.6 1159.1,742.5 1159.5,742.3 1159.8,745.7 1160.2,740.9 1160.5,743.5 1160.9,741.9 1161.2,741.5 1161.6,743.3 1161.9,741.1 1162.3,743.0 1162.6,746.2 1163.0,743.0 1163.3,743.8 1163.7,742.0 1164.0,743.8 1164.4,741.2 1164.7,743.4 1165.1,743.0 1165.4,746.0 1165.8,743.0 1166.1,742.7 1166.5,742.4 1166.8,741.5 1167.2,744.1 1167.5,745.0 1167.9,742.6 1168.2,744.1 1168.6,742.7 1168.9,743.7 1169.3,743.7 1169.6,741.2 1170.0,742.1 1170.3,744.4 1170.7,740.6 1171.0,743.1 1171.4,742.7 1171.7,741.9 1172.1,743.2 1172.4,743.5 1172.8,743.8 1173.1,739.6 1173.5,745.3 1173.8,742.5 1174.2,744.5 1174.5,743.0 1174.9,742.3 1175.2,743.0 1175.6,747.3 1175.9,745.2 1176.3,742.6 1176.6,743.4 1177.0,744.6 1177.3,743.9 1177.7,743.2 1178.0,742.9 1178.4,741.7 1178.7,744.1 1179.1,744.6 1179.4,746.1 1179.8,742.4 1180.1,744.0 1180.5,743.1 1180.8,744.8 1181.2,743.0 1181.5,742.2 1181.9,740.9 1182.2,744.1 1182.6,743.3 1182.9,744.6 1183.3,742.4 1183.6,746.5 1184.0,742.2 1184.3,743.8 1184.7,743.7 1185.0,744.6 1185.4,742.9 1185.7,741.9 1186.1,741.8 1186.4,744.2 1186.8,743.2 1187.1,743.6 1187.5,742.0 1187.8,743.3 1188.2,743.4 1188.5,743.9 1188.9,741.2 1189.2,742.1 1189.6,745.4 1189.9,742.6 1190.3,743.0 1190.6,742.6 1191.0,741.1 1191.3,741.7 1191.7,743.6 1192.0,742.2 1192.4,745.8 1192.7,741.1 1193.1,740.5 1193.4,742.6 1193.8,741.5 1194.1,744.9 1194.5,742.5 1194.8,743.8 1195.2,741.2 1195.5,744.0 1195.9,743.9 1196.2,744.7 1196.6,743.4 1196.9,743.8 1197.3,743.3 1197.6,744.3 1198.0,742.5 1198.3,743.8 1198.7,742.3 1199.0,744.0 1199.4,742.7 1199.7,742.2 1200.1,742.2 1200.4,745.0 1200.8,741.0 1201.1,741.1 1201.5,743.9 1201.8,741.8 1202.2,742.5 1202.5,742.4 1202.9,746.1 1203.2,742.2 1203.6,742.1 1203.9,742.6 1204.3,743.4 1204.6,743.7 1205.0,741.1 1205.3,743.7 1205.7,745.7 1206.0,740.7 1206.4,743.9 1206.7,744.1 1207.1,743.3 1207.4,742.8 1207.8,740.0 1208.1,744.7 1208.5,742.7 1208.8,742.8 1209.2,744.7 1209.5,740.0 1209.9,743.0 1210.2,743.9 1210.6,744.0 1210.9,743.9 1211.3,745.8 1211.6,743.5 1212.0,744.4 1212.3,744.1 1212.7,741.1 1213.0,742.1 1213.4,745.8 1213.7,742.7 1214.1,743.0 1214.4,741.4 1214.8,742.6 1215.1,741.4 1215.5,742.3 1215.8,743.8 1216.2,742.0 1216.5,742.3 1216.9,744.9 1217.2,743.7 1217.6,743.8 1217.9,744.4 1218.3,742.4 1218.6,742.6 1219.0,740.4 1219.3,744.1 1219.7,742.8 1220.0,743.1 1220.4,741.7 1220.7,743.9 1221.1,743.9 1221.4,743.3 1221.8,741.0 1222.1,742.0 1222.5,743.1 1222.8,742.0 1223.2,743.6 1223.5,744.4 1223.9,742.1 1224.2,742.9 1224.6,742.2 1224.9,744.5 1225.3,744.3 1225.6,746.6 1226.0,743.1 1226.3,741.9 1226.7,743.6 1227.0,742.8 1227.4,743.3 1227.7,744.7 1228.1,742.7 1228.4,744.0 1228.8,740.3 1229.1,744.5 1229.5,743.3 1229.8,742.8 1230.2,742.4 1230.5,745.0 1230.9,742.4 1231.2,744.8 1231.6,742.4 1231.9,743.2 1232.3,743.6 1232.6,745.8 1233.0,743.4 1233.3,743.4 1233.7,743.0 1234.0,742.7 1234.4,742.3 1234.7,745.5 1235.1,745.0 1235.4,742.2 1235.8,743.3 1236.1,741.6 1236.5,744.4 1236.8,744.0 1237.2,743.3 1237.5,742.1 1237.9,744.1 1238.2,743.9 1238.6,742.9 1238.9,744.1 1239.3,741.3 1239.6,742.3 1240.0,741.9 1240.3,743.3 1240.7,745.3 1241.0,743.2 1241.4,744.6 1241.7,743.1 1242.1,742.6 1242.4,744.4 1242.8,743.8 1243.1,745.0 1243.5,744.4 1243.8,742.0 1244.2,739.8 1244.5,743.3 1244.9,741.6 1245.2,741.3 1245.6,741.2 1245.9,742.3 1246.3,742.8 1246.6,743.1 1247.0,745.8 1247.3,741.5 1247.7,743.1 1248.0,741.5 1248.4,741.8 1248.7,743.2 1249.1,743.7 1249.4,741.4 1249.8,744.6 1250.1,741.9 1250.5,744.4 1250.8,743.0 1251.2,744.3 1251.5,743.8 1251.9,742.7 1252.2,743.7 1252.6,741.3 1252.9,741.4 1253.3,742.6 1253.6,744.9 1254.0,742.1 1254.3,742.3 1254.7,745.3 1255.0,743.2 1255.4,743.1 1255.7,741.7 1256.1,743.2 1256.4,743.9 1256.8,743.0 1257.1,744.1 1257.5,743.5 1257.8,744.5 1258.2,744.2 1258.5,742.9 1258.9,744.2 1259.2,745.5 1259.6,743.5 1259.9,741.5 1260.3,743.3 1260.6,742.8 1261.0,746.5 1261.3,744.1 1261.7,741.6 1262.0,742.8 1262.4,745.0 1262.7,741.6 1263.1,742.4 1263.4,743.1 1263.8,742.9 1264.1,742.3 1264.5,743.3 1264.8,741.2 1265.2,742.3 1265.5,742.3 1265.9,742.7 1266.2,742.7 1266.6,743.1 1266.9,742.6 1267.3,742.5 1267.6,743.5 1268.0,744.3 1268.3,744.3 1268.7,741.6 1269.0,743.4 1269.4,744.0 1269.7,742.7 1270.1,743.7 1270.4,742.8 1270.8,743.6 1271.1,741.1 1271.5,743.7 1271.8,742.4 1272.2,742.1 1272.5,742.7 1272.9,744.4 1273.2,744.3 1273.6,743.4 1273.9,744.2 1274.3,742.5 1274.6,741.4 1275.0,740.6 1275.3,743.0 1275.7,742.9 1276.0,743.1 1276.4,743.1 1276.7,744.7 1277.1,741.9 1277.4,742.0 1277.8,745.6 1278.1,744.1 1278.5,742.7 1278.8,740.4 1279.2,741.9 1279.5,742.6 1279.9,742.9 1280.2,743.3 1280.6,742.8 1280.9,744.6 1281.3,741.5 1281.6,742.7 1282.0,742.2 1282.3,744.1 1282.7,743.3 1283.0,744.1 1283.4,743.2 1283.7,748.0 1284.1,744.0 1284.4,742.1 1284.8,743.0 1285.1,742.5 1285.5,744.0 1285.8,744.3 1286.2,743.6 1286.5,742.8 1286.9,742.2 1287.2,745.2 1287.6,744.5 1287.9,739.2 1288.3,743.2 1288.6,742.0 1289.0,742.6 1289.3,745.3 1289.7,741.6 1290.0,741.7 1290.4,746.3 1290.7,742.5 1291.1,742.8 1291.4,744.6 1291.8,742.4 1292.1,743.1 1292.5,743.4 1292.8,744.9 1293.2,741.0 1293.5,742.0 1293.9,742.9 1294.2,744.3 1294.6,742.3 1294.9,743.7 1295.3,742.4 1295.6,742.6 1296.0,744.8 1296.3,742.8 1296.7,747.0 1297.0,743.6 1297.4,744.6 1297.7,744.1 1298.1,741.1 1298.4,741.1 1298.8,743.7 1299.1,741.7 1299.5,742.4 1299.8,742.7 1300.2,741.9 1300.5,744.7 1300.9,744.1 1301.2,743.3 1301.6,743.9 1301.9,741.9 1302.3,744.3 1302.6,742.0 1303.0,745.2 1303.3,742.3 1303.7,742.4 1304.0,744.6 1304.4,744.0 1304.7,741.9 1305.1,743.9 1305.4,743.1 1305.8,743.2 1306.1,743.9 1306.5,743.9 1306.8,744.5 1307.2,743.8 1307.5,743.6 1307.9,743.0 1308.2,745.1 1308.6,742.1 1308.9,745.6 1309.3,746.0 1309.6,746.0 1310.0,743.0 1310.3,745.9 1310.7,744.6 1311.0,744.5 1311.4,747.4 1311.7,743.4 1312.1,743.9 1312.4,741.5 1312.8,740.3 1313.1,743.5 1313.5,743.7 1313.8,744.1 1314.2,743.6 1314.5,740.6 1314.9,743.7 1315.2,744.6 1315.6,745.2 1315.9,741.9 1316.3,742.0 1316.6,742.3 1317.0,742.3 1317.3,741.1 1317.7,742.3 1318.0,745.2 1318.4,741.8 1318.7,740.7 1319.1,742.8 1319.4,742.5 1319.8,744.1 1320.1,742.2 1320.5,742.9 1320.8,742.1 1321.2,741.9 1321.5,743.7 1321.9,743.3 1322.2,743.1 1322.6,743.8 1322.9,742.1 1323.3,743.2 1323.6,743.4 1324.0,744.7 1324.3,740.7 1324.7,742.7 1325.0,743.8 1325.4,742.4 1325.7,743.3 1326.1,744.1 1326.4,743.8 1326.8,740.9 1327.1,741.6 1327.5,739.5 1327.8,744.0 1328.2,743.5 1328.5,744.9 1328.9,743.3 1329.2,741.7 1329.6,744.6 1329.9,741.5 1330.3,743.2 1330.6,742.9 1331.0,744.2 1331.3,744.4 1331.7,742.7 1332.0,742.3 1332.4,743.1 1332.7,742.5 1333.1,744.4 1333.4,743.7 1333.8,745.0 1334.1,746.6 1334.5,742.1 1334.8,742.4 1335.2,743.8 1335.5,743.7 1335.9,742.8 1336.2,741.0 1336.6,746.5 1336.9,743.3 1337.3,741.7 1337.6,740.1 1338.0,745.0 1338.3,743.7 1338.7,743.2 1339.0,741.9 1339.4,743.1 1339.7,742.7 1340.1,740.0 1340.4,746.7 1340.8,743.8 1341.1,742.8 1341.5,742.0 1341.8,742.5 1342.2,746.4 1342.5,743.8 1342.9,741.5 1343.2,744.4 1343.6,743.9 1343.9,743.9 1344.3,743.1 1344.6,743.0 1345.0,743.5 1345.3,743.0 1345.7,741.4 1346.0,741.9 1346.4,743.3 1346.7,741.2 1347.1,743.1 1347.4,742.8 1347.8,744.2 1348.1,743.5 1348.5,742.9 1348.8,742.9 1349.2,743.8 1349.5,744.5 1349.9,741.9 1350.2,741.3 1350.6,742.3 1350.9,740.3 1351.3,742.2 1351.6,744.4 1352.0,744.5 1352.3,745.3 1352.7,743.4 1353.0,743.5 1353.4,742.5 1353.7,742.6 1354.1,743.7 1354.4,744.5 1354.8,743.8 1355.1,740.6 1355.5,743.9 1355.8,743.3 1356.2,742.5 1356.5,743.5 1356.9,744.5 1357.2,743.5 1357.6,742.3 1357.9,747.6 1358.3,742.5 1358.6,743.9 1359.0,744.9 1359.3,742.2 1359.7,744.0 1360.0,742.2 1360.4,742.9 1360.7,742.3 1361.1,745.6 1361.4,741.5 1361.8,744.0 1362.1,743.3 1362.5,740.7 1362.8,745.5 1363.2,742.6 1363.5,743.0 1363.9,743.6 1364.2,742.1 1364.6,742.3 1364.9,743.3 1365.3,742.2 1365.6,743.4 1366.0,744.9 1366.3,742.0 1366.7,741.3 1367.0,743.1 1367.4,743.8 1367.7,744.2 1368.1,741.9 1368.4,740.3 1368.8,744.4 1369.1,744.2 1369.5,745.3 1369.8,742.1 1370.2,744.0 1370.5,744.6 1370.9,740.9 1371.2,744.7 1371.6,745.2 1371.9,744.1 1372.3,744.0 1372.6,744.3 1373.0,743.0 1373.3,741.5 1373.7,742.1 1374.0,743.1 1374.4,742.2 1374.7,744.6 1375.1,742.8 1375.4,743.2 1375.8,741.0 1376.1,743.8 1376.5,742.4 1376.8,745.3 1377.2,741.1 1377.5,743.7 1377.9,742.8 1378.2,742.9 1378.6,745.5 1378.9,744.6 1379.3,742.2 1379.6,745.1 1380.0,742.5 1380.3,744.4 1380.7,741.1 1381.0,742.9 1381.4,743.0 1381.7,742.9 1382.1,741.3 1382.4,740.9 1382.8,743.3 1383.1,744.1 1383.5,743.4 1383.8,742.9 1384.2,741.4 1384.5,743.0 1384.9,742.6 1385.2,742.4 1385.6,743.6 1385.9,743.6 1386.3,743.9 1386.6,743.0 1387.0,742.3 1387.3,743.1 1387.7,742.9 1388.0,741.2 1388.4,742.9 1388.7,741.2 1389.1,740.8 1389.4,742.3 1389.8,742.5 1390.1,744.2 1390.5,743.0 1390.8,744.0 1391.2,745.2 1391.5,743.5 1391.9,743.8 1392.2,742.5 1392.6,744.4 1392.9,743.4 1393.3,743.4 1393.6,741.9 1394.0,742.2 1394.3,742.5 1394.7,743.5 1395.0,744.7 1395.4,741.4 1395.7,742.9 1396.1,743.0 1396.4,746.3 1396.8,743.1 1397.1,742.7 1397.5,744.3 1397.8,741.9 1398.2,744.0 1398.5,741.2 1398.9,745.9 1399.2,743.3 1399.6,742.8 1399.9,741.7 1400.3,743.2 1400.6,743.4 1401.0,742.4 1401.3,744.9 1401.7,742.9 1402.0,743.5 1402.4,743.7 1402.7,745.1 1403.1,742.9 1403.4,743.4 1403.8,743.7 1404.1,744.1 1404.5,741.0 1404.8,744.8 1405.2,743.2 1405.5,742.4 1405.9,743.3 1406.2,740.9 1406.6,742.4 1406.9,743.6 1407.3,745.1 1407.6,743.2 1408.0,743.9 1408.3,743.0 1408.7,744.5 1409.0,742.8 1409.4,743.9 1409.7,742.9 1410.1,742.1 1410.4,742.1 1410.8,742.5 1411.1,744.8 1411.5,747.4 1411.8,743.1 1412.2,742.4 1412.5,744.0 1412.9,744.0 1413.2,742.7 1413.6,745.8 1413.9,744.5 1414.3,744.6 1414.6,743.4 1415.0,743.5 1415.3,744.6 1415.7,741.6 1416.0,742.3 1416.4,743.5 1416.7,741.5 1417.1,745.5 1417.4,742.6 1417.8,742.8 1418.1,743.8 1418.5,745.3 1418.8,743.3 1419.2,742.4 1419.5,742.2 1419.9,743.7 1420.2,742.6 1420.6,746.4 1420.9,745.0 1421.3,739.3 1421.6,742.2 1422.0,743.8 1422.3,746.3 1422.7,740.8 1423.0,742.8 1423.4,744.9 1423.7,742.5 1424.1,743.4 1424.4,742.7 1424.8,744.2 1425.1,741.9 1425.5,743.4 1425.8,741.5 1426.2,744.6 1426.5,744.1 1426.9,743.3 1427.2,743.4 1427.6,743.4 1427.9,742.9 1428.3,743.5 1428.6,743.8 1429.0,743.2 1429.3,742.6 1429.7,742.8 1430.0,742.8 1430.4,743.9 1430.7,743.5 1431.1,745.8 1431.4,743.1 1431.8,743.4 1432.1,742.5 1432.5,743.5 1432.8,742.8 1433.2,742.2 1433.5,743.5 1433.9,745.3 1434.2,742.2 1434.6,742.5 1434.9,743.3 1435.3,743.6 1435.6,745.0 1436.0,742.5 1436.3,743.1 1436.7,742.3 1437.0,742.2 1437.4,742.7 1437.7,741.9 1438.1,743.9 1438.4,744.6 1438.8,742.6 1439.1,742.4 1439.5,745.0 1439.8,743.0 1440.2,745.2 1440.5,739.6 1440.9,743.1 1441.2,742.0 1441.6,742.6 1441.9,744.3 1442.3,744.6 1442.6,743.0 1443.0,744.4 1443.3,741.8 1443.7,743.6 1444.0,743.1 1444.4,741.1 1444.7,744.4 1445.1,742.4 1445.4,743.8 1445.8,742.3 1446.1,743.5 1446.5,744.0 1446.8,743.2 1447.2,742.6 1447.5,744.0 1447.9,743.5 1448.2,742.7 1448.6,743.3 1448.9,743.1 1449.3,742.8 1449.6,744.4 1450.0,745.4 1450.3,742.6 1450.7,743.1 1451.0,742.0 1451.4,741.5 1451.7,744.7 1452.1,742.4 1452.4,743.7 1452.8,741.5 1453.1,742.4 1453.5,743.8 1453.8,743.8 1454.2,743.5 1454.5,743.7 1454.9,743.5 1455.2,744.5 1455.6,745.4 1455.9,743.9 1456.3,743.1 1456.6,741.9 1457.0,742.6 1457.3,742.8 1457.7,745.0 1458.0,741.2 1458.4,742.2 1458.7,741.9 1459.1,744.3 1459.4,742.3 1459.8,740.9 1460.1,740.6 1460.5,743.6 1460.8,741.1 1461.2,744.6 1461.5,744.5 1461.9,741.7 1462.2,742.7 1462.6,743.2 1462.9,741.3 1463.3,741.6 1463.6,742.3 1464.0,743.1 1464.3,743.5 1464.7,740.8 1465.0,743.4 1465.4,743.0 1465.7,742.8 1466.1,742.5 1466.4,744.4 1466.8,745.1 1467.1,742.5 1467.5,742.9 1467.8,741.1 1468.2,742.6 1468.5,744.0 1468.9,743.0 1469.2,743.6 1469.6,743.0 1469.9,743.2 1470.3,743.9 1470.6,744.1 1471.0,740.6 1471.3,742.8 1471.7,739.4 1472.0,743.1 1472.4,742.4 1472.7,742.4 1473.1,745.1 1473.4,743.6 1473.8,744.5 1474.1,743.9 1474.5,745.2 1474.8,742.8 1475.2,742.8 1475.5,743.0 1475.9,746.2 1476.2,742.6 1476.6,743.1 1476.9,744.8 1477.3,744.3 1477.6,742.5 1478.0,745.3 1478.3,743.7 1478.7,744.9 1479.0,743.8 1479.4,744.1 1479.7,742.1 1480.1,744.9 1480.4,742.2 1480.8,743.2 1481.1,744.4 1481.5,742.6 1481.8,743.2 1482.2,743.1 1482.5,743.2 1482.9,743.8 1483.2,741.1 1483.6,742.4 1483.9,745.6 1484.3,740.6 1484.6,742.2 1485.0,744.0 1485.3,740.7 1485.7,741.9 1486.0,742.0 1486.4,745.0 1486.7,741.9 1487.1,743.8 1487.4,742.2 1487.8,743.0 1488.1,741.5 1488.5,741.1 1488.8,742.4 1489.2,741.2 1489.5,742.7 1489.9,743.1 1490.2,743.5 1490.6,744.9 1490.9,744.7 1491.3,741.5 1491.6,742.0 1492.0,745.0 1492.3,742.8 1492.7,742.4 1493.0,744.2 1493.4,742.1 1493.7,744.1 1494.1,742.5 1494.4,744.5 1494.8,742.7 1495.1,743.9 1495.5,744.2 1495.8,744.9 1496.2,741.8 1496.5,742.3 1496.9,741.0 1497.2,740.6 1497.6,742.1 1497.9,743.0 1498.3,744.3 1498.6,742.2 1499.0,745.1 1499.3,742.9 1499.7,743.8 1500.0,742.4 1500.4,741.1 1500.7,744.7 1501.1,742.3 1501.4,744.0 1501.8,742.1 1502.1,743.3 1502.5,742.4 1502.8,742.1 1503.2,742.4 1503.5,743.4 1503.9,741.0 1504.2,741.2 1504.6,743.7 1504.9,741.5 1505.3,742.6 1505.6,740.7 1506.0,742.1 1506.3,743.7 1506.7,742.4 1507.0,742.5 1507.4,741.7 1507.7,742.3 1508.1,739.9 1508.4,740.0 1508.8,742.6 1509.1,739.8 1509.5,743.6 1509.8,743.0 1510.2,740.3 1510.5,739.0 1510.9,738.6 1511.2,742.0 1511.6,741.3 1511.9,743.1 1512.3,741.8 1512.6,743.0 1513.0,742.0 1513.3,739.4 1513.7,740.1 1514.0,739.0 1514.4,739.4 1514.7,738.7 1515.1,738.7 1515.4,740.3 1515.8,737.2 1516.1,735.7 1516.5,735.8 1516.8,735.2 1517.2,734.2 1517.5,733.8 1517.9,732.5 1518.2,733.4 1518.6,732.0 1518.9,728.4 1519.3,729.4 1519.6,728.6 1520.0,725.1 1520.3,722.3 1520.7,722.5 1521.0,720.1 1521.4,719.0 1521.7,715.2 1522.1,718.3 1522.4,713.3 1522.8,712.9 1523.1,709.8 1523.5,709.7 1523.8,704.8 1524.2,705.4 1524.5,702.9 1524.9,707.9 1525.2,704.0 1525.6,703.8 1525.9,708.4 1526.3,706.5 1526.6,707.8 1527.0,710.8 1527.3,711.1 1527.7,712.2 1528.0,714.1 1528.4,711.8 1528.7,718.3 1529.1,720.0 1529.4,722.4 1529.8,718.3 1530.1,721.8 1530.5,723.8 1530.8,728.5 1531.2,728.4 1531.5,731.5 1531.9,730.9 1532.2,730.7 1532.6,730.9 1532.9,733.0 1533.3,736.6 1533.6,734.4 1534.0,734.0 1534.3,737.4 1534.7,739.5 1535.0,741.4 1535.4,740.4 1535.7,740.5 1536.1,737.3 1536.4,739.4 1536.8,739.7 1537.1,740.6 1537.5,739.5 1537.8,741.9 1538.2,742.6 1538.5,741.3 1538.9,740.9 1539.2,741.6 1539.6,742.0 1539.9,742.6 1540.3,740.5 1540.6,743.5 1541.0,741.8 1541.3,741.6 1541.7,742.7 1542.0,741.0 1542.4,743.0 1542.7,744.7 1543.1,742.6 1543.4,742.3 1543.8,741.5 1544.1,744.0 1544.5,743.5 1544.8,740.2 1545.2,743.4 1545.5,741.3 1545.9,740.7 1546.2,742.1 1546.6,741.4 1546.9,743.7 1547.3,740.6 1547.6,740.6 1548.0,741.1 1548.3,742.1 1548.7,743.0 1549.0,740.9 1549.4,741.4 1549.7,740.3 1550.1,742.1 1550.4,741.0 1550.8,745.1 1551.1,744.8 1551.5,741.2 1551.8,742.5 1552.2,742.9 1552.5,741.7 1552.9,741.9 1553.2,743.2 1553.6,742.0 1553.9,742.0 1554.3,742.3 1554.6,743.9 1555.0,742.1 1555.3,742.9 1555.7,742.7 1556.0,743.3 1556.4,742.1 1556.7,741.8 1557.1,741.5 1557.4,742.7 1557.8,742.6 1558.1,742.1 1558.5,742.7 1558.8,745.4 1559.2,743.4 1559.5,740.1 1559.9,744.0 1560.2,742.6 1560.6,741.1 1560.9,744.1 1561.3,742.3 1561.6,743.7 1562.0,741.6 1562.3,743.7 1562.7,742.0 1563.0,743.6 1563.4,743.4 1563.7,740.9 1564.1,742.8 1564.4,742.9 1564.8,742.3 1565.1,740.1 1565.5,742.7 1565.8,741.9 1566.2,743.8 1566.5,741.0 1566.9,743.6 1567.2,742.5 1567.6,745.5 1567.9,741.0 1568.3,743.5 1568.6,741.6 1569.0,741.1 1569.3,743.6 1569.7,743.0 1570.0,743.6 1570.4,740.2 1570.7,740.7 1571.1,743.0 1571.4,741.1 1571.8,743.8 1572.1,744.3 1572.5,742.0 1572.8,742.2 1573.2,742.1 1573.5,741.7 1573.9,742.0 1574.2,741.8 1574.6,742.6 1574.9,741.6 1575.3,741.3 1575.6,741.6 1576.0,741.1 1576.3,741.8 1576.7,742.5 1577.0,744.4 1577.4,739.7 1577.7,740.0 1578.1,741.6 1578.4,741.7 1578.8,741.6 1579.1,744.0 1579.5,739.3 1579.8,741.4 1580.2,739.9 1580.5,741.1 1580.9,742.1 1581.2,739.6 1581.6,742.7 1581.9,740.2 1582.3,739.9 1582.6,739.1 1583.0,740.3 1583.3,740.2 1583.7,742.2 1584.0,739.1 1584.4,741.3 1584.7,742.1 1585.1,740.6 1585.4,741.9 1585.8,740.0 1586.1,741.4 1586.5,740.4 1586.8,743.6 1587.2,740.4 1587.5,740.3 1587.9,741.2 1588.2,739.9 1588.6,740.3 1588.9,741.0 1589.3,741.6 1589.6,739.7 1590.0,740.5 1590.3,740.2 1590.7,741.3 1591.0,741.4 1591.4,740.8 1591.7,740.6 1592.1,742.5 1592.4,739.0 1592.8,742.2 1593.1,740.8 1593.5,738.0 1593.8,740.2 1594.2,738.1 1594.5,739.7 1594.9,737.2 1595.2,740.8 1595.6,738.7 1595.9,741.9 1596.3,738.7 1596.6,739.7 1597.0,737.8 1597.3,739.3 1597.7,739.5 1598.0,740.1 1598.4,742.6 1598.7,741.5 1599.1,740.3 1599.4,738.8 1599.8,738.8 1600.1,738.7 1600.5,737.9 1600.8,739.9 1601.2,738.9 1601.5,739.6 1601.9,738.6 1602.2,739.3 1602.6,741.1 1602.9,739.2 1603.3,739.9 1603.6,737.5 1604.0,738.4 1604.3,738.0 1604.7,739.2 1605.0,738.8 1605.4,737.5 1605.7,738.8 1606.1,738.5 1606.4,736.2 1606.8,738.2 1607.1,739.8 1607.5,737.0 1607.8,739.6 1608.2,739.0 1608.5,738.2 1608.9,738.6 1609.2,736.8 1609.6,738.8 1609.9,735.9 1610.3,736.3 1610.6,738.5 1611.0,736.2 1611.3,740.4 1611.7,738.1 1612.0,738.8 1612.4,738.9 1612.7,737.0 1613.1,737.5 1613.4,738.1 1613.8,737.4 1614.1,739.5 1614.5,738.7 1614.8,737.6 1615.2,739.0 1615.5,737.3 1615.9,738.3 1616.2,737.4 1616.6,736.8 1616.9,735.9 1617.3,736.1 1617.6,737.1 1618.0,737.6 1618.3,734.1 1618.7,736.4 1619.0,737.7 1619.4,736.7 1619.7,735.4 1620.1,735.5 1620.4,739.1 1620.8,734.7 1621.1,736.4 1621.5,737.9 1621.8,734.1 1622.2,737.7 1622.5,734.6 1622.9,738.1 1623.2,740.3 1623.6,735.0 1623.9,736.6 1624.3,737.1 1624.6,735.9 1625.0,737.4 1625.3,735.6 1625.7,735.8 1626.0,735.5 1626.4,736.5 1626.7,737.2 1627.1,737.8 1627.4,736.4 1627.8,735.0 1628.1,735.8 1628.5,735.8 1628.8,735.9 1629.2,737.2 1629.5,736.2 1629.9,736.5 1630.2,736.5 1630.6,736.3 1630.9,735.7 1631.3,737.3 1631.6,736.2 1632.0,736.2 1632.3,734.8 1632.7,735.3 1633.0,735.5 1633.4,737.0 1633.7,733.9 1634.1,737.2 1634.4,736.4 1634.8,735.2 1635.1,735.0 1635.5,736.9 1635.8,736.5 1636.2,733.5 1636.5,735.2 1636.9,734.9 1637.2,736.0 1637.6,735.2 1637.9,736.7 1638.3,735.4 1638.6,735.7 1639.0,737.8 1639.3,735.7 1639.7,735.4 1640.0,736.1 1640.4,734.3 1640.7,733.8 1641.1,736.0 1641.4,735.2 1641.8,734.0 1642.1,737.2 1642.5,736.9 1642.8,736.3 1643.2,735.2 1643.5,735.7 1643.9,735.1 1644.2,737.1 1644.6,733.9 1644.9,736.3 1645.3,735.9 1645.6,734.3 1646.0,736.7 1646.3,735.4 1646.7,738.4 1647.0,737.4 1647.4,735.8 1647.7,735.3 1648.1,734.9 1648.4,734.8 1648.8,736.2 1649.1,733.8 1649.5,737.1 1649.8,736.7 1650.2,735.6 1650.5,736.8 1650.9,738.9 1651.2,736.2 1651.6,738.1 1651.9,735.3 1652.3,734.9 1652.6,737.1 1653.0,733.1 1653.3,737.0 1653.7,735.7 1654.0,735.1 1654.4,735.8 1654.7,735.9 1655.1,737.4 1655.4,736.8 1655.8,736.0 1656.1,735.4 1656.5,734.4 1656.8,735.9 1657.2,732.2 1657.5,737.0 1657.9,735.7 1658.2,733.4 1658.6,736.4 1658.9,734.4 1659.3,735.0 1659.6,733.2 1660.0,734.6 1660.3,735.8 1660.7,735.5 1661.0,736.0 1661.4,734.6 1661.7,736.4 1662.1,733.6 1662.4,734.8 1662.8,732.0 1663.1,735.2 1663.5,734.8 1663.8,735.3 1664.2,736.3 1664.5,737.3 1664.9,733.9 1665.2,735.2 1665.6,732.9 1665.9,738.0 1666.3,737.3 1666.6,736.2 1667.0,737.2 1667.3,736.7 1667.7,734.6 1668.0,736.5 1668.4,737.1 1668.7,736.6 1669.1,735.4 1669.4,735.0 1669.8,738.7 1670.1,735.9 1670.5,736.2 1670.8,733.6 1671.2,736.4 1671.5,735.8 1671.9,734.3 1672.2,737.2 1672.6,735.5 1672.9,736.3 1673.3,736.1 1673.6,734.5 1674.0,735.8 1674.3,737.3 1674.7,733.9 1675.0,734.0 1675.4,734.2 1675.7,736.4 1676.1,734.8 1676.4,735.8 1676.8,737.0 1677.1,733.9 1677.5,737.4 1677.8,735.4 1678.2,735.1 1678.5,737.5 1678.9,736.0 1679.2,733.6 1679.6,735.3 1679.9,734.3 1680.3,735.7 1680.6,734.7 1681.0,734.9 1681.3,736.7 1681.7,733.0 1682.0,735.7 1682.4,735.0 1682.7,735.8 1683.1,732.1 1683.4,734.0 1683.8,734.8 1684.1,737.6 1684.5,733.6 1684.8,733.8 1685.2,735.0 1685.5,735.7" fill="none" stroke="#ff4040" stroke-width="6.2" stroke-linejoin="round" stroke-linecap="butt"/>
</g>
<g font-family="'Liberation Serif', serif" font-weight="bold" font-size="83.3" text-anchor="middle" fill="#000">
<text x="134.3" y="1361.1">10</text>
<text x="306.7" y="1361.1">20</text>
<text x="479.1" y="1361.1">30</text>
<text x="651.4" y="1361.1">40</text>
<text x="823.8" y="1361.1">50</text>
<text x="996.2" y="1361.1">60</text>
<text x="1168.5" y="1361.1">70</text>
<text x="1340.9" y="1361.1">80</text>
<text x="1513.2" y="1361.1">90</text>
<text x="1685.6" y="1361.1">100</text>
</g>
<text x="909.5" y="1494.7" font-family="'Liberation Serif', serif" font-weight="bold" font-size="83.3" text-anchor="middle" fill="#000">2 Theta (degree)</text>
<text transform="translate(76,649.2) rotate(-90)" font-family="'Liberation Serif', serif" font-weight="bold" font-size="82.5" text-anchor="middle" fill="#000">Intensity (a.u.)</text>
<line x1="221.8" y1="118.6" x2="353.3" y2="118.6" stroke="#505050" stroke-width="6.4" stroke-linecap="round"/>
<line x1="221.8" y1="190.9" x2="353.3" y2="190.9" stroke="#ff4040" stroke-width="6.4" stroke-linecap="round"/>
<g font-family="'Liberation Serif', serif" font-size="47.5" fill="#000">
<text x="368.8" y="138.3">IN625+1% Al2O3</text>
<text x="368.8" y="210.5">IN625+1% h-BN</text>
</g>
<g fill="#000">
<circle cx="721.6" cy="700.7" r="13.9"/>
<circle cx="841.0" cy="135.4" r="13.9"/>
<circle cx="1255" cy="716.8" r="13.9"/>
<circle cx="1525.1" cy="682.2" r="13.9"/>
<circle cx="842.0" cy="848.4" r="13.9"/>
<circle cx="721.2" cy="1052.6" r="13.9"/>
<circle cx="1252.85" cy="1171.85" r="13.9"/>
<circle cx="1525.7" cy="1160.5" r="13.9"/>
<path d="M649.80,1167.40 L664.10,1186.70 L649.80,1206.00 L635.50,1186.70 Z"/>
<path d="M764.70,1169.50 L779.00,1188.80 L764.70,1208.10 L750.40,1188.80 Z"/>
<polygon points="1008.30,1179.80 1012.94,1193.88 1027.51,1194.03 1015.81,1202.89 1020.17,1217.07 1008.30,1208.46 996.43,1217.07 1000.79,1202.89 989.09,1194.03 1003.66,1193.88"/>
<path d="M527.90,674.70 Q531.90,689.30 546.50,693.30 Q531.90,697.30 527.90,711.90 Q523.90,697.30 509.30,693.30 Q523.90,689.30 527.90,674.70 Z"/>
<path d="M970.40,697.50 Q974.40,712.10 989.00,716.10 Q974.40,720.10 970.40,734.70 Q966.40,720.10 951.80,716.10 Q966.40,712.10 970.40,697.50 Z"/>
<path d="M576.10,677.10 L576.10,714.70 M592.38,686.50 L559.82,705.30 M592.38,705.30 L559.82,686.50" stroke="#000" stroke-width="7.2" fill="none"/>
<path d="M756.20,689.20 L756.20,726.80 M772.48,698.60 L739.92,717.40 M772.48,717.40 L739.92,698.60" stroke="#000" stroke-width="7.2" fill="none"/>
<circle cx="1425.3" cy="83.2" r="13.9"/>
<path d="M1422.30,142.90 L1436.60,162.20 L1422.30,181.50 L1408.00,162.20 Z"/>
<polygon points="1428.00,241.60 1432.64,255.68 1447.21,255.83 1435.51,264.69 1439.87,278.87 1428.00,270.26 1416.13,278.87 1420.49,264.69 1408.79,255.83 1423.36,255.68"/>
<path d="M1427.90,337.20 Q1431.90,351.80 1446.50,355.80 Q1431.90,359.80 1427.90,374.40 Q1423.90,359.80 1409.30,355.80 Q1423.90,351.80 1427.90,337.20 Z"/>
<path d="M1429.50,416.60 L1429.50,454.20 M1445.78,426.00 L1413.22,444.80 M1445.78,444.80 L1413.22,426.00" stroke="#000" stroke-width="7.2" fill="none"/>
</g>
<g font-family="'Liberation Serif', serif" font-size="53" fill="#000">
<text y="101.5"><tspan x="1461.9" font-size="64">γ</tspan><tspan x="1490.5" font-size="64" dy="0.5">-</tspan><tspan x="1512.2" dy="-0.5">Ni</tspan></text>
<text x="1456" y="181.2">α-Al<tspan dy="17">2</tspan><tspan dy="-17">O</tspan><tspan dy="17">3</tspan></text>
<text x="1464" y="278">γ-Al<tspan dy="17">2</tspan><tspan dy="-17">O</tspan><tspan dy="17">3</tspan></text>
<text x="1466" y="374.6">NiB</text>
<text x="1470.5" y="454.2">Ni<tspan dy="17">2</tspan><tspan dy="-17">B</tspan></text>
</g>
</svg>
</body></html>
